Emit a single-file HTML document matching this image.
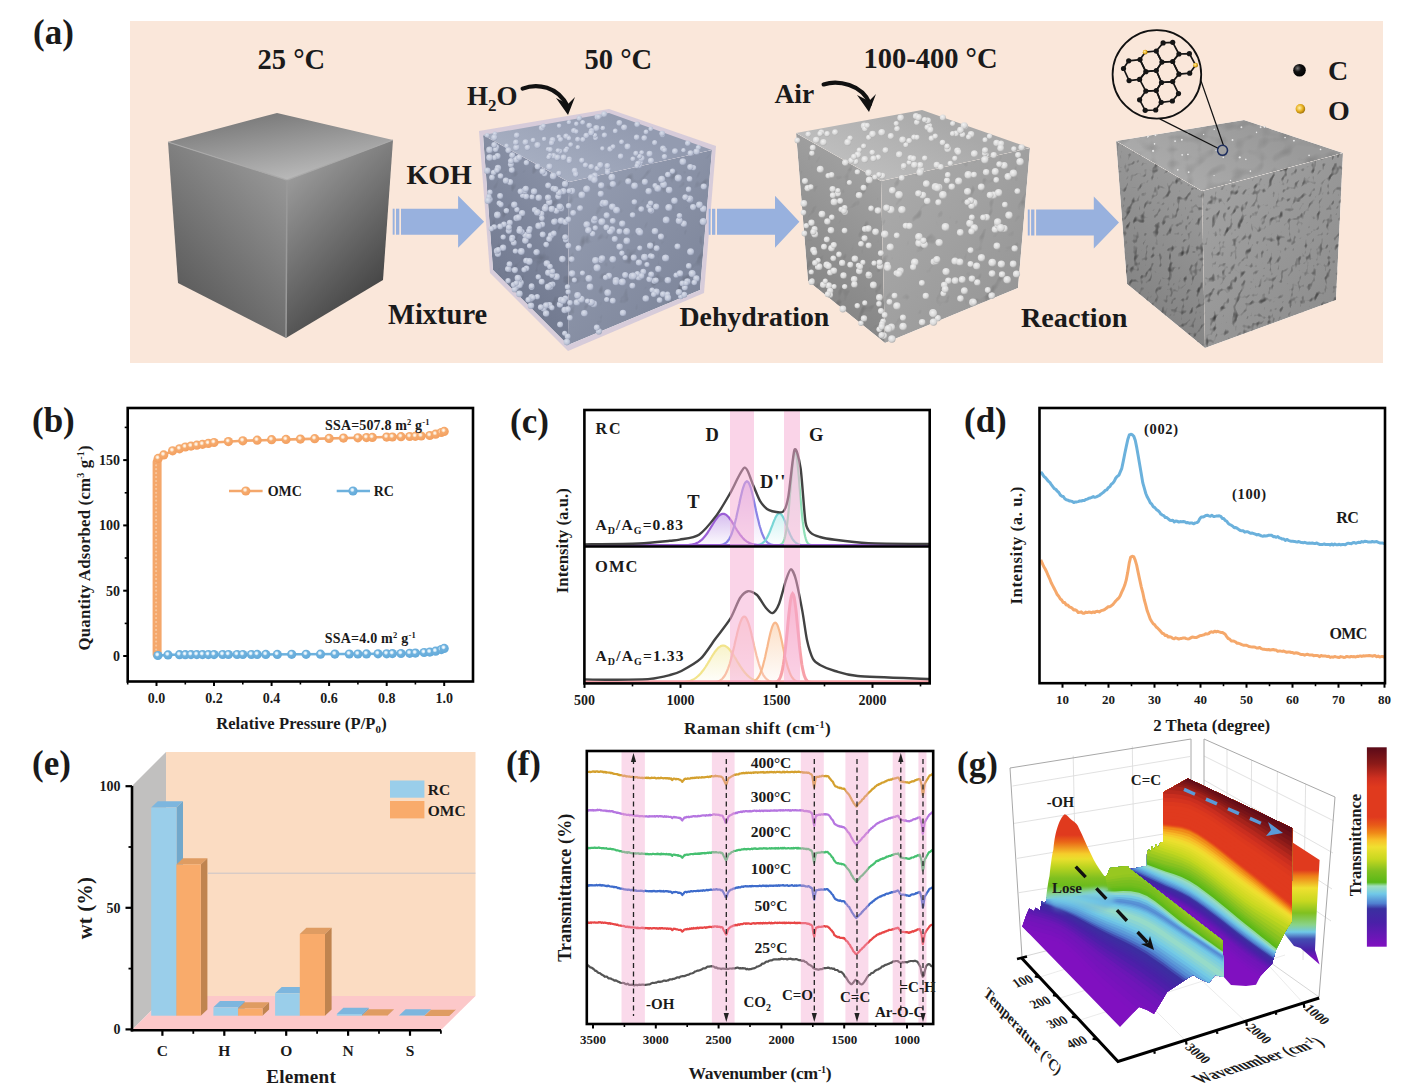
<!DOCTYPE html>
<html><head><meta charset="utf-8"><style>
html,body{margin:0;padding:0;background:#fff;width:1426px;height:1092px;overflow:hidden}
svg{display:block;font-family:"Liberation Serif",serif}
</style></head><body>
<svg width="1426" height="1092" viewBox="0 0 1426 1092">
<defs><linearGradient id="c1top" x1="277" y1="113" x2="287" y2="180" gradientUnits="userSpaceOnUse"><stop offset="0" stop-color="#7c7c7c"/><stop offset="1" stop-color="#b9b9b9"/></linearGradient><linearGradient id="c1left" x1="287" y1="180" x2="178" y2="283" gradientUnits="userSpaceOnUse"><stop offset="0" stop-color="#979797"/><stop offset="1" stop-color="#5e5e5e"/></linearGradient><linearGradient id="c1right" x1="287" y1="180" x2="383" y2="280" gradientUnits="userSpaceOnUse"><stop offset="0" stop-color="#9a9a9a"/><stop offset="1" stop-color="#474747"/></linearGradient><radialGradient id="sph2" cx="0.4" cy="0.35" r="0.65"><stop offset="0" stop-color="#d9deea"/><stop offset="0.7" stop-color="#bcc3d6"/><stop offset="1" stop-color="#9aa2b8"/></radialGradient><radialGradient id="sph3" cx="0.4" cy="0.35" r="0.65"><stop offset="0" stop-color="#f2f2f2"/><stop offset="0.7" stop-color="#d8d8d8"/><stop offset="1" stop-color="#b0b0b0"/></radialGradient><linearGradient id="c2top" x1="609" y1="113" x2="569" y2="182" gradientUnits="userSpaceOnUse"><stop offset="0" stop-color="#939bb0"/><stop offset="1" stop-color="#a5adc0"/></linearGradient><linearGradient id="c2left" x1="569" y1="182" x2="493" y2="270" gradientUnits="userSpaceOnUse"><stop offset="0" stop-color="#8991a6"/><stop offset="1" stop-color="#737b91"/></linearGradient><linearGradient id="c2right" x1="569" y1="182" x2="700" y2="290" gradientUnits="userSpaceOnUse"><stop offset="0" stop-color="#959db1"/><stop offset="1" stop-color="#7e869b"/></linearGradient><filter id="bump2" x="0" y="0" width="1" height="1" color-interpolation-filters="sRGB"><feTurbulence type="fractalNoise" baseFrequency="0.07 0.05" numOctaves="2" seed="12" result="n"/><feDiffuseLighting in="n" surfaceScale="2.0" diffuseConstant="1.25" lighting-color="#fff" result="l"><feDistantLight azimuth="235" elevation="60"/></feDiffuseLighting><feBlend in="SourceGraphic" in2="l" mode="multiply" result="b"/><feComposite in="b" in2="SourceAlpha" operator="in"/></filter><linearGradient id="c3top" x1="922" y1="110" x2="881" y2="181" gradientUnits="userSpaceOnUse"><stop offset="0" stop-color="#a9a9a9"/><stop offset="1" stop-color="#bdbdbd"/></linearGradient><linearGradient id="c3left" x1="881" y1="181" x2="808" y2="281" gradientUnits="userSpaceOnUse"><stop offset="0" stop-color="#a0a0a0"/><stop offset="1" stop-color="#888888"/></linearGradient><linearGradient id="c3right" x1="881" y1="181" x2="1018" y2="288" gradientUnits="userSpaceOnUse"><stop offset="0" stop-color="#ababab"/><stop offset="1" stop-color="#979797"/></linearGradient><linearGradient id="c4top" x1="1244" y1="120" x2="1202" y2="191" gradientUnits="userSpaceOnUse"><stop offset="0" stop-color="#9a9a9a"/><stop offset="1" stop-color="#aaaaaa"/></linearGradient><linearGradient id="c4left" x1="1202" y1="191" x2="1127" y2="284" gradientUnits="userSpaceOnUse"><stop offset="0" stop-color="#9a9a9a"/><stop offset="1" stop-color="#858585"/></linearGradient><linearGradient id="c4right" x1="1202" y1="191" x2="1336" y2="300" gradientUnits="userSpaceOnUse"><stop offset="0" stop-color="#a2a2a2"/><stop offset="1" stop-color="#8e8e8e"/></linearGradient><filter id="bump4" x="0" y="0" width="1" height="1" color-interpolation-filters="sRGB"><feTurbulence type="fractalNoise" baseFrequency="0.14 0.1" numOctaves="2" seed="4" result="n"/><feDiffuseLighting in="n" surfaceScale="2.8" diffuseConstant="1.32" lighting-color="#fff" result="l"><feDistantLight azimuth="235" elevation="58"/></feDiffuseLighting><feBlend in="SourceGraphic" in2="l" mode="multiply" result="b"/><feComposite in="b" in2="SourceAlpha" operator="in"/></filter><filter id="bump4t" x="0" y="0" width="1" height="1" color-interpolation-filters="sRGB"><feTurbulence type="fractalNoise" baseFrequency="0.08" numOctaves="1" seed="9" result="n"/><feDiffuseLighting in="n" surfaceScale="1.5" diffuseConstant="1.15" lighting-color="#fff" result="l"><feDistantLight azimuth="235" elevation="60"/></feDiffuseLighting><feBlend in="SourceGraphic" in2="l" mode="multiply" result="b"/><feComposite in="b" in2="SourceAlpha" operator="in"/></filter><radialGradient id="atomC" cx="0.35" cy="0.35" r="0.7"><stop offset="0" stop-color="#777"/><stop offset="0.4" stop-color="#111"/><stop offset="1" stop-color="#000"/></radialGradient><radialGradient id="atomO" cx="0.4" cy="0.4" r="0.7"><stop offset="0" stop-color="#fff3b0"/><stop offset="0.5" stop-color="#e8b020"/><stop offset="1" stop-color="#8a6000"/></radialGradient><radialGradient id="mkO" cx="0.42" cy="0.38" r="0.62"><stop offset="0" stop-color="#ffffff"/><stop offset="0.22" stop-color="#fce2c8"/><stop offset="0.42" stop-color="#f6ab6e"/><stop offset="1" stop-color="#f39f5f"/></radialGradient><radialGradient id="mkR" cx="0.42" cy="0.38" r="0.62"><stop offset="0" stop-color="#ffffff"/><stop offset="0.22" stop-color="#d4eaf8"/><stop offset="0.42" stop-color="#6fb2de"/><stop offset="1" stop-color="#62a9d9"/></radialGradient><linearGradient id="gc_T" x1="0" y1="0" x2="0" y2="1"><stop offset="0" stop-color="#c9a8ea" stop-opacity="0.75"/><stop offset="1" stop-color="#c9a8ea" stop-opacity="0.05"/></linearGradient><linearGradient id="gc_D" x1="0" y1="0" x2="0" y2="1"><stop offset="0" stop-color="#d5b9f0" stop-opacity="0.75"/><stop offset="1" stop-color="#d5b9f0" stop-opacity="0.05"/></linearGradient><linearGradient id="gc_Dpp" x1="0" y1="0" x2="0" y2="1"><stop offset="0" stop-color="#bfeeee" stop-opacity="0.75"/><stop offset="1" stop-color="#bfeeee" stop-opacity="0.05"/></linearGradient><linearGradient id="gc_G" x1="0" y1="0" x2="0" y2="1"><stop offset="0" stop-color="#cdeee6" stop-opacity="0.75"/><stop offset="1" stop-color="#cdeee6" stop-opacity="0.05"/></linearGradient><linearGradient id="gc_Y" x1="0" y1="0" x2="0" y2="1"><stop offset="0" stop-color="#f6efb8" stop-opacity="0.75"/><stop offset="1" stop-color="#f6efb8" stop-opacity="0.05"/></linearGradient><linearGradient id="gc_P" x1="0" y1="0" x2="0" y2="1"><stop offset="0" stop-color="#fbd8cc" stop-opacity="0.75"/><stop offset="1" stop-color="#fbd8cc" stop-opacity="0.05"/></linearGradient><linearGradient id="gc_O" x1="0" y1="0" x2="0" y2="1"><stop offset="0" stop-color="#fbd5b5" stop-opacity="0.75"/><stop offset="1" stop-color="#fbd5b5" stop-opacity="0.05"/></linearGradient><linearGradient id="gc_R" x1="0" y1="0" x2="0" y2="1"><stop offset="0" stop-color="#f9b0c0" stop-opacity="0.75"/><stop offset="1" stop-color="#f9b0c0" stop-opacity="0.05"/></linearGradient><linearGradient id="gRP" gradientUnits="userSpaceOnUse" x1="1300" y1="845" x2="1300" y2="965"><stop offset="0.0000" stop-color="#e03a1e"/><stop offset="0.2083" stop-color="#e03a1e"/><stop offset="0.2583" stop-color="#ee7e18"/><stop offset="0.3583" stop-color="#f0e030"/><stop offset="0.4667" stop-color="#c8d820"/><stop offset="0.5667" stop-color="#80c020"/><stop offset="0.6667" stop-color="#89d38b"/><stop offset="0.7250" stop-color="#70c8e8"/><stop offset="0.7833" stop-color="#424eb2"/><stop offset="0.8750" stop-color="#4a20a8"/><stop offset="0.9333" stop-color="#7214ba"/><stop offset="1.0000" stop-color="#8010c0"/></linearGradient><clipPath id="cpPL"><polygon points="1163.7,792.1 1187.9,778.4 1292.1,827.9 1292,921 1285,932 1276,950 1272,964 1266,970 1260.5,976 1256,984.7 1246,986 1231,985 1222,975 1222.6,940.5 1130,869 1146.8,866 1147,852 1149,849 1150,853 1152,846 1154,850 1156,844 1158,848 1160,843 1163,842"/></clipPath><clipPath id="cpFG"><polygon points="1022.2,926.6 1120,1027 1139,1007 1147,1010 1154,1014 1163,999 1167,992 1185,980 1193,975 1200,979 1209,983 1215,975 1223.7,977 1222.6,940.5 1130,869 1127.6,866 1118,867 1110,868 1107,875 1090,888 1050,896 1046.6,897.6 1045.4,903.6 1041.8,901.2 1040,910.7 1035.8,907.8 1034,911.3 1029.3,908.4 1026.3,915"/></clipPath><linearGradient id="gOH" gradientUnits="userSpaceOnUse" x1="1065" y1="814" x2="1065" y2="900"><stop offset="0.0000" stop-color="#e03a1e"/><stop offset="0.2442" stop-color="#e03a1e"/><stop offset="0.3256" stop-color="#ea6618"/><stop offset="0.4651" stop-color="#f5ce2b"/><stop offset="0.5233" stop-color="#e9df2d"/><stop offset="0.6163" stop-color="#bcd420"/><stop offset="0.7442" stop-color="#80c020"/><stop offset="0.8372" stop-color="#6bbc1c"/><stop offset="0.9302" stop-color="#89d38b"/><stop offset="1.0000" stop-color="#82d1d9"/></linearGradient><linearGradient id="gOHb" x1="0" y1="0" x2="0" y2="1"><stop offset="0" stop-color="#8fd7ce" stop-opacity="1"/><stop offset="0.5" stop-color="#70c8e8" stop-opacity="0.8"/><stop offset="1" stop-color="#5284d2" stop-opacity="0"/></linearGradient><filter id="blur3" x="-0.3" y="-0.3" width="1.6" height="1.6"><feGaussianBlur stdDeviation="2.5"/></filter><linearGradient id="gCB" x1="0" y1="0" x2="0" y2="1"><stop offset="0.000" stop-color="#5a0a18"/><stop offset="0.080" stop-color="#8a1a18"/><stop offset="0.156" stop-color="#d03020"/><stop offset="0.200" stop-color="#e03a1e"/><stop offset="0.350" stop-color="#e03a1e"/><stop offset="0.390" stop-color="#e85a18"/><stop offset="0.430" stop-color="#f08a18"/><stop offset="0.465" stop-color="#f8c028"/><stop offset="0.500" stop-color="#f0e030"/><stop offset="0.560" stop-color="#c8d820"/><stop offset="0.620" stop-color="#80c020"/><stop offset="0.677" stop-color="#58b818"/><stop offset="0.696" stop-color="#a0e0c0"/><stop offset="0.735" stop-color="#70c8e8"/><stop offset="0.783" stop-color="#5080d0"/><stop offset="0.810" stop-color="#3a30a0"/><stop offset="0.880" stop-color="#4a20a8"/><stop offset="1.000" stop-color="#8010c0"/></linearGradient></defs>
<rect x="130" y="21" width="1253" height="342" fill="#FAE7DA"/><polygon points="277,113 393,140 287,180 168,142" fill="url(#c1top)"/><polygon points="168,142 287,180 286,338 178,283" fill="url(#c1left)"/><polygon points="287,180 393,140 383,280 286,338" fill="url(#c1right)"/><polyline points="168,142 287,180 393,140" fill="none" stroke="#a9a9a9" stroke-width="1.2"/><line x1="287" y1="180" x2="286" y2="338" stroke="#9a9a9a" stroke-width="1.5"/><polygon points="609,109 716,146 704,293 568,351 490,273 479,131" fill="#d3c9d9" opacity="0.9"/><polygon points="483,135 609,113 712,150 569,182" fill="url(#c2top)"/><g filter="url(#bump2)"><polygon points="483,135 569,182 568,345 493,270" fill="url(#c2left)"/><polygon points="569,182 712,150 700,290 568,345" fill="url(#c2right)"/></g><circle cx="574.7" cy="170.7" r="3" fill="url(#sph2)"/><circle cx="559.9" cy="151.4" r="2.7" fill="url(#sph2)"/><circle cx="641.7" cy="152.6" r="2.4" fill="url(#sph2)"/><circle cx="558.9" cy="173.4" r="2.7" fill="url(#sph2)"/><circle cx="579.3" cy="118.3" r="2.7" fill="url(#sph2)"/><circle cx="596.4" cy="128.2" r="3.2" fill="url(#sph2)"/><circle cx="599.7" cy="116.3" r="2.3" fill="url(#sph2)"/><circle cx="640.6" cy="162.1" r="2.6" fill="url(#sph2)"/><circle cx="548.1" cy="149.2" r="2.3" fill="url(#sph2)"/><circle cx="550.2" cy="149.7" r="2.7" fill="url(#sph2)"/><circle cx="533.1" cy="140.2" r="2.5" fill="url(#sph2)"/><circle cx="568.1" cy="137.2" r="2.3" fill="url(#sph2)"/><circle cx="644.3" cy="138.1" r="2.9" fill="url(#sph2)"/><circle cx="594.9" cy="175.7" r="3.1" fill="url(#sph2)"/><circle cx="527.5" cy="147.6" r="2.9" fill="url(#sph2)"/><circle cx="664.5" cy="156.7" r="2.7" fill="url(#sph2)"/><circle cx="654.7" cy="142.7" r="2.6" fill="url(#sph2)"/><circle cx="641.7" cy="158.4" r="3.1" fill="url(#sph2)"/><circle cx="602.4" cy="148.6" r="2.3" fill="url(#sph2)"/><circle cx="585.5" cy="165.2" r="2.7" fill="url(#sph2)"/><circle cx="553.6" cy="156" r="2.9" fill="url(#sph2)"/><circle cx="604.5" cy="135.2" r="2.7" fill="url(#sph2)"/><circle cx="620.7" cy="156.4" r="2.8" fill="url(#sph2)"/><circle cx="577.9" cy="147.4" r="2.3" fill="url(#sph2)"/><circle cx="549.5" cy="166.8" r="3.2" fill="url(#sph2)"/><circle cx="595.6" cy="138.1" r="2.5" fill="url(#sph2)"/><circle cx="639.1" cy="165.2" r="3" fill="url(#sph2)"/><circle cx="632.9" cy="158.9" r="2.5" fill="url(#sph2)"/><circle cx="638" cy="163.6" r="2.8" fill="url(#sph2)"/><circle cx="566.1" cy="136.3" r="2.8" fill="url(#sph2)"/><circle cx="604.2" cy="114.2" r="3" fill="url(#sph2)"/><circle cx="675" cy="151.3" r="3" fill="url(#sph2)"/><circle cx="636.7" cy="137.4" r="2.8" fill="url(#sph2)"/><circle cx="541.9" cy="128" r="3.1" fill="url(#sph2)"/><circle cx="573.9" cy="130.7" r="2.8" fill="url(#sph2)"/><circle cx="577.7" cy="139.4" r="2.6" fill="url(#sph2)"/><circle cx="610.2" cy="149.1" r="2.9" fill="url(#sph2)"/><circle cx="543.4" cy="126.1" r="2.5" fill="url(#sph2)"/><circle cx="557.4" cy="157.5" r="3.1" fill="url(#sph2)"/><circle cx="663" cy="148.5" r="3" fill="url(#sph2)"/><circle cx="591.2" cy="166.8" r="2.9" fill="url(#sph2)"/><circle cx="494.9" cy="133.9" r="2.3" fill="url(#sph2)"/><circle cx="602.9" cy="128.2" r="2.4" fill="url(#sph2)"/><circle cx="595" cy="135.3" r="2.4" fill="url(#sph2)"/><circle cx="549.9" cy="155.4" r="2.5" fill="url(#sph2)"/><circle cx="581.9" cy="160.5" r="2.7" fill="url(#sph2)"/><circle cx="566.9" cy="148.7" r="2.3" fill="url(#sph2)"/><circle cx="570.7" cy="144.7" r="2.5" fill="url(#sph2)"/><circle cx="575.8" cy="173.9" r="2.8" fill="url(#sph2)"/><circle cx="563.6" cy="157.6" r="3" fill="url(#sph2)"/><circle cx="487.2" cy="135.4" r="2.4" fill="url(#sph2)"/><circle cx="589.3" cy="125.6" r="2.9" fill="url(#sph2)"/><circle cx="621.6" cy="142" r="2.5" fill="url(#sph2)"/><circle cx="687.8" cy="143.3" r="2.8" fill="url(#sph2)"/><circle cx="569.4" cy="159.1" r="2.7" fill="url(#sph2)"/><circle cx="586.3" cy="135.6" r="2.9" fill="url(#sph2)"/><circle cx="516.4" cy="147.6" r="3.2" fill="url(#sph2)"/><circle cx="624.2" cy="127.5" r="3.1" fill="url(#sph2)"/><circle cx="607.8" cy="169.4" r="3" fill="url(#sph2)"/><circle cx="558.9" cy="136.7" r="2.3" fill="url(#sph2)"/><circle cx="597.5" cy="117.1" r="3" fill="url(#sph2)"/><circle cx="662.6" cy="135.1" r="2.5" fill="url(#sph2)"/><circle cx="690.5" cy="153.2" r="2.9" fill="url(#sph2)"/><circle cx="582.9" cy="139.6" r="2.6" fill="url(#sph2)"/><circle cx="569.3" cy="160.8" r="2.7" fill="url(#sph2)"/><circle cx="516.8" cy="135.4" r="2.9" fill="url(#sph2)"/><circle cx="565.8" cy="150.5" r="2.6" fill="url(#sph2)"/><circle cx="683.5" cy="150.3" r="2.3" fill="url(#sph2)"/><circle cx="537.6" cy="145.3" r="3.2" fill="url(#sph2)"/><circle cx="615.3" cy="131.1" r="2.5" fill="url(#sph2)"/><circle cx="649.6" cy="153.9" r="3.1" fill="url(#sph2)"/><circle cx="607.4" cy="165.9" r="2.9" fill="url(#sph2)"/><circle cx="636.9" cy="165.9" r="2.5" fill="url(#sph2)"/><circle cx="582.7" cy="122.4" r="2.5" fill="url(#sph2)"/><circle cx="619.4" cy="123" r="3" fill="url(#sph2)"/><circle cx="639.5" cy="156.3" r="2.6" fill="url(#sph2)"/><circle cx="552.6" cy="140.2" r="3.1" fill="url(#sph2)"/><circle cx="651" cy="160.8" r="3.1" fill="url(#sph2)"/><circle cx="548.7" cy="157.2" r="2.4" fill="url(#sph2)"/><circle cx="494.3" cy="137.6" r="3.1" fill="url(#sph2)"/><circle cx="664.7" cy="150.1" r="2.6" fill="url(#sph2)"/><circle cx="635.9" cy="153.4" r="2.6" fill="url(#sph2)"/><circle cx="576.3" cy="131.7" r="2.4" fill="url(#sph2)"/><circle cx="597.3" cy="168.6" r="2.8" fill="url(#sph2)"/><circle cx="646.1" cy="131.9" r="2.5" fill="url(#sph2)"/><circle cx="664.4" cy="150.1" r="2.3" fill="url(#sph2)"/><circle cx="576.4" cy="123.9" r="2.4" fill="url(#sph2)"/><circle cx="598.6" cy="117.1" r="2.5" fill="url(#sph2)"/><circle cx="650.8" cy="128.9" r="2.4" fill="url(#sph2)"/><circle cx="525.5" cy="142.3" r="3" fill="url(#sph2)"/><circle cx="575.9" cy="174.6" r="2.6" fill="url(#sph2)"/><circle cx="698.4" cy="147.6" r="2.6" fill="url(#sph2)"/><circle cx="558" cy="150.6" r="2.4" fill="url(#sph2)"/><circle cx="569" cy="122.3" r="2.3" fill="url(#sph2)"/><circle cx="637.2" cy="124.4" r="2.8" fill="url(#sph2)"/><circle cx="569" cy="138.4" r="2.4" fill="url(#sph2)"/><circle cx="696.6" cy="151.6" r="3.2" fill="url(#sph2)"/><circle cx="515.9" cy="142.4" r="2.9" fill="url(#sph2)"/><circle cx="662.2" cy="133.6" r="2.9" fill="url(#sph2)"/><circle cx="591.6" cy="130.9" r="2.8" fill="url(#sph2)"/><circle cx="544.2" cy="139.1" r="2.4" fill="url(#sph2)"/><circle cx="607.6" cy="172.3" r="2.7" fill="url(#sph2)"/><circle cx="627.6" cy="146.7" r="3.1" fill="url(#sph2)"/><circle cx="560.6" cy="139.6" r="2.6" fill="url(#sph2)"/><circle cx="600.3" cy="165.2" r="3.1" fill="url(#sph2)"/><circle cx="551.6" cy="143" r="2.8" fill="url(#sph2)"/><circle cx="613.1" cy="146.8" r="2.5" fill="url(#sph2)"/><circle cx="506.6" cy="146" r="2.4" fill="url(#sph2)"/><circle cx="559.2" cy="125.8" r="2.4" fill="url(#sph2)"/><circle cx="591.2" cy="132.8" r="3" fill="url(#sph2)"/><circle cx="564.7" cy="333.3" r="2.6" fill="url(#sph2)"/><circle cx="497.9" cy="253.8" r="3.2" fill="url(#sph2)"/><circle cx="541.4" cy="213.9" r="3.1" fill="url(#sph2)"/><circle cx="537.1" cy="251.9" r="2.7" fill="url(#sph2)"/><circle cx="522.1" cy="213.1" r="3.2" fill="url(#sph2)"/><circle cx="567.7" cy="336.4" r="3" fill="url(#sph2)"/><circle cx="522.6" cy="195.5" r="2.6" fill="url(#sph2)"/><circle cx="489.9" cy="199.4" r="2.9" fill="url(#sph2)"/><circle cx="520.9" cy="282.7" r="3" fill="url(#sph2)"/><circle cx="532.1" cy="196.9" r="2.6" fill="url(#sph2)"/><circle cx="511.8" cy="170" r="3" fill="url(#sph2)"/><circle cx="568.2" cy="291.9" r="2.7" fill="url(#sph2)"/><circle cx="560" cy="304.5" r="3.2" fill="url(#sph2)"/><circle cx="561" cy="300" r="3.2" fill="url(#sph2)"/><circle cx="519.4" cy="293.8" r="3.4" fill="url(#sph2)"/><circle cx="503.1" cy="247.8" r="3.2" fill="url(#sph2)"/><circle cx="525.3" cy="235.1" r="3" fill="url(#sph2)"/><circle cx="562.4" cy="259.1" r="3.3" fill="url(#sph2)"/><circle cx="518.8" cy="279.6" r="3.3" fill="url(#sph2)"/><circle cx="525.4" cy="240.6" r="3.3" fill="url(#sph2)"/><circle cx="546.2" cy="244.6" r="2.8" fill="url(#sph2)"/><circle cx="515.4" cy="251.1" r="2.7" fill="url(#sph2)"/><circle cx="561.1" cy="220.7" r="3.3" fill="url(#sph2)"/><circle cx="515.9" cy="287.1" r="3.2" fill="url(#sph2)"/><circle cx="528.7" cy="235.9" r="3.1" fill="url(#sph2)"/><circle cx="534.7" cy="209.9" r="2.8" fill="url(#sph2)"/><circle cx="531.1" cy="298.6" r="3.1" fill="url(#sph2)"/><circle cx="497" cy="251" r="3.2" fill="url(#sph2)"/><circle cx="561.1" cy="208.4" r="3.2" fill="url(#sph2)"/><circle cx="494.2" cy="227" r="2.8" fill="url(#sph2)"/><circle cx="509.1" cy="269.4" r="2.7" fill="url(#sph2)"/><circle cx="531.6" cy="287.3" r="2.8" fill="url(#sph2)"/><circle cx="507.9" cy="269" r="2.9" fill="url(#sph2)"/><circle cx="544.7" cy="173.6" r="2.9" fill="url(#sph2)"/><circle cx="503.2" cy="237.1" r="2.7" fill="url(#sph2)"/><circle cx="565.1" cy="184" r="3.2" fill="url(#sph2)"/><circle cx="487.3" cy="170.7" r="3.3" fill="url(#sph2)"/><circle cx="498" cy="168" r="3.2" fill="url(#sph2)"/><circle cx="516.4" cy="159.4" r="3.4" fill="url(#sph2)"/><circle cx="496.3" cy="147.2" r="2.9" fill="url(#sph2)"/><circle cx="538.3" cy="276.9" r="2.7" fill="url(#sph2)"/><circle cx="512.2" cy="155.3" r="3" fill="url(#sph2)"/><circle cx="550" cy="286.8" r="3.3" fill="url(#sph2)"/><circle cx="549.4" cy="305.2" r="3.2" fill="url(#sph2)"/><circle cx="524.7" cy="190.7" r="3.1" fill="url(#sph2)"/><circle cx="510.9" cy="164.5" r="3" fill="url(#sph2)"/><circle cx="558.3" cy="196.5" r="3.1" fill="url(#sph2)"/><circle cx="519.7" cy="228.6" r="2.7" fill="url(#sph2)"/><circle cx="565.4" cy="222" r="3.1" fill="url(#sph2)"/><circle cx="519.2" cy="157.4" r="3" fill="url(#sph2)"/><circle cx="495.6" cy="149.5" r="2.6" fill="url(#sph2)"/><circle cx="497.6" cy="156" r="3.1" fill="url(#sph2)"/><circle cx="531" cy="305.7" r="3.3" fill="url(#sph2)"/><circle cx="568.3" cy="219.6" r="3" fill="url(#sph2)"/><circle cx="508.8" cy="230.8" r="3.1" fill="url(#sph2)"/><circle cx="552.7" cy="284.3" r="2.8" fill="url(#sph2)"/><circle cx="522.2" cy="232.1" r="2.6" fill="url(#sph2)"/><circle cx="490" cy="192.3" r="2.7" fill="url(#sph2)"/><circle cx="545.7" cy="206.4" r="2.7" fill="url(#sph2)"/><circle cx="500.5" cy="176" r="2.8" fill="url(#sph2)"/><circle cx="529.8" cy="228.9" r="2.8" fill="url(#sph2)"/><circle cx="538.8" cy="197.7" r="3.3" fill="url(#sph2)"/><circle cx="565.4" cy="298.3" r="2.9" fill="url(#sph2)"/><circle cx="529.5" cy="245.8" r="2.6" fill="url(#sph2)"/><circle cx="521.8" cy="231.7" r="2.7" fill="url(#sph2)"/><circle cx="498.3" cy="249.9" r="2.9" fill="url(#sph2)"/><circle cx="531.6" cy="297.2" r="3.1" fill="url(#sph2)"/><circle cx="514.6" cy="289.4" r="2.9" fill="url(#sph2)"/><circle cx="491.3" cy="228.8" r="2.7" fill="url(#sph2)"/><circle cx="514.9" cy="270.1" r="3.1" fill="url(#sph2)"/><circle cx="488.8" cy="196.9" r="2.9" fill="url(#sph2)"/><circle cx="525.8" cy="188.8" r="3.1" fill="url(#sph2)"/><circle cx="492" cy="177.4" r="2.9" fill="url(#sph2)"/><circle cx="563.4" cy="191.3" r="3.2" fill="url(#sph2)"/><circle cx="504" cy="224.3" r="2.9" fill="url(#sph2)"/><circle cx="526.5" cy="268.3" r="2.9" fill="url(#sph2)"/><circle cx="494.5" cy="157.6" r="2.7" fill="url(#sph2)"/><circle cx="556.5" cy="276.7" r="3.4" fill="url(#sph2)"/><circle cx="542.6" cy="171.4" r="3.1" fill="url(#sph2)"/><circle cx="550.9" cy="284.9" r="3" fill="url(#sph2)"/><circle cx="516.5" cy="218.1" r="3.2" fill="url(#sph2)"/><circle cx="509.8" cy="222.7" r="3" fill="url(#sph2)"/><circle cx="564.7" cy="310" r="3.3" fill="url(#sph2)"/><circle cx="555.1" cy="221.3" r="2.8" fill="url(#sph2)"/><circle cx="526.2" cy="196.5" r="2.9" fill="url(#sph2)"/><circle cx="543.7" cy="308.4" r="3.1" fill="url(#sph2)"/><circle cx="553.4" cy="188.6" r="2.9" fill="url(#sph2)"/><circle cx="568.7" cy="205.8" r="2.9" fill="url(#sph2)"/><circle cx="489.5" cy="149.9" r="3.3" fill="url(#sph2)"/><circle cx="567.5" cy="286.9" r="2.7" fill="url(#sph2)"/><circle cx="510.1" cy="182.1" r="3.1" fill="url(#sph2)"/><circle cx="542.7" cy="234.6" r="3" fill="url(#sph2)"/><circle cx="497.4" cy="215" r="3.4" fill="url(#sph2)"/><circle cx="548.2" cy="185.5" r="3" fill="url(#sph2)"/><circle cx="545.1" cy="208.5" r="3.3" fill="url(#sph2)"/><circle cx="526.1" cy="260.7" r="2.9" fill="url(#sph2)"/><circle cx="567.8" cy="309.3" r="3.1" fill="url(#sph2)"/><circle cx="499.2" cy="203.2" r="2.6" fill="url(#sph2)"/><circle cx="537.2" cy="296.7" r="2.7" fill="url(#sph2)"/><circle cx="529" cy="231" r="2.9" fill="url(#sph2)"/><circle cx="546.1" cy="313.5" r="3.2" fill="url(#sph2)"/><circle cx="528.3" cy="299.8" r="2.9" fill="url(#sph2)"/><circle cx="548.3" cy="272.7" r="3.2" fill="url(#sph2)"/><circle cx="556.4" cy="210.8" r="3.1" fill="url(#sph2)"/><circle cx="521.3" cy="251.5" r="3.4" fill="url(#sph2)"/><circle cx="537.6" cy="166.6" r="3" fill="url(#sph2)"/><circle cx="546.1" cy="305.3" r="3.1" fill="url(#sph2)"/><circle cx="553.2" cy="176.1" r="3.4" fill="url(#sph2)"/><circle cx="546.9" cy="263.5" r="3.3" fill="url(#sph2)"/><circle cx="559.1" cy="192.6" r="3.3" fill="url(#sph2)"/><circle cx="549.3" cy="202.3" r="3.2" fill="url(#sph2)"/><circle cx="534.1" cy="191.5" r="3.2" fill="url(#sph2)"/><circle cx="500.1" cy="226.5" r="2.9" fill="url(#sph2)"/><circle cx="508.9" cy="227.4" r="3" fill="url(#sph2)"/><circle cx="508.1" cy="280.7" r="2.7" fill="url(#sph2)"/><circle cx="488.1" cy="200.7" r="3.3" fill="url(#sph2)"/><circle cx="541.7" cy="281.7" r="3" fill="url(#sph2)"/><circle cx="541.9" cy="218.3" r="2.8" fill="url(#sph2)"/><circle cx="526.4" cy="162.7" r="2.7" fill="url(#sph2)"/><circle cx="548.1" cy="197.6" r="3.2" fill="url(#sph2)"/><circle cx="551" cy="235.4" r="3.1" fill="url(#sph2)"/><circle cx="551.9" cy="307.7" r="2.7" fill="url(#sph2)"/><circle cx="500.1" cy="195.9" r="3" fill="url(#sph2)"/><circle cx="508.4" cy="150.3" r="3" fill="url(#sph2)"/><circle cx="565.9" cy="239.8" r="3" fill="url(#sph2)"/><circle cx="518.4" cy="217.5" r="3.3" fill="url(#sph2)"/><circle cx="513.8" cy="242.7" r="3" fill="url(#sph2)"/><circle cx="533" cy="297.6" r="2.7" fill="url(#sph2)"/><circle cx="554.2" cy="221.8" r="3.1" fill="url(#sph2)"/><circle cx="552.3" cy="275.2" r="2.9" fill="url(#sph2)"/><circle cx="555.4" cy="189.2" r="3.1" fill="url(#sph2)"/><circle cx="519.7" cy="230.8" r="3.3" fill="url(#sph2)"/><circle cx="552.4" cy="271.4" r="2.8" fill="url(#sph2)"/><circle cx="506.4" cy="210.7" r="2.8" fill="url(#sph2)"/><circle cx="513.5" cy="284.8" r="2.7" fill="url(#sph2)"/><circle cx="553.8" cy="233.4" r="2.9" fill="url(#sph2)"/><circle cx="510.9" cy="161.1" r="3" fill="url(#sph2)"/><circle cx="500.9" cy="204.6" r="2.8" fill="url(#sph2)"/><circle cx="560.1" cy="324.6" r="3" fill="url(#sph2)"/><circle cx="540.8" cy="307.2" r="2.9" fill="url(#sph2)"/><circle cx="493.7" cy="172.5" r="2.8" fill="url(#sph2)"/><circle cx="542.3" cy="224.5" r="2.9" fill="url(#sph2)"/><circle cx="551.7" cy="209" r="3.2" fill="url(#sph2)"/><circle cx="538.6" cy="225.9" r="3.3" fill="url(#sph2)"/><circle cx="517.9" cy="278.1" r="3.3" fill="url(#sph2)"/><circle cx="529.3" cy="261.5" r="3.4" fill="url(#sph2)"/><circle cx="548.2" cy="286.9" r="3.3" fill="url(#sph2)"/><circle cx="563.2" cy="300.4" r="3.4" fill="url(#sph2)"/><circle cx="512.3" cy="237.8" r="3.1" fill="url(#sph2)"/><circle cx="517" cy="209.7" r="2.7" fill="url(#sph2)"/><circle cx="565.2" cy="237.3" r="3" fill="url(#sph2)"/><circle cx="559.9" cy="206.8" r="3.4" fill="url(#sph2)"/><circle cx="494.2" cy="144.9" r="2.9" fill="url(#sph2)"/><circle cx="519.4" cy="285" r="3.3" fill="url(#sph2)"/><circle cx="549.2" cy="239" r="3" fill="url(#sph2)"/><circle cx="509.5" cy="264.2" r="2.9" fill="url(#sph2)"/><circle cx="511.9" cy="239.6" r="2.7" fill="url(#sph2)"/><circle cx="516.2" cy="283.1" r="2.7" fill="url(#sph2)"/><circle cx="497" cy="170.1" r="2.8" fill="url(#sph2)"/><circle cx="520.5" cy="191.5" r="2.9" fill="url(#sph2)"/><circle cx="505.9" cy="180.7" r="3.1" fill="url(#sph2)"/><circle cx="514.3" cy="204.7" r="3.2" fill="url(#sph2)"/><circle cx="489.6" cy="157.6" r="3.3" fill="url(#sph2)"/><circle cx="524.1" cy="269.7" r="2.7" fill="url(#sph2)"/><circle cx="531.6" cy="286.1" r="2.9" fill="url(#sph2)"/><circle cx="550" cy="266.6" r="2.9" fill="url(#sph2)"/><circle cx="568.4" cy="245.8" r="3" fill="url(#sph2)"/><circle cx="537.3" cy="212.4" r="3.3" fill="url(#sph2)"/><circle cx="536.4" cy="252.3" r="3" fill="url(#sph2)"/><circle cx="566.9" cy="342.1" r="3.3" fill="url(#sph2)"/><circle cx="601.1" cy="260.1" r="3" fill="url(#sph2)"/><circle cx="650.6" cy="256" r="2.7" fill="url(#sph2)"/><circle cx="569.9" cy="317.8" r="2.9" fill="url(#sph2)"/><circle cx="598.9" cy="331.4" r="3.1" fill="url(#sph2)"/><circle cx="683.8" cy="223.7" r="3.2" fill="url(#sph2)"/><circle cx="588.9" cy="278.5" r="3.5" fill="url(#sph2)"/><circle cx="638.8" cy="277.2" r="3.3" fill="url(#sph2)"/><circle cx="576.9" cy="302.4" r="3.2" fill="url(#sph2)"/><circle cx="611.9" cy="177.2" r="3.5" fill="url(#sph2)"/><circle cx="632.1" cy="276.2" r="3.5" fill="url(#sph2)"/><circle cx="663" cy="294.2" r="3" fill="url(#sph2)"/><circle cx="679.2" cy="220.7" r="3.5" fill="url(#sph2)"/><circle cx="693.6" cy="167.8" r="2.7" fill="url(#sph2)"/><circle cx="596.8" cy="327.6" r="3" fill="url(#sph2)"/><circle cx="656.2" cy="206.7" r="3.1" fill="url(#sph2)"/><circle cx="622.3" cy="223.7" r="3.2" fill="url(#sph2)"/><circle cx="645.8" cy="298.5" r="3.3" fill="url(#sph2)"/><circle cx="692.2" cy="273.6" r="3.6" fill="url(#sph2)"/><circle cx="663.6" cy="184.6" r="3.5" fill="url(#sph2)"/><circle cx="696.4" cy="278.5" r="3.2" fill="url(#sph2)"/><circle cx="669.2" cy="190.1" r="3.4" fill="url(#sph2)"/><circle cx="648.9" cy="206.3" r="2.7" fill="url(#sph2)"/><circle cx="680.8" cy="296.6" r="2.7" fill="url(#sph2)"/><circle cx="679.5" cy="215.7" r="2.8" fill="url(#sph2)"/><circle cx="607.8" cy="292.7" r="3.5" fill="url(#sph2)"/><circle cx="574.4" cy="280.1" r="2.6" fill="url(#sph2)"/><circle cx="668.8" cy="207.5" r="3.5" fill="url(#sph2)"/><circle cx="703.3" cy="221.6" r="3.6" fill="url(#sph2)"/><circle cx="612.9" cy="184.1" r="3.2" fill="url(#sph2)"/><circle cx="573.2" cy="213" r="3" fill="url(#sph2)"/><circle cx="655.1" cy="185.7" r="2.6" fill="url(#sph2)"/><circle cx="689.8" cy="199.1" r="3.6" fill="url(#sph2)"/><circle cx="693.1" cy="207.1" r="3.1" fill="url(#sph2)"/><circle cx="639" cy="262.6" r="3.2" fill="url(#sph2)"/><circle cx="644.5" cy="257.2" r="3.5" fill="url(#sph2)"/><circle cx="638.7" cy="231" r="3.3" fill="url(#sph2)"/><circle cx="601.9" cy="221.8" r="3.6" fill="url(#sph2)"/><circle cx="639.8" cy="248.1" r="2.6" fill="url(#sph2)"/><circle cx="625.1" cy="257.7" r="2.6" fill="url(#sph2)"/><circle cx="652.1" cy="256.4" r="2.7" fill="url(#sph2)"/><circle cx="655" cy="231.2" r="3.3" fill="url(#sph2)"/><circle cx="616" cy="280.2" r="3.3" fill="url(#sph2)"/><circle cx="572.1" cy="191.1" r="3.3" fill="url(#sph2)"/><circle cx="703.8" cy="186.5" r="3.1" fill="url(#sph2)"/><circle cx="651.3" cy="210.8" r="3" fill="url(#sph2)"/><circle cx="612.1" cy="229.5" r="3.2" fill="url(#sph2)"/><circle cx="610.3" cy="231.3" r="3.4" fill="url(#sph2)"/><circle cx="572.1" cy="273.6" r="3.3" fill="url(#sph2)"/><circle cx="612.4" cy="206.8" r="3.4" fill="url(#sph2)"/><circle cx="602.5" cy="203.9" r="3" fill="url(#sph2)"/><circle cx="667.9" cy="174.6" r="2.9" fill="url(#sph2)"/><circle cx="612.8" cy="300.8" r="3" fill="url(#sph2)"/><circle cx="689.6" cy="178.9" r="2.9" fill="url(#sph2)"/><circle cx="654.8" cy="292.2" r="3.1" fill="url(#sph2)"/><circle cx="600.8" cy="193.9" r="3.1" fill="url(#sph2)"/><circle cx="593.8" cy="303.9" r="3.4" fill="url(#sph2)"/><circle cx="594.4" cy="220.4" r="3.4" fill="url(#sph2)"/><circle cx="654.3" cy="281" r="2.9" fill="url(#sph2)"/><circle cx="586.8" cy="224.6" r="3.4" fill="url(#sph2)"/><circle cx="606.4" cy="227.6" r="3" fill="url(#sph2)"/><circle cx="626.7" cy="231.4" r="3.5" fill="url(#sph2)"/><circle cx="591.3" cy="177.8" r="3.5" fill="url(#sph2)"/><circle cx="684.3" cy="294.7" r="3" fill="url(#sph2)"/><circle cx="694.3" cy="282.5" r="2.8" fill="url(#sph2)"/><circle cx="667.9" cy="280.2" r="3.3" fill="url(#sph2)"/><circle cx="641.3" cy="209.1" r="2.9" fill="url(#sph2)"/><circle cx="601.3" cy="185.5" r="3.2" fill="url(#sph2)"/><circle cx="606.7" cy="299.5" r="2.6" fill="url(#sph2)"/><circle cx="690.6" cy="251.7" r="3.5" fill="url(#sph2)"/><circle cx="687.4" cy="281.4" r="3.2" fill="url(#sph2)"/><circle cx="570" cy="302.8" r="2.8" fill="url(#sph2)"/><circle cx="609" cy="275.9" r="3.1" fill="url(#sph2)"/><circle cx="623" cy="312.9" r="3.2" fill="url(#sph2)"/><circle cx="616.6" cy="210.2" r="3.5" fill="url(#sph2)"/><circle cx="632.4" cy="285.7" r="3" fill="url(#sph2)"/><circle cx="595.5" cy="260.4" r="3.4" fill="url(#sph2)"/><circle cx="591.2" cy="302.4" r="3.5" fill="url(#sph2)"/><circle cx="676.1" cy="275.2" r="2.6" fill="url(#sph2)"/><circle cx="652.1" cy="290" r="2.6" fill="url(#sph2)"/><circle cx="606.7" cy="215.4" r="3.1" fill="url(#sph2)"/><circle cx="626.8" cy="240.9" r="3.4" fill="url(#sph2)"/><circle cx="569.2" cy="190.9" r="2.7" fill="url(#sph2)"/><circle cx="586.7" cy="189" r="3.6" fill="url(#sph2)"/><circle cx="690.3" cy="167" r="3.1" fill="url(#sph2)"/><circle cx="612.8" cy="220.9" r="3" fill="url(#sph2)"/><circle cx="656.7" cy="248.2" r="3" fill="url(#sph2)"/><circle cx="595.3" cy="228" r="2.7" fill="url(#sph2)"/><circle cx="643.3" cy="271.8" r="3" fill="url(#sph2)"/><circle cx="580.1" cy="208.2" r="3" fill="url(#sph2)"/><circle cx="649.4" cy="279.3" r="3" fill="url(#sph2)"/><circle cx="677.5" cy="246.4" r="3" fill="url(#sph2)"/><circle cx="619.7" cy="246.7" r="3.3" fill="url(#sph2)"/><circle cx="625.2" cy="275" r="3.1" fill="url(#sph2)"/><circle cx="602.1" cy="258.5" r="3.3" fill="url(#sph2)"/><circle cx="578.5" cy="248.3" r="3" fill="url(#sph2)"/><circle cx="684.8" cy="287.6" r="3" fill="url(#sph2)"/><circle cx="688.8" cy="265.9" r="2.9" fill="url(#sph2)"/><circle cx="634.6" cy="185.9" r="3.4" fill="url(#sph2)"/><circle cx="656.4" cy="291.9" r="3.4" fill="url(#sph2)"/><circle cx="658.3" cy="269" r="3.2" fill="url(#sph2)"/><circle cx="582.5" cy="273.1" r="2.6" fill="url(#sph2)"/><circle cx="587.5" cy="301.1" r="2.6" fill="url(#sph2)"/><circle cx="581.9" cy="195" r="3.5" fill="url(#sph2)"/><circle cx="594.5" cy="180" r="3.4" fill="url(#sph2)"/><circle cx="584.4" cy="313.3" r="3.3" fill="url(#sph2)"/><circle cx="678.9" cy="292.2" r="3.2" fill="url(#sph2)"/><circle cx="682.9" cy="161.7" r="3.4" fill="url(#sph2)"/><circle cx="637.4" cy="273.8" r="2.7" fill="url(#sph2)"/><circle cx="667.5" cy="294.3" r="2.7" fill="url(#sph2)"/><circle cx="612.8" cy="259.3" r="3.4" fill="url(#sph2)"/><circle cx="603" cy="202.6" r="2.8" fill="url(#sph2)"/><circle cx="651.2" cy="274.4" r="3" fill="url(#sph2)"/><circle cx="619.5" cy="231.5" r="3" fill="url(#sph2)"/><circle cx="628.3" cy="181.4" r="3.1" fill="url(#sph2)"/><circle cx="703.3" cy="208.9" r="3.3" fill="url(#sph2)"/><circle cx="590.1" cy="286.9" r="3.4" fill="url(#sph2)"/><circle cx="661" cy="236.7" r="3.1" fill="url(#sph2)"/><circle cx="653.7" cy="294.4" r="2.7" fill="url(#sph2)"/><circle cx="581.2" cy="299.2" r="3.5" fill="url(#sph2)"/><circle cx="640" cy="232.4" r="3.3" fill="url(#sph2)"/><circle cx="594.8" cy="218.5" r="2.8" fill="url(#sph2)"/><circle cx="650.4" cy="210.3" r="2.8" fill="url(#sph2)"/><circle cx="659.6" cy="300.1" r="2.9" fill="url(#sph2)"/><circle cx="666.2" cy="220.1" r="3.5" fill="url(#sph2)"/><circle cx="650.6" cy="203.2" r="2.8" fill="url(#sph2)"/><circle cx="571.7" cy="259.2" r="3" fill="url(#sph2)"/><circle cx="592.6" cy="233.8" r="2.9" fill="url(#sph2)"/><circle cx="678.3" cy="178.1" r="3.6" fill="url(#sph2)"/><circle cx="633.8" cy="257.7" r="3.1" fill="url(#sph2)"/><circle cx="680" cy="273.4" r="3.2" fill="url(#sph2)"/><circle cx="633.3" cy="276.1" r="3.5" fill="url(#sph2)"/><circle cx="622.3" cy="282" r="3.6" fill="url(#sph2)"/><circle cx="634.4" cy="202" r="2.8" fill="url(#sph2)"/><circle cx="665.6" cy="258" r="3.6" fill="url(#sph2)"/><circle cx="688.6" cy="189.4" r="2.8" fill="url(#sph2)"/><circle cx="605.3" cy="203.1" r="3.3" fill="url(#sph2)"/><circle cx="682.4" cy="283.4" r="2.9" fill="url(#sph2)"/><circle cx="689.4" cy="199.2" r="3" fill="url(#sph2)"/><circle cx="672.5" cy="171.2" r="2.7" fill="url(#sph2)"/><circle cx="685.3" cy="197.3" r="3" fill="url(#sph2)"/><circle cx="647" cy="264.5" r="2.6" fill="url(#sph2)"/><circle cx="614.8" cy="239" r="3.1" fill="url(#sph2)"/><circle cx="597.1" cy="267.8" r="3.6" fill="url(#sph2)"/><circle cx="622" cy="253.3" r="2.7" fill="url(#sph2)"/><circle cx="605.6" cy="277.5" r="2.7" fill="url(#sph2)"/><circle cx="686.1" cy="283.2" r="2.7" fill="url(#sph2)"/><circle cx="699.4" cy="204.8" r="3.4" fill="url(#sph2)"/><circle cx="674.5" cy="200.8" r="3.3" fill="url(#sph2)"/><circle cx="655.9" cy="280.3" r="2.9" fill="url(#sph2)"/><circle cx="667.9" cy="297.9" r="3.3" fill="url(#sph2)"/><circle cx="644.9" cy="181.9" r="3.1" fill="url(#sph2)"/><circle cx="615.9" cy="282" r="3.3" fill="url(#sph2)"/><circle cx="648.7" cy="191.2" r="3.2" fill="url(#sph2)"/><circle cx="657.8" cy="188.4" r="3.5" fill="url(#sph2)"/><circle cx="661.7" cy="179.2" r="3.5" fill="url(#sph2)"/><circle cx="588.4" cy="230.4" r="3.3" fill="url(#sph2)"/><circle cx="650.2" cy="245.7" r="3.2" fill="url(#sph2)"/><circle cx="632.6" cy="215" r="2.8" fill="url(#sph2)"/><circle cx="577.6" cy="295.4" r="3.4" fill="url(#sph2)"/><circle cx="641.5" cy="275.9" r="3" fill="url(#sph2)"/><polygon points="796,133 922,110 1030,148 881,181" fill="url(#c3top)"/><g filter="url(#bump2)"><polygon points="796,133 881,181 885,343 808,281" fill="url(#c3left)"/><polygon points="881,181 1030,148 1018,288 885,343" fill="url(#c3right)"/></g><circle cx="835.1" cy="132.3" r="3" fill="url(#sph3)"/><circle cx="821.4" cy="132.5" r="3" fill="url(#sph3)"/><circle cx="996.6" cy="143" r="3.3" fill="url(#sph3)"/><circle cx="872.3" cy="152.5" r="2.8" fill="url(#sph3)"/><circle cx="827.2" cy="133.9" r="2.8" fill="url(#sph3)"/><circle cx="1001" cy="143.8" r="3.3" fill="url(#sph3)"/><circle cx="916.9" cy="122.3" r="2.9" fill="url(#sph3)"/><circle cx="947.8" cy="149.1" r="3.4" fill="url(#sph3)"/><circle cx="916" cy="116.2" r="3.1" fill="url(#sph3)"/><circle cx="931.5" cy="138.4" r="2.8" fill="url(#sph3)"/><circle cx="864.2" cy="126" r="3.4" fill="url(#sph3)"/><circle cx="962.5" cy="134.6" r="2.9" fill="url(#sph3)"/><circle cx="971.1" cy="134.4" r="3.4" fill="url(#sph3)"/><circle cx="956" cy="133.6" r="3" fill="url(#sph3)"/><circle cx="914" cy="137.3" r="2.7" fill="url(#sph3)"/><circle cx="909.2" cy="162.5" r="2.6" fill="url(#sph3)"/><circle cx="855.7" cy="161.7" r="2.9" fill="url(#sph3)"/><circle cx="909.2" cy="140.8" r="2.9" fill="url(#sph3)"/><circle cx="942.8" cy="117.5" r="3" fill="url(#sph3)"/><circle cx="878.3" cy="157.4" r="2.8" fill="url(#sph3)"/><circle cx="910.4" cy="158" r="2.9" fill="url(#sph3)"/><circle cx="954.9" cy="158.5" r="2.7" fill="url(#sph3)"/><circle cx="823.5" cy="142.4" r="3.3" fill="url(#sph3)"/><circle cx="897.1" cy="128.8" r="2.9" fill="url(#sph3)"/><circle cx="859.3" cy="150.1" r="2.6" fill="url(#sph3)"/><circle cx="974.4" cy="153.7" r="3.5" fill="url(#sph3)"/><circle cx="986.4" cy="155.1" r="2.6" fill="url(#sph3)"/><circle cx="920.9" cy="169.9" r="3.3" fill="url(#sph3)"/><circle cx="936.8" cy="165" r="3.2" fill="url(#sph3)"/><circle cx="929.5" cy="125.9" r="2.8" fill="url(#sph3)"/><circle cx="865" cy="128.7" r="2.9" fill="url(#sph3)"/><circle cx="952.7" cy="123.6" r="2.6" fill="url(#sph3)"/><circle cx="816.2" cy="140" r="3.3" fill="url(#sph3)"/><circle cx="868.8" cy="137.5" r="2.7" fill="url(#sph3)"/><circle cx="965.3" cy="126.6" r="2.8" fill="url(#sph3)"/><circle cx="808.3" cy="134.3" r="2.8" fill="url(#sph3)"/><circle cx="896.3" cy="123.6" r="2.6" fill="url(#sph3)"/><circle cx="881.8" cy="132.4" r="3.5" fill="url(#sph3)"/><circle cx="857.9" cy="154.9" r="3.3" fill="url(#sph3)"/><circle cx="940.8" cy="167" r="3" fill="url(#sph3)"/><circle cx="863.7" cy="146.2" r="2.6" fill="url(#sph3)"/><circle cx="872.6" cy="134.2" r="3.4" fill="url(#sph3)"/><circle cx="952.6" cy="133.7" r="2.6" fill="url(#sph3)"/><circle cx="850.1" cy="138.2" r="2.8" fill="url(#sph3)"/><circle cx="903.7" cy="167.4" r="2.7" fill="url(#sph3)"/><circle cx="882.4" cy="175.9" r="3.1" fill="url(#sph3)"/><circle cx="964.2" cy="125.6" r="3.4" fill="url(#sph3)"/><circle cx="957.5" cy="150.7" r="3.3" fill="url(#sph3)"/><circle cx="867.2" cy="125.6" r="2.8" fill="url(#sph3)"/><circle cx="1000.7" cy="148.2" r="3.4" fill="url(#sph3)"/><circle cx="899.3" cy="154.6" r="3.3" fill="url(#sph3)"/><circle cx="958.3" cy="152.1" r="3.1" fill="url(#sph3)"/><circle cx="947.1" cy="146.4" r="2.8" fill="url(#sph3)"/><circle cx="1013.9" cy="148.9" r="2.7" fill="url(#sph3)"/><circle cx="1021.6" cy="147.5" r="3.2" fill="url(#sph3)"/><circle cx="878.9" cy="174.7" r="2.7" fill="url(#sph3)"/><circle cx="989.6" cy="136.3" r="2.7" fill="url(#sph3)"/><circle cx="873.5" cy="158.6" r="3.1" fill="url(#sph3)"/><circle cx="984.8" cy="153.4" r="2.8" fill="url(#sph3)"/><circle cx="874.9" cy="177.2" r="2.6" fill="url(#sph3)"/><circle cx="918.6" cy="117.4" r="3.3" fill="url(#sph3)"/><circle cx="985.1" cy="150.3" r="3.1" fill="url(#sph3)"/><circle cx="927.9" cy="120.7" r="3.2" fill="url(#sph3)"/><circle cx="920.2" cy="165.3" r="3.3" fill="url(#sph3)"/><circle cx="905.9" cy="144.9" r="2.6" fill="url(#sph3)"/><circle cx="851.3" cy="160.5" r="3" fill="url(#sph3)"/><circle cx="968.7" cy="137" r="2.7" fill="url(#sph3)"/><circle cx="913.3" cy="158.7" r="3.1" fill="url(#sph3)"/><circle cx="868.7" cy="172.9" r="3.3" fill="url(#sph3)"/><circle cx="854" cy="156.7" r="2.9" fill="url(#sph3)"/><circle cx="927.3" cy="127.4" r="2.8" fill="url(#sph3)"/><circle cx="950.3" cy="163.5" r="2.7" fill="url(#sph3)"/><circle cx="864.8" cy="159.5" r="3.4" fill="url(#sph3)"/><circle cx="902.6" cy="139.8" r="3.4" fill="url(#sph3)"/><circle cx="900.7" cy="117.8" r="3.4" fill="url(#sph3)"/><circle cx="847.7" cy="142.4" r="3.4" fill="url(#sph3)"/><circle cx="924.8" cy="158.2" r="2.8" fill="url(#sph3)"/><circle cx="924.7" cy="119.8" r="2.7" fill="url(#sph3)"/><circle cx="890.9" cy="136.2" r="3.1" fill="url(#sph3)"/><circle cx="985.1" cy="139.9" r="2.6" fill="url(#sph3)"/><circle cx="885.5" cy="150.3" r="3" fill="url(#sph3)"/><circle cx="935.3" cy="136.3" r="2.7" fill="url(#sph3)"/><circle cx="903.8" cy="166" r="2.9" fill="url(#sph3)"/><circle cx="993.8" cy="155.1" r="3.2" fill="url(#sph3)"/><circle cx="942.6" cy="142.6" r="2.9" fill="url(#sph3)"/><circle cx="960.5" cy="130.2" r="3.4" fill="url(#sph3)"/><circle cx="914.4" cy="165" r="3.3" fill="url(#sph3)"/><circle cx="917" cy="137.4" r="2.7" fill="url(#sph3)"/><circle cx="930.4" cy="129.9" r="3.2" fill="url(#sph3)"/><circle cx="820.1" cy="133.8" r="2.7" fill="url(#sph3)"/><circle cx="854.2" cy="279.2" r="3.3" fill="url(#sph3)"/><circle cx="879.4" cy="297.5" r="3.4" fill="url(#sph3)"/><circle cx="803.9" cy="203.5" r="3.4" fill="url(#sph3)"/><circle cx="857.3" cy="305.7" r="2.7" fill="url(#sph3)"/><circle cx="837.9" cy="193.6" r="3.1" fill="url(#sph3)"/><circle cx="844.9" cy="162.6" r="2.8" fill="url(#sph3)"/><circle cx="828.7" cy="285.6" r="3.3" fill="url(#sph3)"/><circle cx="818.1" cy="260.4" r="2.7" fill="url(#sph3)"/><circle cx="849.4" cy="182.5" r="2.6" fill="url(#sph3)"/><circle cx="871.1" cy="208.4" r="2.8" fill="url(#sph3)"/><circle cx="883.1" cy="321.3" r="2.9" fill="url(#sph3)"/><circle cx="880" cy="266.2" r="3.2" fill="url(#sph3)"/><circle cx="823.2" cy="284.8" r="3.2" fill="url(#sph3)"/><circle cx="882" cy="323.8" r="2.9" fill="url(#sph3)"/><circle cx="828.2" cy="175.7" r="2.7" fill="url(#sph3)"/><circle cx="805" cy="181" r="3.1" fill="url(#sph3)"/><circle cx="804.4" cy="233.5" r="2.9" fill="url(#sph3)"/><circle cx="830.1" cy="272.6" r="3" fill="url(#sph3)"/><circle cx="827.4" cy="221.5" r="3.2" fill="url(#sph3)"/><circle cx="812.1" cy="280.8" r="2.6" fill="url(#sph3)"/><circle cx="864.8" cy="302.9" r="2.6" fill="url(#sph3)"/><circle cx="865" cy="229" r="3.1" fill="url(#sph3)"/><circle cx="797.3" cy="140.4" r="2.8" fill="url(#sph3)"/><circle cx="878" cy="210.6" r="3.3" fill="url(#sph3)"/><circle cx="879.3" cy="329.3" r="2.9" fill="url(#sph3)"/><circle cx="831" cy="230.3" r="3.3" fill="url(#sph3)"/><circle cx="813.5" cy="250.1" r="3.3" fill="url(#sph3)"/><circle cx="869.3" cy="180.1" r="3.5" fill="url(#sph3)"/><circle cx="807.6" cy="188.2" r="3.1" fill="url(#sph3)"/><circle cx="875.6" cy="231.8" r="3.4" fill="url(#sph3)"/><circle cx="844.7" cy="207.8" r="2.9" fill="url(#sph3)"/><circle cx="811.9" cy="153.3" r="2.7" fill="url(#sph3)"/><circle cx="861" cy="323.2" r="2.7" fill="url(#sph3)"/><circle cx="811.6" cy="282" r="3.1" fill="url(#sph3)"/><circle cx="832.6" cy="189" r="3.1" fill="url(#sph3)"/><circle cx="868.7" cy="245.4" r="3" fill="url(#sph3)"/><circle cx="811.3" cy="272" r="2.6" fill="url(#sph3)"/><circle cx="844.7" cy="286.6" r="2.7" fill="url(#sph3)"/><circle cx="864" cy="318.4" r="3.2" fill="url(#sph3)"/><circle cx="863.6" cy="187.8" r="3" fill="url(#sph3)"/><circle cx="817.8" cy="266.9" r="2.9" fill="url(#sph3)"/><circle cx="842.9" cy="309" r="3.4" fill="url(#sph3)"/><circle cx="880.9" cy="253.2" r="3" fill="url(#sph3)"/><circle cx="861" cy="243.8" r="2.9" fill="url(#sph3)"/><circle cx="831.6" cy="174.9" r="2.9" fill="url(#sph3)"/><circle cx="883.9" cy="335.8" r="3.2" fill="url(#sph3)"/><circle cx="841.2" cy="209.4" r="2.7" fill="url(#sph3)"/><circle cx="826.8" cy="264.8" r="3.4" fill="url(#sph3)"/><circle cx="833.9" cy="270.7" r="3.3" fill="url(#sph3)"/><circle cx="859.3" cy="271.1" r="3.3" fill="url(#sph3)"/><circle cx="833.3" cy="258.3" r="2.9" fill="url(#sph3)"/><circle cx="843.5" cy="275.5" r="3.2" fill="url(#sph3)"/><circle cx="830.1" cy="290.9" r="3.2" fill="url(#sph3)"/><circle cx="845.4" cy="162.7" r="3.1" fill="url(#sph3)"/><circle cx="824" cy="246.8" r="3" fill="url(#sph3)"/><circle cx="869" cy="275.4" r="3.3" fill="url(#sph3)"/><circle cx="831.5" cy="248.2" r="3.3" fill="url(#sph3)"/><circle cx="868.3" cy="228.6" r="3.4" fill="url(#sph3)"/><circle cx="873.4" cy="285" r="3.5" fill="url(#sph3)"/><circle cx="879.6" cy="262.5" r="3.1" fill="url(#sph3)"/><circle cx="819.1" cy="266.7" r="3.4" fill="url(#sph3)"/><circle cx="842.2" cy="262.9" r="3.2" fill="url(#sph3)"/><circle cx="859.1" cy="195.2" r="3.3" fill="url(#sph3)"/><circle cx="850.3" cy="264.8" r="3" fill="url(#sph3)"/><circle cx="854.4" cy="284.4" r="3.2" fill="url(#sph3)"/><circle cx="857.4" cy="171.9" r="2.7" fill="url(#sph3)"/><circle cx="839" cy="254.4" r="2.8" fill="url(#sph3)"/><circle cx="858.4" cy="265.4" r="2.6" fill="url(#sph3)"/><circle cx="837.9" cy="190.6" r="2.6" fill="url(#sph3)"/><circle cx="810.8" cy="187" r="2.8" fill="url(#sph3)"/><circle cx="812.8" cy="147.7" r="3" fill="url(#sph3)"/><circle cx="833.8" cy="245.1" r="3.1" fill="url(#sph3)"/><circle cx="825.3" cy="281.1" r="2.6" fill="url(#sph3)"/><circle cx="832.9" cy="195.3" r="3" fill="url(#sph3)"/><circle cx="815" cy="262.9" r="2.9" fill="url(#sph3)"/><circle cx="806.3" cy="225.8" r="2.7" fill="url(#sph3)"/><circle cx="844.9" cy="212" r="3.1" fill="url(#sph3)"/><circle cx="881" cy="311.1" r="3" fill="url(#sph3)"/><circle cx="868.6" cy="274.4" r="2.9" fill="url(#sph3)"/><circle cx="814.6" cy="229.2" r="3.1" fill="url(#sph3)"/><circle cx="881.6" cy="335.2" r="3.1" fill="url(#sph3)"/><circle cx="834.1" cy="286.5" r="2.6" fill="url(#sph3)"/><circle cx="811.5" cy="222.8" r="3.2" fill="url(#sph3)"/><circle cx="814.8" cy="234.2" r="3.4" fill="url(#sph3)"/><circle cx="831.8" cy="217.2" r="2.8" fill="url(#sph3)"/><circle cx="830.2" cy="294.9" r="2.9" fill="url(#sph3)"/><circle cx="881.6" cy="326.7" r="3.1" fill="url(#sph3)"/><circle cx="827.8" cy="294.2" r="3" fill="url(#sph3)"/><circle cx="834.1" cy="202" r="3.5" fill="url(#sph3)"/><circle cx="840.1" cy="201" r="3" fill="url(#sph3)"/><circle cx="813.2" cy="231.9" r="3" fill="url(#sph3)"/><circle cx="828.5" cy="266" r="3.3" fill="url(#sph3)"/><circle cx="803.5" cy="212.6" r="2.8" fill="url(#sph3)"/><circle cx="879" cy="303.9" r="2.8" fill="url(#sph3)"/><circle cx="820.3" cy="169.3" r="3.5" fill="url(#sph3)"/><circle cx="826.8" cy="239.6" r="3" fill="url(#sph3)"/><circle cx="854.9" cy="258.8" r="3.3" fill="url(#sph3)"/><circle cx="814.5" cy="252.5" r="2.9" fill="url(#sph3)"/><circle cx="843.9" cy="210.9" r="2.9" fill="url(#sph3)"/><circle cx="844.6" cy="230.6" r="2.9" fill="url(#sph3)"/><circle cx="862.9" cy="262.4" r="2.6" fill="url(#sph3)"/><circle cx="822" cy="214.2" r="3.4" fill="url(#sph3)"/><circle cx="874.1" cy="263.2" r="2.6" fill="url(#sph3)"/><circle cx="864.6" cy="238.3" r="3.1" fill="url(#sph3)"/><circle cx="860.2" cy="266.8" r="3" fill="url(#sph3)"/><circle cx="992.1" cy="273.6" r="3.4" fill="url(#sph3)"/><circle cx="920" cy="172.4" r="3.6" fill="url(#sph3)"/><circle cx="948.4" cy="280.7" r="3.3" fill="url(#sph3)"/><circle cx="993.5" cy="195.1" r="3.7" fill="url(#sph3)"/><circle cx="986.6" cy="217.3" r="3.4" fill="url(#sph3)"/><circle cx="981.3" cy="186.9" r="3.5" fill="url(#sph3)"/><circle cx="998.6" cy="192.7" r="3.7" fill="url(#sph3)"/><circle cx="977.3" cy="282.4" r="3.2" fill="url(#sph3)"/><circle cx="896.9" cy="305.9" r="3.7" fill="url(#sph3)"/><circle cx="947" cy="180.6" r="3.1" fill="url(#sph3)"/><circle cx="973.8" cy="203.2" r="3.9" fill="url(#sph3)"/><circle cx="967.6" cy="191.5" r="3.6" fill="url(#sph3)"/><circle cx="933" cy="312.8" r="3.8" fill="url(#sph3)"/><circle cx="955" cy="261.1" r="3.6" fill="url(#sph3)"/><circle cx="992.3" cy="295.3" r="2.9" fill="url(#sph3)"/><circle cx="933.8" cy="261.8" r="3.2" fill="url(#sph3)"/><circle cx="968.3" cy="174.9" r="3.8" fill="url(#sph3)"/><circle cx="958.7" cy="181.2" r="3.6" fill="url(#sph3)"/><circle cx="927.3" cy="201.1" r="3.4" fill="url(#sph3)"/><circle cx="902" cy="209.8" r="3.8" fill="url(#sph3)"/><circle cx="984.9" cy="159.8" r="3.7" fill="url(#sph3)"/><circle cx="884.8" cy="234.2" r="3.8" fill="url(#sph3)"/><circle cx="971.6" cy="205.9" r="3.3" fill="url(#sph3)"/><circle cx="938.7" cy="187.6" r="3.9" fill="url(#sph3)"/><circle cx="890.3" cy="247.2" r="3.6" fill="url(#sph3)"/><circle cx="937.9" cy="318.2" r="3.1" fill="url(#sph3)"/><circle cx="1016.5" cy="274" r="3.6" fill="url(#sph3)"/><circle cx="1009" cy="215.3" r="3.7" fill="url(#sph3)"/><circle cx="995.1" cy="229.4" r="3.4" fill="url(#sph3)"/><circle cx="983.2" cy="217.6" r="3" fill="url(#sph3)"/><circle cx="990.1" cy="195.1" r="3.4" fill="url(#sph3)"/><circle cx="996.3" cy="180" r="2.9" fill="url(#sph3)"/><circle cx="900.6" cy="270.8" r="3.3" fill="url(#sph3)"/><circle cx="919.1" cy="243.1" r="3.8" fill="url(#sph3)"/><circle cx="918.9" cy="236.8" r="3.8" fill="url(#sph3)"/><circle cx="970.7" cy="200.6" r="3.4" fill="url(#sph3)"/><circle cx="951.8" cy="186.7" r="3.3" fill="url(#sph3)"/><circle cx="925.8" cy="295.9" r="3.2" fill="url(#sph3)"/><circle cx="972.9" cy="302.4" r="3.8" fill="url(#sph3)"/><circle cx="935.8" cy="261.3" r="3.2" fill="url(#sph3)"/><circle cx="939.2" cy="242.6" r="3.7" fill="url(#sph3)"/><circle cx="1017.4" cy="191.2" r="2.9" fill="url(#sph3)"/><circle cx="947.8" cy="174.9" r="2.9" fill="url(#sph3)"/><circle cx="995.3" cy="171.7" r="3.6" fill="url(#sph3)"/><circle cx="933.3" cy="313.6" r="3.8" fill="url(#sph3)"/><circle cx="890.9" cy="209.9" r="3.8" fill="url(#sph3)"/><circle cx="969.9" cy="223.4" r="3.7" fill="url(#sph3)"/><circle cx="997.8" cy="225" r="3.4" fill="url(#sph3)"/><circle cx="896.8" cy="235.5" r="3" fill="url(#sph3)"/><circle cx="970.6" cy="250.3" r="3" fill="url(#sph3)"/><circle cx="974" cy="174.7" r="3" fill="url(#sph3)"/><circle cx="974.3" cy="228.1" r="3.8" fill="url(#sph3)"/><circle cx="970.5" cy="264.1" r="3" fill="url(#sph3)"/><circle cx="1004.3" cy="165.5" r="3.5" fill="url(#sph3)"/><circle cx="1007.2" cy="279.8" r="3.8" fill="url(#sph3)"/><circle cx="946.1" cy="271.6" r="3.7" fill="url(#sph3)"/><circle cx="903.1" cy="326.5" r="3.8" fill="url(#sph3)"/><circle cx="944.3" cy="285" r="3.3" fill="url(#sph3)"/><circle cx="921.9" cy="283" r="3" fill="url(#sph3)"/><circle cx="991.6" cy="295.8" r="3.2" fill="url(#sph3)"/><circle cx="1020.1" cy="161.8" r="3.8" fill="url(#sph3)"/><circle cx="922.2" cy="322.3" r="3.3" fill="url(#sph3)"/><circle cx="1018.1" cy="155.1" r="3" fill="url(#sph3)"/><circle cx="996.9" cy="246" r="3.4" fill="url(#sph3)"/><circle cx="886.5" cy="207.9" r="3.3" fill="url(#sph3)"/><circle cx="891.9" cy="339" r="3.7" fill="url(#sph3)"/><circle cx="1014.7" cy="248.5" r="3.2" fill="url(#sph3)"/><circle cx="894.6" cy="295.7" r="3" fill="url(#sph3)"/><circle cx="960.3" cy="232.5" r="3.4" fill="url(#sph3)"/><circle cx="892.4" cy="190.4" r="3.4" fill="url(#sph3)"/><circle cx="887.4" cy="264.8" r="3.1" fill="url(#sph3)"/><circle cx="922.9" cy="195.2" r="3.5" fill="url(#sph3)"/><circle cx="938.4" cy="202.4" r="3.1" fill="url(#sph3)"/><circle cx="960.5" cy="298.6" r="3.3" fill="url(#sph3)"/><circle cx="905.8" cy="225.8" r="3.1" fill="url(#sph3)"/><circle cx="962.2" cy="279.6" r="3.5" fill="url(#sph3)"/><circle cx="909.4" cy="226.1" r="3.3" fill="url(#sph3)"/><circle cx="945.5" cy="227" r="3.9" fill="url(#sph3)"/><circle cx="959.9" cy="262" r="3.6" fill="url(#sph3)"/><circle cx="972" cy="278.7" r="3.3" fill="url(#sph3)"/><circle cx="973.8" cy="302.3" r="3.1" fill="url(#sph3)"/><circle cx="971.9" cy="217.4" r="3" fill="url(#sph3)"/><circle cx="889.5" cy="302" r="3" fill="url(#sph3)"/><circle cx="986.2" cy="172.2" r="3.3" fill="url(#sph3)"/><circle cx="887.7" cy="267.5" r="3.7" fill="url(#sph3)"/><circle cx="914.8" cy="262.3" r="3.8" fill="url(#sph3)"/><circle cx="924.4" cy="244.6" r="3.6" fill="url(#sph3)"/><circle cx="1008.1" cy="176.6" r="3.6" fill="url(#sph3)"/><circle cx="899.1" cy="194.9" r="3.9" fill="url(#sph3)"/><circle cx="891.4" cy="327.3" r="3.7" fill="url(#sph3)"/><circle cx="976.7" cy="266" r="3.6" fill="url(#sph3)"/><circle cx="923.5" cy="240.6" r="3.1" fill="url(#sph3)"/><circle cx="1001.4" cy="264.1" r="3.7" fill="url(#sph3)"/><circle cx="913.2" cy="267.1" r="3.2" fill="url(#sph3)"/><circle cx="992.3" cy="262.6" r="3.9" fill="url(#sph3)"/><circle cx="981.5" cy="257.8" r="3.7" fill="url(#sph3)"/><circle cx="896.4" cy="273.1" r="2.9" fill="url(#sph3)"/><circle cx="935.5" cy="186.9" r="3.8" fill="url(#sph3)"/><circle cx="888.4" cy="328.8" r="3.8" fill="url(#sph3)"/><circle cx="943.4" cy="293.5" r="3" fill="url(#sph3)"/><circle cx="901.8" cy="178" r="3" fill="url(#sph3)"/><circle cx="884.7" cy="315.1" r="3" fill="url(#sph3)"/><circle cx="967.5" cy="202.2" r="3" fill="url(#sph3)"/><circle cx="943" cy="194.9" r="3.9" fill="url(#sph3)"/><circle cx="936.9" cy="259.5" r="3.5" fill="url(#sph3)"/><circle cx="971.5" cy="231.5" r="3.2" fill="url(#sph3)"/><circle cx="903" cy="317.7" r="3.1" fill="url(#sph3)"/><circle cx="945.2" cy="289.2" r="3.5" fill="url(#sph3)"/><circle cx="1013.2" cy="264" r="3.4" fill="url(#sph3)"/><circle cx="900.1" cy="271.5" r="3.4" fill="url(#sph3)"/><circle cx="1004.2" cy="228.5" r="3.6" fill="url(#sph3)"/><circle cx="997.7" cy="222" r="3.7" fill="url(#sph3)"/><circle cx="1013.4" cy="173.3" r="3.8" fill="url(#sph3)"/><circle cx="1002.1" cy="274.4" r="3.2" fill="url(#sph3)"/><circle cx="918.5" cy="193.5" r="3.3" fill="url(#sph3)"/><circle cx="1004.9" cy="204.7" r="2.9" fill="url(#sph3)"/><circle cx="926.4" cy="183.8" r="3.5" fill="url(#sph3)"/><circle cx="987.8" cy="290.1" r="3" fill="url(#sph3)"/><circle cx="937.4" cy="187.8" r="3.8" fill="url(#sph3)"/><circle cx="1000.8" cy="228" r="3.9" fill="url(#sph3)"/><circle cx="955.2" cy="280.7" r="3.4" fill="url(#sph3)"/><circle cx="933.5" cy="322.1" r="3.7" fill="url(#sph3)"/><circle cx="964.4" cy="290.7" r="3.5" fill="url(#sph3)"/><circle cx="999.3" cy="164.3" r="3" fill="url(#sph3)"/><circle cx="898.7" cy="273.6" r="3.6" fill="url(#sph3)"/><g filter="url(#bump4t)"><polygon points="1116,141 1244,120 1343,153 1202,191" fill="url(#c4top)"/></g><g filter="url(#bump4)"><polygon points="1116,141 1202,191 1205,348 1127,284" fill="url(#c4left)"/><polygon points="1202,191 1343,153 1336,300 1205,348" fill="url(#c4right)"/></g><circle cx="1230.6" cy="180.6" r="0.9" fill="url(#sph3)"/><circle cx="1214.3" cy="129.4" r="0.9" fill="url(#sph3)"/><circle cx="1264.6" cy="126.9" r="1.1" fill="url(#sph3)"/><circle cx="1216.4" cy="150.5" r="1" fill="url(#sph3)"/><circle cx="1214.1" cy="175.8" r="0.8" fill="url(#sph3)"/><circle cx="1147.8" cy="137" r="0.9" fill="url(#sph3)"/><circle cx="1250.5" cy="171.3" r="1" fill="url(#sph3)"/><circle cx="1153.2" cy="151" r="1.2" fill="url(#sph3)"/><circle cx="1177.9" cy="170" r="1" fill="url(#sph3)"/><circle cx="1232.6" cy="140.2" r="1.1" fill="url(#sph3)"/><circle cx="1239.8" cy="157.5" r="1.2" fill="url(#sph3)"/><circle cx="1203.7" cy="134.5" r="0.8" fill="url(#sph3)"/><circle cx="1285.1" cy="137.7" r="0.9" fill="url(#sph3)"/><circle cx="1294" cy="140.8" r="1.1" fill="url(#sph3)"/><circle cx="1256.6" cy="132.5" r="0.9" fill="url(#sph3)"/><circle cx="1241.5" cy="127.3" r="1.1" fill="url(#sph3)"/><circle cx="1188.7" cy="172.3" r="1.1" fill="url(#sph3)"/><circle cx="1320.6" cy="149.6" r="1" fill="url(#sph3)"/><circle cx="1154.6" cy="143.9" r="1" fill="url(#sph3)"/><circle cx="1187.9" cy="133.2" r="1.2" fill="url(#sph3)"/><circle cx="1245.9" cy="159.4" r="0.9" fill="url(#sph3)"/><circle cx="1148.3" cy="136.4" r="0.9" fill="url(#sph3)"/><circle cx="1188" cy="154.6" r="1" fill="url(#sph3)"/><circle cx="1309.1" cy="155.4" r="0.9" fill="url(#sph3)"/><circle cx="1181.9" cy="139.9" r="1.1" fill="url(#sph3)"/><circle cx="1260.7" cy="127.3" r="1.1" fill="url(#sph3)"/><circle cx="1155.6" cy="135.3" r="1.1" fill="url(#sph3)"/><circle cx="1175.1" cy="141.3" r="1" fill="url(#sph3)"/><circle cx="1182.2" cy="155" r="1" fill="url(#sph3)"/><circle cx="1223.3" cy="157.5" r="0.9" fill="url(#sph3)"/><rect x="392.7" y="208.7" width="1.9" height="26" fill="#98B1DE"/><rect x="396" y="208.7" width="3.3" height="26" fill="#98B1DE"/><polygon points="401,208.7 458.1,208.7 458.1,195.7 484.1,221.7 458.1,247.7 458.1,234.7 401,234.7" fill="#98B1DE"/><rect x="708.7" y="208.8" width="1.9" height="26" fill="#98B1DE"/><rect x="712" y="208.8" width="3.3" height="26" fill="#98B1DE"/><polygon points="717,208.8 775,208.8 775,195.8 799.4,221.8 775,247.8 775,234.8 717,234.8" fill="#98B1DE"/><rect x="1027.8" y="209.5" width="1.9" height="26" fill="#98B1DE"/><rect x="1031.1" y="209.5" width="3.3" height="26" fill="#98B1DE"/><polygon points="1036.1,209.5 1093.8,209.5 1093.8,196.5 1119,222.5 1093.8,248.5 1093.8,235.5 1036.1,235.5" fill="#98B1DE"/><text x="33" y="43.5" font-size="35" text-anchor="start" font-weight="bold" fill="#1a1a1a" >(a)</text><text x="257.5" y="68.5" font-size="28.5" text-anchor="start" font-weight="bold" fill="#1a1a1a" >25 °C</text><text x="584.5" y="68.5" font-size="28.5" text-anchor="start" font-weight="bold" fill="#1a1a1a" >50 °C</text><text x="863.5" y="67.8" font-size="28.5" text-anchor="start" font-weight="bold" fill="#1a1a1a" >100-400 °C</text><text x="406.5" y="184" font-size="28" text-anchor="start" font-weight="bold" fill="#1a1a1a" >KOH</text><text x="388" y="323.5" font-size="28.5" text-anchor="start" font-weight="bold" fill="#1a1a1a" >Mixture</text><text x="679.5" y="326" font-size="27.8" text-anchor="start" font-weight="bold" fill="#1a1a1a" >Dehydration</text><text x="1021" y="327" font-size="28.2" text-anchor="start" font-weight="bold" fill="#1a1a1a" >Reaction</text><text x="467" y="104.5" font-size="27" font-weight="bold" fill="#1a1a1a">H<tspan font-size="17" dy="6">2</tspan><tspan dy="-6">O</tspan></text><text x="774.5" y="102.5" font-size="27.5" text-anchor="start" font-weight="bold" fill="#1a1a1a" >Air</text><path d="M522.6 88.6 C537 83 558 86 568 107" fill="none" stroke="#111" stroke-width="4.2" stroke-linecap="round"/><polygon points="556,98 568,115 575,97 568,104" fill="#111"/><path d="M823.6 84.4 C838 80 862 84 870 104" fill="none" stroke="#111" stroke-width="4.2" stroke-linecap="round"/><polygon points="857,95 869,112 876,94 869,101" fill="#111"/><circle cx="1299.5" cy="70.2" r="6.3" fill="url(#atomC)"/><circle cx="1300.4" cy="108.9" r="4.8" fill="url(#atomO)"/><text x="1328" y="79.7" font-size="28" text-anchor="start" font-weight="bold" fill="#1a1a1a" >C</text><text x="1328" y="120" font-size="28" text-anchor="start" font-weight="bold" fill="#1a1a1a" >O</text><line x1="1159.7" y1="118.9" x2="1218.5" y2="148.5" stroke="#111" stroke-width="1.2"/><line x1="1200.6" y1="79.7" x2="1223.5" y2="145.5" stroke="#111" stroke-width="1.2"/><circle cx="1222.5" cy="150.3" r="5" fill="none" stroke="#1e2e5e" stroke-width="1.6"/><circle cx="1156.9" cy="74.4" r="44.3" fill="none" stroke="#111" stroke-width="1.8"/><polygon points="1163.1,42.9 1172.7,42.3 1178.9,54 1172.7,61.5 1161.9,62.1 1156.3,51" fill="none" stroke="#151515" stroke-width="1.7" stroke-linejoin="round"/><polygon points="1178.9,54 1189.4,53.7 1195.6,65.2 1189.7,73.2 1178.9,74.2 1172.7,61.5" fill="none" stroke="#151515" stroke-width="1.7" stroke-linejoin="round"/><polygon points="1145.2,52.2 1156.3,51 1161.9,62.1 1156.3,70.5 1145.8,71.7 1140,59.6" fill="none" stroke="#151515" stroke-width="1.7" stroke-linejoin="round"/><polygon points="1128.7,60.8 1140,59.6 1145.8,71.7 1139.6,79.4 1129.1,80.6 1123.5,68.5" fill="none" stroke="#151515" stroke-width="1.7" stroke-linejoin="round"/><polygon points="1161.9,62.1 1172.7,61.5 1178.9,74.2 1172.7,81.6 1161.5,82.5 1156.3,70.5" fill="none" stroke="#151515" stroke-width="1.7" stroke-linejoin="round"/><polygon points="1145.8,71.7 1156.3,70.5 1161.5,82.5 1156.3,90.5 1145.8,91.1 1139.6,79.4" fill="none" stroke="#151515" stroke-width="1.7" stroke-linejoin="round"/><polygon points="1161.5,82.5 1172.7,81.6 1178.5,93.6 1172.4,101 1161.2,102.3 1156.3,90.5" fill="none" stroke="#151515" stroke-width="1.7" stroke-linejoin="round"/><polygon points="1145.8,91.1 1156.3,90.5 1161.2,102.3 1155.7,110 1145.2,110.3 1139.6,99.8" fill="none" stroke="#151515" stroke-width="1.7" stroke-linejoin="round"/><circle cx="1195.6" cy="65.2" r="2.4" fill="url(#atomO)"/><circle cx="1161.2" cy="102.3" r="2.6" fill="#151515"/><circle cx="1123.5" cy="68.5" r="2.6" fill="#151515"/><circle cx="1139.6" cy="99.8" r="2.6" fill="#151515"/><circle cx="1156.3" cy="51" r="2.6" fill="#151515"/><circle cx="1139.6" cy="79.4" r="2.6" fill="#151515"/><circle cx="1189.4" cy="53.7" r="2.6" fill="#151515"/><circle cx="1140" cy="59.6" r="2.6" fill="#151515"/><circle cx="1156.3" cy="90.5" r="2.6" fill="#151515"/><circle cx="1145.8" cy="91.1" r="2.6" fill="#151515"/><circle cx="1178.9" cy="74.2" r="2.6" fill="#151515"/><circle cx="1161.9" cy="62.1" r="2.6" fill="#151515"/><circle cx="1178.5" cy="93.6" r="2.6" fill="#151515"/><circle cx="1156.3" cy="70.5" r="2.6" fill="#151515"/><circle cx="1128.7" cy="60.8" r="2.6" fill="#151515"/><circle cx="1172.4" cy="101" r="2.6" fill="#151515"/><circle cx="1172.7" cy="81.6" r="2.6" fill="#151515"/><circle cx="1163.1" cy="42.9" r="2.6" fill="#151515"/><circle cx="1129.1" cy="80.6" r="2.6" fill="#151515"/><circle cx="1161.5" cy="82.5" r="2.6" fill="#151515"/><circle cx="1189.7" cy="73.2" r="2.6" fill="#151515"/><circle cx="1172.7" cy="42.3" r="2.6" fill="#151515"/><circle cx="1155.7" cy="110" r="2.6" fill="#151515"/><circle cx="1178.9" cy="54" r="2.6" fill="#151515"/><circle cx="1145.8" cy="71.7" r="2.6" fill="#151515"/><circle cx="1172.7" cy="61.5" r="2.6" fill="#151515"/><circle cx="1145.2" cy="110.3" r="2.6" fill="#151515"/><circle cx="1145.2" cy="52.2" r="2.4" fill="url(#atomO)"/>
<text x="32" y="432" font-size="35" text-anchor="start" font-weight="bold" fill="#1a1a1a" >(b)</text><line x1="156.5" y1="681.5" x2="156.5" y2="686" stroke="#000" stroke-width="2"/><line x1="214" y1="681.5" x2="214" y2="686" stroke="#000" stroke-width="2"/><line x1="271.6" y1="681.5" x2="271.6" y2="686" stroke="#000" stroke-width="2"/><line x1="329.1" y1="681.5" x2="329.1" y2="686" stroke="#000" stroke-width="2"/><line x1="386.7" y1="681.5" x2="386.7" y2="686" stroke="#000" stroke-width="2"/><line x1="444.2" y1="681.5" x2="444.2" y2="686" stroke="#000" stroke-width="2"/><line x1="185.3" y1="681.5" x2="185.3" y2="684.5" stroke="#000" stroke-width="1.6"/><line x1="242.8" y1="681.5" x2="242.8" y2="684.5" stroke="#000" stroke-width="1.6"/><line x1="300.4" y1="681.5" x2="300.4" y2="684.5" stroke="#000" stroke-width="1.6"/><line x1="357.9" y1="681.5" x2="357.9" y2="684.5" stroke="#000" stroke-width="1.6"/><line x1="415.4" y1="681.5" x2="415.4" y2="684.5" stroke="#000" stroke-width="1.6"/><line x1="127.7" y1="681.5" x2="127.7" y2="684.5" stroke="#000" stroke-width="1.6"/><line x1="127.7" y1="656" x2="123.2" y2="656" stroke="#000" stroke-width="2"/><line x1="127.7" y1="590.7" x2="123.2" y2="590.7" stroke="#000" stroke-width="2"/><line x1="127.7" y1="525.4" x2="123.2" y2="525.4" stroke="#000" stroke-width="2"/><line x1="127.7" y1="460.1" x2="123.2" y2="460.1" stroke="#000" stroke-width="2"/><line x1="127.7" y1="623.4" x2="124.7" y2="623.4" stroke="#000" stroke-width="1.6"/><line x1="127.7" y1="558" x2="124.7" y2="558" stroke="#000" stroke-width="1.6"/><line x1="127.7" y1="492.8" x2="124.7" y2="492.8" stroke="#000" stroke-width="1.6"/><line x1="127.7" y1="427.4" x2="124.7" y2="427.4" stroke="#000" stroke-width="1.6"/><text x="156.5" y="702.6" font-size="14" text-anchor="middle" font-weight="bold" fill="#1a1a1a" >0.0</text><text x="214" y="702.6" font-size="14" text-anchor="middle" font-weight="bold" fill="#1a1a1a" >0.2</text><text x="271.6" y="702.6" font-size="14" text-anchor="middle" font-weight="bold" fill="#1a1a1a" >0.4</text><text x="329.1" y="702.6" font-size="14" text-anchor="middle" font-weight="bold" fill="#1a1a1a" >0.6</text><text x="386.7" y="702.6" font-size="14" text-anchor="middle" font-weight="bold" fill="#1a1a1a" >0.8</text><text x="444.2" y="702.6" font-size="14" text-anchor="middle" font-weight="bold" fill="#1a1a1a" >1.0</text><text x="120" y="661" font-size="14" text-anchor="end" font-weight="bold" fill="#1a1a1a" >0</text><text x="120" y="595.7" font-size="14" text-anchor="end" font-weight="bold" fill="#1a1a1a" >50</text><text x="120" y="530.4" font-size="14" text-anchor="end" font-weight="bold" fill="#1a1a1a" >100</text><text x="120" y="465.1" font-size="14" text-anchor="end" font-weight="bold" fill="#1a1a1a" >150</text><text x="301.4" y="728.5" font-size="16.5" font-weight="bold" text-anchor="middle" fill="#1a1a1a" textLength="170.5" lengthAdjust="spacing">Relative Pressure (P/P<tspan font-size="11" dy="4">0</tspan><tspan dy="-4">)</tspan></text><text transform="translate(90,547.9) rotate(-90)" font-size="16.8" font-weight="bold" text-anchor="middle" fill="#1a1a1a" textLength="205" lengthAdjust="spacing">Quantity Adsorbed (cm<tspan font-size="10" dy="-6">3</tspan><tspan dy="6"> g</tspan><tspan font-size="10" dy="-6">-1</tspan><tspan dy="6">)</tspan></text><path d="M157.1 656 L157.1 473.2 L156.5 462.7 L157.9 459.1 L159.4 457.7 L162.3 455.8 L165.1 454.2 L170.9 451.6 L179.5 448.8 L191 446.1 L214 442.5 L242.8 440.8 L300.4 439.1 L357.9 437.8 L415.4 436.3 L429.8 435.5 L438.4 433.6 L444.2 431.4" fill="none" stroke="#F4A76B" stroke-width="2.6"/><rect x="152.6" y="457.5" width="9" height="201.5" rx="4.5" fill="#F4A76B"/><circle cx="156.1" cy="653.4" r="1.1" fill="#fbd9bb" opacity="0.6"/><circle cx="156.1" cy="649.5" r="1.1" fill="#fbd9bb" opacity="0.6"/><circle cx="156.1" cy="645.6" r="1.1" fill="#fbd9bb" opacity="0.6"/><circle cx="156.1" cy="641.6" r="1.1" fill="#fbd9bb" opacity="0.6"/><circle cx="156.1" cy="637.7" r="1.1" fill="#fbd9bb" opacity="0.6"/><circle cx="156.1" cy="633.8" r="1.1" fill="#fbd9bb" opacity="0.6"/><circle cx="156.1" cy="629.9" r="1.1" fill="#fbd9bb" opacity="0.6"/><circle cx="156.1" cy="626" r="1.1" fill="#fbd9bb" opacity="0.6"/><circle cx="156.1" cy="622" r="1.1" fill="#fbd9bb" opacity="0.6"/><circle cx="156.1" cy="618.1" r="1.1" fill="#fbd9bb" opacity="0.6"/><circle cx="156.1" cy="614.2" r="1.1" fill="#fbd9bb" opacity="0.6"/><circle cx="156.1" cy="610.3" r="1.1" fill="#fbd9bb" opacity="0.6"/><circle cx="156.1" cy="606.4" r="1.1" fill="#fbd9bb" opacity="0.6"/><circle cx="156.1" cy="602.5" r="1.1" fill="#fbd9bb" opacity="0.6"/><circle cx="156.1" cy="598.5" r="1.1" fill="#fbd9bb" opacity="0.6"/><circle cx="156.1" cy="594.6" r="1.1" fill="#fbd9bb" opacity="0.6"/><circle cx="156.1" cy="590.7" r="1.1" fill="#fbd9bb" opacity="0.6"/><circle cx="156.1" cy="586.8" r="1.1" fill="#fbd9bb" opacity="0.6"/><circle cx="156.1" cy="582.9" r="1.1" fill="#fbd9bb" opacity="0.6"/><circle cx="156.1" cy="578.9" r="1.1" fill="#fbd9bb" opacity="0.6"/><circle cx="156.1" cy="575" r="1.1" fill="#fbd9bb" opacity="0.6"/><circle cx="156.1" cy="571.1" r="1.1" fill="#fbd9bb" opacity="0.6"/><circle cx="156.1" cy="567.2" r="1.1" fill="#fbd9bb" opacity="0.6"/><circle cx="156.1" cy="563.3" r="1.1" fill="#fbd9bb" opacity="0.6"/><circle cx="156.1" cy="559.4" r="1.1" fill="#fbd9bb" opacity="0.6"/><circle cx="156.1" cy="555.4" r="1.1" fill="#fbd9bb" opacity="0.6"/><circle cx="156.1" cy="551.5" r="1.1" fill="#fbd9bb" opacity="0.6"/><circle cx="156.1" cy="547.6" r="1.1" fill="#fbd9bb" opacity="0.6"/><circle cx="156.1" cy="543.7" r="1.1" fill="#fbd9bb" opacity="0.6"/><circle cx="156.1" cy="539.8" r="1.1" fill="#fbd9bb" opacity="0.6"/><circle cx="156.1" cy="535.8" r="1.1" fill="#fbd9bb" opacity="0.6"/><circle cx="156.1" cy="531.9" r="1.1" fill="#fbd9bb" opacity="0.6"/><circle cx="156.1" cy="528" r="1.1" fill="#fbd9bb" opacity="0.6"/><circle cx="156.1" cy="524.1" r="1.1" fill="#fbd9bb" opacity="0.6"/><circle cx="156.1" cy="520.2" r="1.1" fill="#fbd9bb" opacity="0.6"/><circle cx="156.1" cy="516.3" r="1.1" fill="#fbd9bb" opacity="0.6"/><circle cx="156.1" cy="512.3" r="1.1" fill="#fbd9bb" opacity="0.6"/><circle cx="156.1" cy="508.4" r="1.1" fill="#fbd9bb" opacity="0.6"/><circle cx="156.1" cy="504.5" r="1.1" fill="#fbd9bb" opacity="0.6"/><circle cx="156.1" cy="500.6" r="1.1" fill="#fbd9bb" opacity="0.6"/><circle cx="156.1" cy="496.7" r="1.1" fill="#fbd9bb" opacity="0.6"/><circle cx="156.1" cy="492.8" r="1.1" fill="#fbd9bb" opacity="0.6"/><circle cx="156.1" cy="488.8" r="1.1" fill="#fbd9bb" opacity="0.6"/><circle cx="156.1" cy="484.9" r="1.1" fill="#fbd9bb" opacity="0.6"/><circle cx="156.1" cy="481" r="1.1" fill="#fbd9bb" opacity="0.6"/><circle cx="156.1" cy="477.1" r="1.1" fill="#fbd9bb" opacity="0.6"/><circle cx="156.1" cy="473.2" r="1.1" fill="#fbd9bb" opacity="0.6"/><circle cx="156.1" cy="469.2" r="1.1" fill="#fbd9bb" opacity="0.6"/><circle cx="156.1" cy="465.3" r="1.1" fill="#fbd9bb" opacity="0.6"/><circle cx="156.1" cy="461.4" r="1.1" fill="#fbd9bb" opacity="0.6"/><circle cx="158.2" cy="458.4" r="4.6" fill="url(#mkO)"/><circle cx="163.7" cy="454.9" r="4.6" fill="url(#mkO)"/><circle cx="172.6" cy="450.8" r="4.6" fill="url(#mkO)"/><circle cx="179.5" cy="448.8" r="4.6" fill="url(#mkO)"/><circle cx="185.3" cy="447" r="4.6" fill="url(#mkO)"/><circle cx="191" cy="446.1" r="4.6" fill="url(#mkO)"/><circle cx="196.8" cy="445.2" r="4.6" fill="url(#mkO)"/><circle cx="202.5" cy="444.3" r="4.6" fill="url(#mkO)"/><circle cx="208.3" cy="443.4" r="4.6" fill="url(#mkO)"/><circle cx="214" cy="442.5" r="4.6" fill="url(#mkO)"/><circle cx="228.4" cy="441.6" r="4.6" fill="url(#mkO)"/><circle cx="242.8" cy="440.8" r="4.6" fill="url(#mkO)"/><circle cx="257.2" cy="440.2" r="4.6" fill="url(#mkO)"/><circle cx="271.6" cy="439.7" r="4.6" fill="url(#mkO)"/><circle cx="286" cy="439.4" r="4.6" fill="url(#mkO)"/><circle cx="300.4" cy="439.1" r="4.6" fill="url(#mkO)"/><circle cx="314.7" cy="438.7" r="4.6" fill="url(#mkO)"/><circle cx="329.1" cy="438.4" r="4.6" fill="url(#mkO)"/><circle cx="343.5" cy="438.1" r="4.6" fill="url(#mkO)"/><circle cx="357.9" cy="437.8" r="4.6" fill="url(#mkO)"/><circle cx="366.5" cy="437.6" r="4.6" fill="url(#mkO)"/><circle cx="372.3" cy="437.4" r="4.6" fill="url(#mkO)"/><circle cx="386.7" cy="437.1" r="4.6" fill="url(#mkO)"/><circle cx="392.4" cy="437" r="4.6" fill="url(#mkO)"/><circle cx="401" cy="436.7" r="4.6" fill="url(#mkO)"/><circle cx="409.7" cy="436.5" r="4.6" fill="url(#mkO)"/><circle cx="415.4" cy="436.3" r="4.6" fill="url(#mkO)"/><circle cx="421.2" cy="436" r="4.6" fill="url(#mkO)"/><circle cx="429.8" cy="435.5" r="4.6" fill="url(#mkO)"/><circle cx="435.6" cy="434.2" r="4.6" fill="url(#mkO)"/><circle cx="441.3" cy="432.5" r="4.6" fill="url(#mkO)"/><circle cx="444.2" cy="431.4" r="4.6" fill="url(#mkO)"/><path d="M156.5 655.6 L170.9 654.7 L300.4 654.3 L386.7 653.8 L415.4 653.1 L429.8 652.1 L438.4 650.8 L444.2 648.4" fill="none" stroke="#6DB1DD" stroke-width="2.6"/><circle cx="157.9" cy="655.5" r="4.6" fill="url(#mkR)"/><circle cx="168" cy="654.9" r="4.6" fill="url(#mkR)"/><circle cx="179.5" cy="654.7" r="4.6" fill="url(#mkR)"/><circle cx="185.3" cy="654.7" r="4.6" fill="url(#mkR)"/><circle cx="191" cy="654.6" r="4.6" fill="url(#mkR)"/><circle cx="196.8" cy="654.6" r="4.6" fill="url(#mkR)"/><circle cx="202.5" cy="654.6" r="4.6" fill="url(#mkR)"/><circle cx="208.3" cy="654.6" r="4.6" fill="url(#mkR)"/><circle cx="214" cy="654.6" r="4.6" fill="url(#mkR)"/><circle cx="222.7" cy="654.5" r="4.6" fill="url(#mkR)"/><circle cx="228.4" cy="654.5" r="4.6" fill="url(#mkR)"/><circle cx="237.1" cy="654.5" r="4.6" fill="url(#mkR)"/><circle cx="242.8" cy="654.5" r="4.6" fill="url(#mkR)"/><circle cx="251.4" cy="654.5" r="4.6" fill="url(#mkR)"/><circle cx="257.2" cy="654.4" r="4.6" fill="url(#mkR)"/><circle cx="265.8" cy="654.4" r="4.6" fill="url(#mkR)"/><circle cx="277.3" cy="654.4" r="4.6" fill="url(#mkR)"/><circle cx="291.7" cy="654.3" r="4.6" fill="url(#mkR)"/><circle cx="306.1" cy="654.3" r="4.6" fill="url(#mkR)"/><circle cx="320.5" cy="654.2" r="4.6" fill="url(#mkR)"/><circle cx="334.9" cy="654.1" r="4.6" fill="url(#mkR)"/><circle cx="349.3" cy="654" r="4.6" fill="url(#mkR)"/><circle cx="357.9" cy="654" r="4.6" fill="url(#mkR)"/><circle cx="366.5" cy="653.9" r="4.6" fill="url(#mkR)"/><circle cx="378" cy="653.8" r="4.6" fill="url(#mkR)"/><circle cx="386.7" cy="653.8" r="4.6" fill="url(#mkR)"/><circle cx="392.4" cy="653.6" r="4.6" fill="url(#mkR)"/><circle cx="401" cy="653.5" r="4.6" fill="url(#mkR)"/><circle cx="409.7" cy="653.3" r="4.6" fill="url(#mkR)"/><circle cx="415.4" cy="653.1" r="4.6" fill="url(#mkR)"/><circle cx="424.1" cy="652.5" r="4.6" fill="url(#mkR)"/><circle cx="429.8" cy="652.1" r="4.6" fill="url(#mkR)"/><circle cx="435.6" cy="651.2" r="4.6" fill="url(#mkR)"/><circle cx="441.3" cy="649.6" r="4.6" fill="url(#mkR)"/><circle cx="444.2" cy="648.4" r="4.6" fill="url(#mkR)"/><line x1="229" y1="491" x2="262.6" y2="491" stroke="#F4A76B" stroke-width="2.6"/><circle cx="245.8" cy="491" r="4.6" fill="url(#mkO)"/><text x="267.7" y="496" font-size="14" text-anchor="start" font-weight="bold" fill="#1a1a1a" >OMC</text><line x1="336.7" y1="491" x2="370" y2="491" stroke="#6DB1DD" stroke-width="2.6"/><circle cx="353" cy="491" r="4.6" fill="url(#mkR)"/><text x="373.7" y="496" font-size="14" text-anchor="start" font-weight="bold" fill="#1a1a1a" >RC</text><text x="325" y="429.6" font-size="14" font-weight="bold" fill="#1a1a1a" textLength="104.5" lengthAdjust="spacing">SSA=507.8 m<tspan font-size="8.5" dy="-5">2</tspan><tspan dy="5"> g</tspan><tspan font-size="8.5" dy="-5">-1</tspan></text><text x="324.7" y="642.8" font-size="14" font-weight="bold" fill="#1a1a1a" textLength="91" lengthAdjust="spacing">SSA=4.0 m<tspan font-size="8.5" dy="-5">2</tspan><tspan dy="5"> g</tspan><tspan font-size="8.5" dy="-5">-1</tspan></text><rect x="127.7" y="408" width="345.3" height="273.5" fill="none" stroke="#000" stroke-width="2.6"/>
<text x="510" y="432.5" font-size="35" text-anchor="start" font-weight="bold" fill="#1a1a1a" >(c)</text><path d="M677 545.3 L677.8 545.3 L678.6 545.3 L679.3 545.3 L680.1 545.3 L680.9 545.3 L681.7 545.3 L682.4 545.2 L683.2 545.2 L684 545.2 L684.7 545.2 L685.5 545.1 L686.3 545.1 L687 545.1 L687.8 545 L688.6 545 L689.3 544.9 L690.1 544.8 L690.9 544.7 L691.6 544.5 L692.4 544.4 L693.2 544.2 L693.9 544 L694.7 543.8 L695.5 543.5 L696.2 543.2 L697 542.9 L697.8 542.5 L698.5 542.1 L699.3 541.6 L700.1 541 L700.9 540.4 L701.6 539.8 L702.4 539.1 L703.2 538.3 L703.9 537.4 L704.7 536.5 L705.5 535.6 L706.2 534.6 L707 533.5 L707.8 532.3 L708.5 531.2 L709.3 530 L710.1 528.7 L710.8 527.5 L711.6 526.2 L712.4 524.9 L713.1 523.7 L713.9 522.4 L714.7 521.2 L715.4 520.1 L716.2 519 L717 518 L717.7 517 L718.5 516.2 L719.3 515.5 L720.1 514.9 L720.8 514.4 L721.6 514.1 L722.4 513.9 L723.1 513.8 L723.9 513.9 L724.7 514.1 L725.4 514.4 L726.2 514.9 L727 515.5 L727.7 516.2 L728.5 517 L729.3 518 L730 519 L730.8 520.1 L731.6 521.2 L732.3 522.4 L733.1 523.7 L733.9 524.9 L734.6 526.2 L735.4 527.5 L736.2 528.7 L736.9 530 L737.7 531.2 L738.5 532.3 L739.3 533.5 L740 534.6 L740.8 535.6 L741.6 536.5 L742.3 537.4 L743.1 538.3 L743.9 539.1 L744.6 539.8 L745.4 540.4 L746.2 541 L746.9 541.6 L747.7 542.1 L748.5 542.5 L749.2 542.9 L750 543.2 L750.8 543.5 L751.5 543.8 L752.3 544 L753.1 544.2 L753.8 544.4 L754.6 544.5 L755.4 544.7 L756.1 544.8 L756.9 544.9 L757.7 545 L758.5 545 L759.2 545.1 L760 545.1 L760.8 545.1 L761.5 545.2 L762.3 545.2 L763.1 545.2 L763.8 545.2 L764.6 545.3 L765.4 545.3 L766.1 545.3 L766.9 545.3 L767.7 545.3 L768.4 545.3 L769.2 545.3 Z" fill="url(#gc_T)" stroke="none"/><path d="M677 545.3 L677.8 545.3 L678.6 545.3 L679.3 545.3 L680.1 545.3 L680.9 545.3 L681.7 545.3 L682.4 545.2 L683.2 545.2 L684 545.2 L684.7 545.2 L685.5 545.1 L686.3 545.1 L687 545.1 L687.8 545 L688.6 545 L689.3 544.9 L690.1 544.8 L690.9 544.7 L691.6 544.5 L692.4 544.4 L693.2 544.2 L693.9 544 L694.7 543.8 L695.5 543.5 L696.2 543.2 L697 542.9 L697.8 542.5 L698.5 542.1 L699.3 541.6 L700.1 541 L700.9 540.4 L701.6 539.8 L702.4 539.1 L703.2 538.3 L703.9 537.4 L704.7 536.5 L705.5 535.6 L706.2 534.6 L707 533.5 L707.8 532.3 L708.5 531.2 L709.3 530 L710.1 528.7 L710.8 527.5 L711.6 526.2 L712.4 524.9 L713.1 523.7 L713.9 522.4 L714.7 521.2 L715.4 520.1 L716.2 519 L717 518 L717.7 517 L718.5 516.2 L719.3 515.5 L720.1 514.9 L720.8 514.4 L721.6 514.1 L722.4 513.9 L723.1 513.8 L723.9 513.9 L724.7 514.1 L725.4 514.4 L726.2 514.9 L727 515.5 L727.7 516.2 L728.5 517 L729.3 518 L730 519 L730.8 520.1 L731.6 521.2 L732.3 522.4 L733.1 523.7 L733.9 524.9 L734.6 526.2 L735.4 527.5 L736.2 528.7 L736.9 530 L737.7 531.2 L738.5 532.3 L739.3 533.5 L740 534.6 L740.8 535.6 L741.6 536.5 L742.3 537.4 L743.1 538.3 L743.9 539.1 L744.6 539.8 L745.4 540.4 L746.2 541 L746.9 541.6 L747.7 542.1 L748.5 542.5 L749.2 542.9 L750 543.2 L750.8 543.5 L751.5 543.8 L752.3 544 L753.1 544.2 L753.8 544.4 L754.6 544.5 L755.4 544.7 L756.1 544.8 L756.9 544.9 L757.7 545 L758.5 545 L759.2 545.1 L760 545.1 L760.8 545.1 L761.5 545.2 L762.3 545.2 L763.1 545.2 L763.8 545.2 L764.6 545.3 L765.4 545.3 L766.1 545.3 L766.9 545.3 L767.7 545.3 L768.4 545.3 L769.2 545.3" fill="none" stroke="#9b5fd6" stroke-width="2.2"/><path d="M713.9 545.3 L714.7 545.3 L715.4 545.3 L716.2 545.2 L717 545.2 L717.7 545.2 L718.5 545.1 L719.3 545.1 L720.1 545 L720.8 544.9 L721.6 544.7 L722.4 544.5 L723.1 544.3 L723.9 544 L724.7 543.6 L725.4 543.1 L726.2 542.6 L727 541.9 L727.7 541 L728.5 540 L729.3 538.8 L730 537.4 L730.8 535.8 L731.6 534 L732.3 531.9 L733.1 529.5 L733.9 527 L734.6 524.2 L735.4 521.1 L736.2 517.9 L736.9 514.5 L737.7 511 L738.5 507.4 L739.3 503.8 L740 500.2 L740.8 496.8 L741.6 493.5 L742.3 490.5 L743.1 487.9 L743.9 485.6 L744.6 483.7 L745.4 482.4 L746.2 481.6 L746.9 481.3 L747.7 481.6 L748.5 482.4 L749.2 483.7 L750 485.6 L750.8 487.9 L751.5 490.5 L752.3 493.5 L753.1 496.8 L753.8 500.2 L754.6 503.8 L755.4 507.4 L756.1 511 L756.9 514.5 L757.7 517.9 L758.5 521.1 L759.2 524.2 L760 527 L760.8 529.5 L761.5 531.9 L762.3 534 L763.1 535.8 L763.8 537.4 L764.6 538.8 L765.4 540 L766.1 541 L766.9 541.9 L767.7 542.6 L768.4 543.1 L769.2 543.6 L770 544 L770.7 544.3 L771.5 544.5 L772.3 544.7 L773 544.9 L773.8 545 L774.6 545.1 L775.3 545.1 L776.1 545.2 L776.9 545.2 L777.7 545.2 L778.4 545.3 L779.2 545.3 L780 545.3 Z" fill="url(#gc_D)" stroke="none"/><path d="M713.9 545.3 L714.7 545.3 L715.4 545.3 L716.2 545.2 L717 545.2 L717.7 545.2 L718.5 545.1 L719.3 545.1 L720.1 545 L720.8 544.9 L721.6 544.7 L722.4 544.5 L723.1 544.3 L723.9 544 L724.7 543.6 L725.4 543.1 L726.2 542.6 L727 541.9 L727.7 541 L728.5 540 L729.3 538.8 L730 537.4 L730.8 535.8 L731.6 534 L732.3 531.9 L733.1 529.5 L733.9 527 L734.6 524.2 L735.4 521.1 L736.2 517.9 L736.9 514.5 L737.7 511 L738.5 507.4 L739.3 503.8 L740 500.2 L740.8 496.8 L741.6 493.5 L742.3 490.5 L743.1 487.9 L743.9 485.6 L744.6 483.7 L745.4 482.4 L746.2 481.6 L746.9 481.3 L747.7 481.6 L748.5 482.4 L749.2 483.7 L750 485.6 L750.8 487.9 L751.5 490.5 L752.3 493.5 L753.1 496.8 L753.8 500.2 L754.6 503.8 L755.4 507.4 L756.1 511 L756.9 514.5 L757.7 517.9 L758.5 521.1 L759.2 524.2 L760 527 L760.8 529.5 L761.5 531.9 L762.3 534 L763.1 535.8 L763.8 537.4 L764.6 538.8 L765.4 540 L766.1 541 L766.9 541.9 L767.7 542.6 L768.4 543.1 L769.2 543.6 L770 544 L770.7 544.3 L771.5 544.5 L772.3 544.7 L773 544.9 L773.8 545 L774.6 545.1 L775.3 545.1 L776.1 545.2 L776.9 545.2 L777.7 545.2 L778.4 545.3 L779.2 545.3 L780 545.3" fill="none" stroke="#8a84e6" stroke-width="2.2"/><path d="M750.2 545.3 L751 545.3 L751.7 545.3 L752.5 545.3 L753.3 545.2 L754 545.2 L754.8 545.2 L755.6 545.1 L756.3 545.1 L757.1 545 L757.9 544.9 L758.6 544.7 L759.4 544.5 L760.2 544.3 L760.9 544 L761.7 543.6 L762.5 543.1 L763.3 542.5 L764 541.8 L764.8 541 L765.6 540 L766.3 538.8 L767.1 537.6 L767.9 536.1 L768.6 534.5 L769.4 532.8 L770.2 530.9 L770.9 528.9 L771.7 526.9 L772.5 524.9 L773.2 522.9 L774 520.9 L774.8 519.1 L775.5 517.4 L776.3 516 L777.1 514.9 L777.8 514 L778.6 513.5 L779.4 513.3 L780.1 513.5 L780.9 514 L781.7 514.9 L782.5 516 L783.2 517.4 L784 519.1 L784.8 520.9 L785.5 522.9 L786.3 524.9 L787.1 526.9 L787.8 528.9 L788.6 530.9 L789.4 532.8 L790.1 534.5 L790.9 536.1 L791.7 537.6 L792.4 538.8 L793.2 540 L794 541 L794.7 541.8 L795.5 542.5 L796.3 543.1 L797 543.6 L797.8 544 L798.6 544.3 L799.3 544.5 L800.1 544.7 L800.9 544.9 L801.7 545 L802.4 545.1 L803.2 545.1 L804 545.2 L804.7 545.2 L805.5 545.2 L806.3 545.3 L807 545.3 L807.8 545.3 L808.6 545.3 Z" fill="url(#gc_Dpp)" stroke="none"/><path d="M750.2 545.3 L751 545.3 L751.7 545.3 L752.5 545.3 L753.3 545.2 L754 545.2 L754.8 545.2 L755.6 545.1 L756.3 545.1 L757.1 545 L757.9 544.9 L758.6 544.7 L759.4 544.5 L760.2 544.3 L760.9 544 L761.7 543.6 L762.5 543.1 L763.3 542.5 L764 541.8 L764.8 541 L765.6 540 L766.3 538.8 L767.1 537.6 L767.9 536.1 L768.6 534.5 L769.4 532.8 L770.2 530.9 L770.9 528.9 L771.7 526.9 L772.5 524.9 L773.2 522.9 L774 520.9 L774.8 519.1 L775.5 517.4 L776.3 516 L777.1 514.9 L777.8 514 L778.6 513.5 L779.4 513.3 L780.1 513.5 L780.9 514 L781.7 514.9 L782.5 516 L783.2 517.4 L784 519.1 L784.8 520.9 L785.5 522.9 L786.3 524.9 L787.1 526.9 L787.8 528.9 L788.6 530.9 L789.4 532.8 L790.1 534.5 L790.9 536.1 L791.7 537.6 L792.4 538.8 L793.2 540 L794 541 L794.7 541.8 L795.5 542.5 L796.3 543.1 L797 543.6 L797.8 544 L798.6 544.3 L799.3 544.5 L800.1 544.7 L800.9 544.9 L801.7 545 L802.4 545.1 L803.2 545.1 L804 545.2 L804.7 545.2 L805.5 545.2 L806.3 545.3 L807 545.3 L807.8 545.3 L808.6 545.3" fill="none" stroke="#79d6d6" stroke-width="2.2"/><path d="M776.7 545.3 L777.5 545.2 L778.2 545.2 L779 545.1 L779.8 544.9 L780.5 544.7 L781.3 544.3 L782.1 543.6 L782.8 542.6 L783.6 541.2 L784.4 539.1 L785.1 536.3 L785.9 532.6 L786.7 527.8 L787.4 521.9 L788.2 514.8 L789 506.7 L789.7 497.7 L790.5 488.3 L791.3 478.9 L792.1 470 L792.8 462.3 L793.6 456.4 L794.4 452.6 L795.1 451.3 L795.9 452.6 L796.7 456.4 L797.4 462.3 L798.2 470 L799 478.9 L799.7 488.3 L800.5 497.7 L801.3 506.7 L802 514.8 L802.8 521.9 L803.6 527.8 L804.3 532.6 L805.1 536.3 L805.9 539.1 L806.6 541.2 L807.4 542.6 L808.2 543.6 L808.9 544.3 L809.7 544.7 L810.5 544.9 L811.3 545.1 L812 545.2 L812.8 545.2 L813.6 545.3 Z" fill="url(#gc_G)" stroke="none"/><path d="M776.7 545.3 L777.5 545.2 L778.2 545.2 L779 545.1 L779.8 544.9 L780.5 544.7 L781.3 544.3 L782.1 543.6 L782.8 542.6 L783.6 541.2 L784.4 539.1 L785.1 536.3 L785.9 532.6 L786.7 527.8 L787.4 521.9 L788.2 514.8 L789 506.7 L789.7 497.7 L790.5 488.3 L791.3 478.9 L792.1 470 L792.8 462.3 L793.6 456.4 L794.4 452.6 L795.1 451.3 L795.9 452.6 L796.7 456.4 L797.4 462.3 L798.2 470 L799 478.9 L799.7 488.3 L800.5 497.7 L801.3 506.7 L802 514.8 L802.8 521.9 L803.6 527.8 L804.3 532.6 L805.1 536.3 L805.9 539.1 L806.6 541.2 L807.4 542.6 L808.2 543.6 L808.9 544.3 L809.7 544.7 L810.5 544.9 L811.3 545.1 L812 545.2 L812.8 545.2 L813.6 545.3" fill="none" stroke="#8fe0b8" stroke-width="2.2"/><line x1="584.4" y1="545.3" x2="929.7" y2="545.3" stroke="#9b5fd6" stroke-width="2.5"/><path d="M669.4 682.6 L670.1 682.6 L670.9 682.6 L671.7 682.6 L672.4 682.6 L673.2 682.6 L674 682.6 L674.7 682.5 L675.5 682.5 L676.3 682.5 L677 682.5 L677.8 682.5 L678.6 682.4 L679.3 682.4 L680.1 682.4 L680.9 682.3 L681.7 682.3 L682.4 682.2 L683.2 682.2 L684 682.1 L684.7 682 L685.5 681.9 L686.3 681.7 L687 681.6 L687.8 681.4 L688.6 681.2 L689.3 681 L690.1 680.8 L690.9 680.5 L691.6 680.2 L692.4 679.9 L693.2 679.5 L693.9 679.1 L694.7 678.6 L695.5 678.1 L696.2 677.6 L697 677 L697.8 676.3 L698.5 675.6 L699.3 674.9 L700.1 674.1 L700.9 673.2 L701.6 672.3 L702.4 671.3 L703.2 670.3 L703.9 669.3 L704.7 668.2 L705.5 667 L706.2 665.8 L707 664.6 L707.8 663.3 L708.5 662.1 L709.3 660.8 L710.1 659.5 L710.8 658.2 L711.6 657 L712.4 655.7 L713.1 654.5 L713.9 653.4 L714.7 652.2 L715.4 651.2 L716.2 650.2 L717 649.3 L717.7 648.4 L718.5 647.7 L719.3 647.1 L720.1 646.6 L720.8 646.1 L721.6 645.8 L722.4 645.7 L723.1 645.6 L723.9 645.7 L724.7 645.8 L725.4 646.1 L726.2 646.6 L727 647.1 L727.7 647.7 L728.5 648.4 L729.3 649.3 L730 650.2 L730.8 651.2 L731.6 652.2 L732.3 653.4 L733.1 654.5 L733.9 655.7 L734.6 657 L735.4 658.2 L736.2 659.5 L736.9 660.8 L737.7 662.1 L738.5 663.3 L739.3 664.6 L740 665.8 L740.8 667 L741.6 668.2 L742.3 669.3 L743.1 670.3 L743.9 671.3 L744.6 672.3 L745.4 673.2 L746.2 674.1 L746.9 674.9 L747.7 675.6 L748.5 676.3 L749.2 677 L750 677.6 L750.8 678.1 L751.5 678.6 L752.3 679.1 L753.1 679.5 L753.8 679.9 L754.6 680.2 L755.4 680.5 L756.1 680.8 L756.9 681 L757.7 681.2 L758.5 681.4 L759.2 681.6 L760 681.7 L760.8 681.9 L761.5 682 L762.3 682.1 L763.1 682.2 L763.8 682.2 L764.6 682.3 L765.4 682.3 L766.1 682.4 L766.9 682.4 L767.7 682.4 L768.4 682.5 L769.2 682.5 L770 682.5 L770.7 682.5 L771.5 682.5 L772.3 682.6 L773 682.6 L773.8 682.6 L774.6 682.6 L775.3 682.6 L776.1 682.6 L776.9 682.6 Z" fill="url(#gc_Y)" stroke="none"/><path d="M669.4 682.6 L670.1 682.6 L670.9 682.6 L671.7 682.6 L672.4 682.6 L673.2 682.6 L674 682.6 L674.7 682.5 L675.5 682.5 L676.3 682.5 L677 682.5 L677.8 682.5 L678.6 682.4 L679.3 682.4 L680.1 682.4 L680.9 682.3 L681.7 682.3 L682.4 682.2 L683.2 682.2 L684 682.1 L684.7 682 L685.5 681.9 L686.3 681.7 L687 681.6 L687.8 681.4 L688.6 681.2 L689.3 681 L690.1 680.8 L690.9 680.5 L691.6 680.2 L692.4 679.9 L693.2 679.5 L693.9 679.1 L694.7 678.6 L695.5 678.1 L696.2 677.6 L697 677 L697.8 676.3 L698.5 675.6 L699.3 674.9 L700.1 674.1 L700.9 673.2 L701.6 672.3 L702.4 671.3 L703.2 670.3 L703.9 669.3 L704.7 668.2 L705.5 667 L706.2 665.8 L707 664.6 L707.8 663.3 L708.5 662.1 L709.3 660.8 L710.1 659.5 L710.8 658.2 L711.6 657 L712.4 655.7 L713.1 654.5 L713.9 653.4 L714.7 652.2 L715.4 651.2 L716.2 650.2 L717 649.3 L717.7 648.4 L718.5 647.7 L719.3 647.1 L720.1 646.6 L720.8 646.1 L721.6 645.8 L722.4 645.7 L723.1 645.6 L723.9 645.7 L724.7 645.8 L725.4 646.1 L726.2 646.6 L727 647.1 L727.7 647.7 L728.5 648.4 L729.3 649.3 L730 650.2 L730.8 651.2 L731.6 652.2 L732.3 653.4 L733.1 654.5 L733.9 655.7 L734.6 657 L735.4 658.2 L736.2 659.5 L736.9 660.8 L737.7 662.1 L738.5 663.3 L739.3 664.6 L740 665.8 L740.8 667 L741.6 668.2 L742.3 669.3 L743.1 670.3 L743.9 671.3 L744.6 672.3 L745.4 673.2 L746.2 674.1 L746.9 674.9 L747.7 675.6 L748.5 676.3 L749.2 677 L750 677.6 L750.8 678.1 L751.5 678.6 L752.3 679.1 L753.1 679.5 L753.8 679.9 L754.6 680.2 L755.4 680.5 L756.1 680.8 L756.9 681 L757.7 681.2 L758.5 681.4 L759.2 681.6 L760 681.7 L760.8 681.9 L761.5 682 L762.3 682.1 L763.1 682.2 L763.8 682.2 L764.6 682.3 L765.4 682.3 L766.1 682.4 L766.9 682.4 L767.7 682.4 L768.4 682.5 L769.2 682.5 L770 682.5 L770.7 682.5 L771.5 682.5 L772.3 682.6 L773 682.6 L773.8 682.6 L774.6 682.6 L775.3 682.6 L776.1 682.6 L776.9 682.6" fill="none" stroke="#f2e48c" stroke-width="2.2"/><path d="M707.4 682.6 L708.1 682.6 L708.9 682.6 L709.7 682.5 L710.5 682.5 L711.2 682.5 L712 682.5 L712.8 682.4 L713.5 682.3 L714.3 682.3 L715.1 682.2 L715.8 682 L716.6 681.9 L717.4 681.7 L718.1 681.4 L718.9 681.1 L719.7 680.7 L720.4 680.3 L721.2 679.7 L722 679 L722.7 678.3 L723.5 677.3 L724.3 676.3 L725 675.1 L725.8 673.7 L726.6 672.1 L727.3 670.3 L728.1 668.3 L728.9 666.1 L729.7 663.8 L730.4 661.2 L731.2 658.4 L732 655.5 L732.7 652.4 L733.5 649.2 L734.3 645.9 L735 642.6 L735.8 639.2 L736.6 636 L737.3 632.8 L738.1 629.8 L738.9 626.9 L739.6 624.4 L740.4 622.1 L741.2 620.2 L741.9 618.6 L742.7 617.5 L743.5 616.8 L744.2 616.6 L745 616.8 L745.8 617.5 L746.5 618.6 L747.3 620.2 L748.1 622.1 L748.9 624.4 L749.6 626.9 L750.4 629.8 L751.2 632.8 L751.9 636 L752.7 639.2 L753.5 642.6 L754.2 645.9 L755 649.2 L755.8 652.4 L756.5 655.5 L757.3 658.4 L758.1 661.2 L758.8 663.8 L759.6 666.1 L760.4 668.3 L761.1 670.3 L761.9 672.1 L762.7 673.7 L763.4 675.1 L764.2 676.3 L765 677.3 L765.7 678.3 L766.5 679 L767.3 679.7 L768.1 680.3 L768.8 680.7 L769.6 681.1 L770.4 681.4 L771.1 681.7 L771.9 681.9 L772.7 682 L773.4 682.2 L774.2 682.3 L775 682.3 L775.7 682.4 L776.5 682.5 L777.3 682.5 L778 682.5 L778.8 682.5 L779.6 682.6 L780.3 682.6 L781.1 682.6 Z" fill="url(#gc_P)" stroke="none"/><path d="M707.4 682.6 L708.1 682.6 L708.9 682.6 L709.7 682.5 L710.5 682.5 L711.2 682.5 L712 682.5 L712.8 682.4 L713.5 682.3 L714.3 682.3 L715.1 682.2 L715.8 682 L716.6 681.9 L717.4 681.7 L718.1 681.4 L718.9 681.1 L719.7 680.7 L720.4 680.3 L721.2 679.7 L722 679 L722.7 678.3 L723.5 677.3 L724.3 676.3 L725 675.1 L725.8 673.7 L726.6 672.1 L727.3 670.3 L728.1 668.3 L728.9 666.1 L729.7 663.8 L730.4 661.2 L731.2 658.4 L732 655.5 L732.7 652.4 L733.5 649.2 L734.3 645.9 L735 642.6 L735.8 639.2 L736.6 636 L737.3 632.8 L738.1 629.8 L738.9 626.9 L739.6 624.4 L740.4 622.1 L741.2 620.2 L741.9 618.6 L742.7 617.5 L743.5 616.8 L744.2 616.6 L745 616.8 L745.8 617.5 L746.5 618.6 L747.3 620.2 L748.1 622.1 L748.9 624.4 L749.6 626.9 L750.4 629.8 L751.2 632.8 L751.9 636 L752.7 639.2 L753.5 642.6 L754.2 645.9 L755 649.2 L755.8 652.4 L756.5 655.5 L757.3 658.4 L758.1 661.2 L758.8 663.8 L759.6 666.1 L760.4 668.3 L761.1 670.3 L761.9 672.1 L762.7 673.7 L763.4 675.1 L764.2 676.3 L765 677.3 L765.7 678.3 L766.5 679 L767.3 679.7 L768.1 680.3 L768.8 680.7 L769.6 681.1 L770.4 681.4 L771.1 681.7 L771.9 681.9 L772.7 682 L773.4 682.2 L774.2 682.3 L775 682.3 L775.7 682.4 L776.5 682.5 L777.3 682.5 L778 682.5 L778.8 682.5 L779.6 682.6 L780.3 682.6 L781.1 682.6" fill="none" stroke="#f9c0a8" stroke-width="2.2"/><path d="M744.4 682.6 L745.2 682.6 L746 682.6 L746.7 682.5 L747.5 682.5 L748.3 682.5 L749 682.4 L749.8 682.3 L750.6 682.2 L751.3 682.1 L752.1 681.9 L752.9 681.7 L753.7 681.4 L754.4 681 L755.2 680.6 L756 680 L756.7 679.2 L757.5 678.3 L758.3 677.3 L759 676 L759.8 674.5 L760.6 672.7 L761.3 670.7 L762.1 668.5 L762.9 665.9 L763.6 663.1 L764.4 660.1 L765.2 656.8 L765.9 653.4 L766.7 649.8 L767.5 646.2 L768.2 642.6 L769 639 L769.8 635.6 L770.5 632.5 L771.3 629.7 L772.1 627.2 L772.9 625.2 L773.6 623.8 L774.4 622.9 L775.2 622.6 L775.9 622.9 L776.7 623.8 L777.5 625.2 L778.2 627.2 L779 629.7 L779.8 632.5 L780.5 635.6 L781.3 639 L782.1 642.6 L782.8 646.2 L783.6 649.8 L784.4 653.4 L785.1 656.8 L785.9 660.1 L786.7 663.1 L787.4 665.9 L788.2 668.5 L789 670.7 L789.7 672.7 L790.5 674.5 L791.3 676 L792.1 677.3 L792.8 678.3 L793.6 679.2 L794.4 680 L795.1 680.6 L795.9 681 L796.7 681.4 L797.4 681.7 L798.2 681.9 L799 682.1 L799.7 682.2 L800.5 682.3 L801.3 682.4 L802 682.5 L802.8 682.5 L803.6 682.5 L804.3 682.6 L805.1 682.6 L805.9 682.6 Z" fill="url(#gc_O)" stroke="none"/><path d="M744.4 682.6 L745.2 682.6 L746 682.6 L746.7 682.5 L747.5 682.5 L748.3 682.5 L749 682.4 L749.8 682.3 L750.6 682.2 L751.3 682.1 L752.1 681.9 L752.9 681.7 L753.7 681.4 L754.4 681 L755.2 680.6 L756 680 L756.7 679.2 L757.5 678.3 L758.3 677.3 L759 676 L759.8 674.5 L760.6 672.7 L761.3 670.7 L762.1 668.5 L762.9 665.9 L763.6 663.1 L764.4 660.1 L765.2 656.8 L765.9 653.4 L766.7 649.8 L767.5 646.2 L768.2 642.6 L769 639 L769.8 635.6 L770.5 632.5 L771.3 629.7 L772.1 627.2 L772.9 625.2 L773.6 623.8 L774.4 622.9 L775.2 622.6 L775.9 622.9 L776.7 623.8 L777.5 625.2 L778.2 627.2 L779 629.7 L779.8 632.5 L780.5 635.6 L781.3 639 L782.1 642.6 L782.8 646.2 L783.6 649.8 L784.4 653.4 L785.1 656.8 L785.9 660.1 L786.7 663.1 L787.4 665.9 L788.2 668.5 L789 670.7 L789.7 672.7 L790.5 674.5 L791.3 676 L792.1 677.3 L792.8 678.3 L793.6 679.2 L794.4 680 L795.1 680.6 L795.9 681 L796.7 681.4 L797.4 681.7 L798.2 681.9 L799 682.1 L799.7 682.2 L800.5 682.3 L801.3 682.4 L802 682.5 L802.8 682.5 L803.6 682.5 L804.3 682.6 L805.1 682.6 L805.9 682.6" fill="none" stroke="#f8b88c" stroke-width="2.2"/><path d="M771.9 682.6 L772.7 682.5 L773.4 682.5 L774.2 682.4 L775 682.3 L775.7 682.2 L776.5 681.9 L777.3 681.5 L778 680.9 L778.8 680.1 L779.6 678.9 L780.3 677.2 L781.1 675.1 L781.9 672.2 L782.6 668.7 L783.4 664.3 L784.2 659 L784.9 652.9 L785.7 646 L786.5 638.5 L787.3 630.6 L788 622.6 L788.8 615 L789.6 607.9 L790.3 602 L791.1 597.4 L791.9 594.6 L792.6 593.6 L793.4 594.6 L794.2 597.4 L794.9 602 L795.7 607.9 L796.5 615 L797.2 622.6 L798 630.6 L798.8 638.5 L799.5 646 L800.3 652.9 L801.1 659 L801.8 664.3 L802.6 668.7 L803.4 672.2 L804.1 675.1 L804.9 677.2 L805.7 678.9 L806.5 680.1 L807.2 680.9 L808 681.5 L808.8 681.9 L809.5 682.2 L810.3 682.3 L811.1 682.4 L811.8 682.5 L812.6 682.5 L813.4 682.6 Z" fill="url(#gc_R)" stroke="none"/><path d="M771.9 682.6 L772.7 682.5 L773.4 682.5 L774.2 682.4 L775 682.3 L775.7 682.2 L776.5 681.9 L777.3 681.5 L778 680.9 L778.8 680.1 L779.6 678.9 L780.3 677.2 L781.1 675.1 L781.9 672.2 L782.6 668.7 L783.4 664.3 L784.2 659 L784.9 652.9 L785.7 646 L786.5 638.5 L787.3 630.6 L788 622.6 L788.8 615 L789.6 607.9 L790.3 602 L791.1 597.4 L791.9 594.6 L792.6 593.6 L793.4 594.6 L794.2 597.4 L794.9 602 L795.7 607.9 L796.5 615 L797.2 622.6 L798 630.6 L798.8 638.5 L799.5 646 L800.3 652.9 L801.1 659 L801.8 664.3 L802.6 668.7 L803.4 672.2 L804.1 675.1 L804.9 677.2 L805.7 678.9 L806.5 680.1 L807.2 680.9 L808 681.5 L808.8 681.9 L809.5 682.2 L810.3 682.3 L811.1 682.4 L811.8 682.5 L812.6 682.5 L813.4 682.6" fill="none" stroke="#f7a0a8" stroke-width="3"/><line x1="584.4" y1="681.6" x2="929.7" y2="681.6" stroke="#f7a0a8" stroke-width="2.5"/><path d="M584.1 544.4 C591 544.3 628 544 638.9 543.5 C649.8 543 664.6 541.3 669.8 540.8 C675 540.3 676 540.4 679.7 539.6 C683.4 538.8 694.3 537.8 699 534.7 C703.7 531.6 712.5 520.7 716.5 515.4 C720.5 510.1 727 498.6 730.5 492.6 C734 486.6 741.6 468.6 744.5 467.7 C747.4 466.8 751.3 481.3 753.3 485.6 C755.3 489.9 758.3 498.3 760.3 501.4 C762.3 504.5 766.2 508.9 769.1 510.2 C772 511.5 780.7 513.4 783.1 511.6 C785.5 509.8 787 504 788.4 496.2 C789.8 488.4 793 453.3 794.5 449.7 C796 446.1 799.2 458.9 800.6 468.1 C802 477.3 804.2 513.8 805.5 522 C806.8 530.2 809.2 531.1 811 533 C812.8 534.9 817 536.1 820 537 C823 537.9 828.9 539 835 539.8 C841.1 540.6 856.3 542.6 868.3 543.1 C880.3 543.6 921.9 543.9 929.7 544" fill="none" stroke="#424242" stroke-width="2.4"/><path d="M585 679.4 C588.8 679.5 606.8 679.9 615 679.8 C623.2 679.7 642.9 679.5 649.9 678.9 C656.9 678.3 666 676 670 675 C674 674 677.5 673.1 681.4 671 C685.3 668.9 696.3 662.9 700.7 658.7 C705.1 654.5 712.2 643.1 716 638 C719.8 632.9 727.5 623.5 730.5 618.4 C733.5 613.3 737.8 601.4 740 598 C742.2 594.6 745.8 591.6 748 591.2 C750.2 590.8 754.7 592.9 757 595 C759.3 597.1 764 605.7 766 608 C768 610.3 771 613.6 772.6 613.1 C774.2 612.6 777.3 608.2 779 604 C780.7 599.8 784.5 584.4 786 580 C787.5 575.6 789.7 569.3 791 569.3 C792.3 569.3 794.6 574.7 796 580 C797.4 585.3 801 603.8 802.4 611.4 C803.8 619 805.7 634 807 640 C808.3 646 811.3 655.5 812.9 658.7 C814.5 661.9 817.2 663.4 820 665 C822.8 666.6 830.2 669.6 835 671 C839.8 672.4 845.7 675 857.7 676 C869.7 677 920.6 678.6 929.7 679" fill="none" stroke="#424242" stroke-width="2.4"/><rect x="730" y="411" width="24" height="272" fill="#F6A9D2" opacity="0.5"/><rect x="784" y="411" width="16" height="272" fill="#F6A9D2" opacity="0.5"/><rect x="584.4" y="410" width="345.3" height="273.4" fill="none" stroke="#000" stroke-width="2.6"/><line x1="584.4" y1="546.5" x2="929.7" y2="546.5" stroke="#000" stroke-width="2.6"/><line x1="584.5" y1="683.4" x2="584.5" y2="687.9" stroke="#000" stroke-width="2"/><line x1="680.5" y1="683.4" x2="680.5" y2="687.9" stroke="#000" stroke-width="2"/><line x1="776.5" y1="683.4" x2="776.5" y2="687.9" stroke="#000" stroke-width="2"/><line x1="872.5" y1="683.4" x2="872.5" y2="687.9" stroke="#000" stroke-width="2"/><line x1="632.5" y1="683.4" x2="632.5" y2="686.4" stroke="#000" stroke-width="1.6"/><line x1="728.5" y1="683.4" x2="728.5" y2="686.4" stroke="#000" stroke-width="1.6"/><line x1="824.5" y1="683.4" x2="824.5" y2="686.4" stroke="#000" stroke-width="1.6"/><line x1="920.5" y1="683.4" x2="920.5" y2="686.4" stroke="#000" stroke-width="1.6"/><text x="584.5" y="705.4" font-size="14" text-anchor="middle" font-weight="bold" fill="#1a1a1a" >500</text><text x="680.5" y="705.4" font-size="14" text-anchor="middle" font-weight="bold" fill="#1a1a1a" >1000</text><text x="776.5" y="705.4" font-size="14" text-anchor="middle" font-weight="bold" fill="#1a1a1a" >1500</text><text x="872.5" y="705.4" font-size="14" text-anchor="middle" font-weight="bold" fill="#1a1a1a" >2000</text><text x="757.4" y="733.7" font-size="17.3" font-weight="bold" text-anchor="middle" fill="#1a1a1a" textLength="146.8" lengthAdjust="spacing">Raman shift (cm<tspan font-size="10" dy="-6">-1</tspan><tspan dy="6">)</tspan></text><text transform="translate(568,540.7) rotate(-90)" font-size="16.8" font-weight="bold" text-anchor="middle" fill="#1a1a1a" textLength="105" lengthAdjust="spacing">Intensity (a.u.)</text><text x="595.5" y="434" font-size="16" text-anchor="start" font-weight="bold" fill="#1a1a1a" textLength="25" lengthAdjust="spacing">RC</text><text x="595" y="571.9" font-size="16.5" text-anchor="start" font-weight="bold" fill="#1a1a1a" textLength="42.5" lengthAdjust="spacing">OMC</text><text x="687.2" y="507.5" font-size="18.5" text-anchor="start" font-weight="bold" fill="#1a1a1a" >T</text><text x="705.5" y="440.9" font-size="18.5" text-anchor="start" font-weight="bold" fill="#1a1a1a" >D</text><text x="809" y="441" font-size="18.5" text-anchor="start" font-weight="bold" fill="#1a1a1a" >G</text><text x="760" y="488.3" font-size="18.5" text-anchor="start" font-weight="bold" fill="#1a1a1a" textLength="25.5" lengthAdjust="spacing">D''</text><text x="595.5" y="529.5" font-size="15.5" font-weight="bold" fill="#1a1a1a" textLength="87.5" lengthAdjust="spacing">A<tspan font-size="10" dy="4">D</tspan><tspan dy="-4">/A</tspan><tspan font-size="10" dy="4">G</tspan><tspan dy="-4">=0.83</tspan></text><text x="595.5" y="661" font-size="15.5" font-weight="bold" fill="#1a1a1a" textLength="88" lengthAdjust="spacing">A<tspan font-size="10" dy="4">D</tspan><tspan dy="-4">/A</tspan><tspan font-size="10" dy="4">G</tspan><tspan dy="-4">=1.33</tspan></text>
<text x="964" y="432" font-size="35" text-anchor="start" font-weight="bold" fill="#1a1a1a" >(d)</text><path d="M1040.8 471.9 L1042.3 473.9 L1043.8 476.3 L1045.3 477.5 L1046.8 479.3 L1048.3 481.2 L1049.8 482.4 L1051.3 484.6 L1052.8 486.6 L1054.3 488.6 L1055.8 489.3 L1057.3 491.2 L1058.8 492.5 L1060.3 495 L1061.8 496.2 L1063.3 496.5 L1064.8 498.8 L1066.3 499.7 L1067.8 500.1 L1069.3 500.9 L1070.8 501.1 L1072.3 501.5 L1073.8 502.6 L1075.3 501.9 L1076.8 501.9 L1078.3 501.6 L1079.8 500.9 L1081.3 501 L1082.8 500.5 L1084.3 500.5 L1085.8 499.5 L1087.3 499.1 L1088.8 498.3 L1090.3 498 L1091.8 497.3 L1093.3 496.6 L1094.8 497.3 L1096.3 496.9 L1097.8 496.2 L1099.3 495.5 L1100.8 494.2 L1102.3 493.1 L1103.8 492 L1105.3 490.4 L1106.8 489.8 L1108.3 487.7 L1109.8 486.6 L1111.3 484.2 L1112.8 483.1 L1114.3 481.1 L1115.8 478 L1117.3 476.4 L1118.8 475.3 L1120.3 471.9 L1121.8 468.3 L1123.3 461.1 L1124.8 453.5 L1126.3 446.4 L1127.8 439.5 L1129.3 434.9 L1130.8 434.3 L1132.3 434.7 L1133.8 436.2 L1135.3 440.5 L1136.8 447.9 L1138.3 456.5 L1139.8 465.3 L1141.3 474 L1142.8 482.9 L1144.3 488.2 L1145.8 493.5 L1147.3 497.1 L1148.8 499.7 L1150.3 502.9 L1151.8 504.2 L1153.3 506.7 L1154.8 507.6 L1156.3 509.4 L1157.8 510.4 L1159.3 511.8 L1160.8 514.1 L1162.3 515.1 L1163.8 515.6 L1165.3 517.5 L1166.8 517.6 L1168.3 518.8 L1169.8 520.2 L1171.3 520.5 L1172.8 520.3 L1174.3 521.9 L1175.8 521 L1177.3 521.2 L1178.8 522.1 L1180.3 521.6 L1181.8 521.7 L1183.3 521.6 L1184.8 521.8 L1186.3 522.7 L1187.8 522.5 L1189.3 523.2 L1190.8 523 L1192.3 523.1 L1193.8 523.8 L1195.3 522.9 L1196.8 522.6 L1198.3 521.7 L1199.8 518.7 L1201.3 516.9 L1202.8 517 L1204.3 516.5 L1205.8 515.4 L1207.3 515.2 L1208.8 515.9 L1210.3 516.2 L1211.8 515.3 L1213.3 516.4 L1214.8 516.4 L1216.3 516.1 L1217.8 516 L1219.3 515.8 L1220.8 516.3 L1222.3 518.4 L1223.8 518.6 L1225.3 520.5 L1226.8 521.3 L1228.3 523.5 L1229.8 524.5 L1231.3 525.3 L1232.8 526.2 L1234.3 527.8 L1235.8 527.6 L1237.3 528.4 L1238.8 529.5 L1240.3 530.5 L1241.8 530.8 L1243.3 530.8 L1244.8 532.2 L1246.3 531.7 L1247.8 531.8 L1249.3 532.6 L1250.8 533.3 L1252.3 533.1 L1253.8 533.6 L1255.3 534.2 L1256.8 534.9 L1258.3 534.5 L1259.8 535.1 L1261.3 535.9 L1262.8 536.2 L1264.3 535.8 L1265.8 535.9 L1267.3 535.8 L1268.8 535.2 L1270.3 535.2 L1271.8 535.3 L1273.3 536.7 L1274.8 536.6 L1276.3 537.3 L1277.8 536.5 L1279.3 537.9 L1280.8 538.2 L1282.3 539.1 L1283.8 539 L1285.3 540.4 L1286.8 539.4 L1288.3 540.3 L1289.8 540.8 L1291.3 541.3 L1292.8 541.3 L1294.3 541.4 L1295.8 541.8 L1297.3 542.1 L1298.8 541.5 L1300.3 542.2 L1301.8 542.6 L1303.3 542.8 L1304.8 542.3 L1306.3 543 L1307.8 543.2 L1309.3 543 L1310.8 543.2 L1312.3 543 L1313.8 543.4 L1315.3 543.6 L1316.8 542.9 L1318.3 543.9 L1319.8 544.5 L1321.3 544.4 L1322.8 544.4 L1324.3 544 L1325.8 544.6 L1327.3 544.5 L1328.8 544.4 L1330.3 545 L1331.8 544 L1333.3 545 L1334.8 544 L1336.3 544.8 L1337.8 544.7 L1339.3 544.3 L1340.8 544.9 L1342.3 544.5 L1343.8 544.6 L1345.3 544.8 L1346.8 543.7 L1348.3 543.2 L1349.8 543.4 L1351.3 543.7 L1352.8 542.8 L1354.3 542.5 L1355.8 543.3 L1357.3 542.7 L1358.8 542.2 L1360.3 542.6 L1361.8 541.6 L1363.3 542 L1364.8 541.2 L1366.3 541.4 L1367.8 541.9 L1369.3 542.1 L1370.8 542.1 L1372.3 541.5 L1373.8 541.9 L1375.3 541.7 L1376.8 541.6 L1378.3 542.3 L1379.8 542.9 L1381.3 543.1 L1382.8 543.1 L1384.3 543.6 L1384.9 543" fill="none" stroke="#6BB1DC" stroke-width="3" stroke-linejoin="round"/><path d="M1040.7 559.8 L1042.2 563.2 L1043.7 566.5 L1045.2 569 L1046.7 572 L1048.2 575.7 L1049.7 578.8 L1051.2 582.7 L1052.7 585.6 L1054.2 588.5 L1055.7 591.4 L1057.2 594.5 L1058.7 596.3 L1060.2 598.8 L1061.7 600 L1063.2 602.5 L1064.7 602.6 L1066.2 604.9 L1067.7 604.9 L1069.2 606.8 L1070.7 607.3 L1072.2 608.3 L1073.7 609.9 L1075.2 609.7 L1076.7 610.6 L1078.2 612.5 L1079.7 612.3 L1081.2 611.8 L1082.7 613.2 L1084.2 613.2 L1085.7 612.1 L1087.2 612.6 L1088.7 612.1 L1090.2 612.3 L1091.7 612.7 L1093.2 611.9 L1094.7 612.5 L1096.2 611.4 L1097.7 611.3 L1099.2 611.9 L1100.7 610.9 L1102.2 610.4 L1103.7 610 L1105.2 609.1 L1106.7 608.1 L1108.2 606.7 L1109.7 606.7 L1111.2 605.9 L1112.7 604.7 L1114.2 602.9 L1115.7 601 L1117.2 599.5 L1118.7 598.2 L1120.2 595.8 L1121.7 592.1 L1123.2 589 L1124.7 585.3 L1126.2 580.2 L1127.7 572.4 L1129.2 563.2 L1130.7 557 L1132.2 556.3 L1133.7 556.6 L1135.2 560.1 L1136.7 565.4 L1138.2 572.6 L1139.7 579.6 L1141.2 586.6 L1142.7 592.3 L1144.2 599.5 L1145.7 604.8 L1147.2 610.8 L1148.7 614.7 L1150.2 618.9 L1151.7 621.5 L1153.2 623.8 L1154.7 624.8 L1156.2 627 L1157.7 628.2 L1159.2 629.8 L1160.7 631.4 L1162.2 633.3 L1163.7 633.7 L1165.2 635.4 L1166.7 635.2 L1168.2 637 L1169.7 636.8 L1171.2 637.1 L1172.7 638.3 L1174.2 638.8 L1175.7 637.8 L1177.2 638.3 L1178.7 639.1 L1180.2 638.6 L1181.7 638.4 L1183.2 638 L1184.7 637.9 L1186.2 638.6 L1187.7 638.9 L1189.2 638.8 L1190.7 637.9 L1192.2 637 L1193.7 637.2 L1195.2 637.6 L1196.7 637.4 L1198.2 636.7 L1199.7 635.7 L1201.2 635.6 L1202.7 635.1 L1204.2 634.7 L1205.7 633.7 L1207.2 634.1 L1208.7 633.6 L1210.2 632.1 L1211.7 631.8 L1213.2 632.3 L1214.7 631.2 L1216.2 631.9 L1217.7 631.3 L1219.2 631.9 L1220.7 632.4 L1222.2 632.4 L1223.7 633.3 L1225.2 634.3 L1226.7 636.6 L1228.2 638.5 L1229.7 639.1 L1231.2 640.9 L1232.7 640.9 L1234.2 641.2 L1235.7 642 L1237.2 643.3 L1238.7 643.3 L1240.2 643.8 L1241.7 644.7 L1243.2 645.2 L1244.7 645.3 L1246.2 645.2 L1247.7 645.8 L1249.2 646.6 L1250.7 646.8 L1252.2 646.9 L1253.7 646.9 L1255.2 647.2 L1256.7 648 L1258.2 648 L1259.7 647.5 L1261.2 648.7 L1262.7 649.2 L1264.2 649.3 L1265.7 649.6 L1267.2 649.8 L1268.7 649.5 L1270.2 650.1 L1271.7 649.7 L1273.2 649.5 L1274.7 650 L1276.2 650.1 L1277.7 651.2 L1279.2 651.1 L1280.7 651.1 L1282.2 651.4 L1283.7 651 L1285.2 651.8 L1286.7 652.2 L1288.2 652 L1289.7 652 L1291.2 652.5 L1292.7 652.6 L1294.2 653.3 L1295.7 652.8 L1297.2 653 L1298.7 653.5 L1300.2 654.2 L1301.7 654.5 L1303.2 654.6 L1304.7 655.2 L1306.2 654.5 L1307.7 654.2 L1309.2 655 L1310.7 655.1 L1312.2 654.9 L1313.7 655.8 L1315.2 655.4 L1316.7 655.4 L1318.2 655.7 L1319.7 656.7 L1321.2 655.5 L1322.7 656.1 L1324.2 656.1 L1325.7 656.1 L1327.2 656.5 L1328.7 656.3 L1330.2 657.4 L1331.7 656.9 L1333.2 657.2 L1334.7 656.5 L1336.2 656.9 L1337.7 657.2 L1339.2 657.5 L1340.7 656.6 L1342.2 656.9 L1343.7 657.4 L1345.2 657.3 L1346.7 656.4 L1348.2 656.8 L1349.7 657 L1351.2 656.4 L1352.7 656.7 L1354.2 656.6 L1355.7 657 L1357.2 656.3 L1358.7 656.4 L1360.2 655.9 L1361.7 656.4 L1363.2 655.8 L1364.7 656 L1366.2 655.8 L1367.7 655.7 L1369.2 655.5 L1370.7 655.7 L1372.2 656.2 L1373.7 655.8 L1375.2 655.6 L1376.7 656.7 L1378.2 656.1 L1379.7 657 L1381.2 656.6 L1382.7 656.4 L1384.2 657.1 L1384.3 656.6" fill="none" stroke="#F5A86B" stroke-width="3" stroke-linejoin="round"/><rect x="1039.5" y="408" width="345.5" height="275.2" fill="none" stroke="#000" stroke-width="2.6"/><line x1="1062.5" y1="683.2" x2="1062.5" y2="687.7" stroke="#000" stroke-width="2"/><line x1="1108.5" y1="683.2" x2="1108.5" y2="687.7" stroke="#000" stroke-width="2"/><line x1="1154.5" y1="683.2" x2="1154.5" y2="687.7" stroke="#000" stroke-width="2"/><line x1="1200.5" y1="683.2" x2="1200.5" y2="687.7" stroke="#000" stroke-width="2"/><line x1="1246.5" y1="683.2" x2="1246.5" y2="687.7" stroke="#000" stroke-width="2"/><line x1="1292.5" y1="683.2" x2="1292.5" y2="687.7" stroke="#000" stroke-width="2"/><line x1="1338.5" y1="683.2" x2="1338.5" y2="687.7" stroke="#000" stroke-width="2"/><line x1="1384.5" y1="683.2" x2="1384.5" y2="687.7" stroke="#000" stroke-width="2"/><line x1="1085.5" y1="683.2" x2="1085.5" y2="686.2" stroke="#000" stroke-width="1.6"/><line x1="1131.5" y1="683.2" x2="1131.5" y2="686.2" stroke="#000" stroke-width="1.6"/><line x1="1177.5" y1="683.2" x2="1177.5" y2="686.2" stroke="#000" stroke-width="1.6"/><line x1="1223.5" y1="683.2" x2="1223.5" y2="686.2" stroke="#000" stroke-width="1.6"/><line x1="1269.5" y1="683.2" x2="1269.5" y2="686.2" stroke="#000" stroke-width="1.6"/><line x1="1315.5" y1="683.2" x2="1315.5" y2="686.2" stroke="#000" stroke-width="1.6"/><line x1="1361.5" y1="683.2" x2="1361.5" y2="686.2" stroke="#000" stroke-width="1.6"/><text x="1062.5" y="704.3" font-size="13" text-anchor="middle" font-weight="bold" fill="#1a1a1a" >10</text><text x="1108.5" y="704.3" font-size="13" text-anchor="middle" font-weight="bold" fill="#1a1a1a" >20</text><text x="1154.5" y="704.3" font-size="13" text-anchor="middle" font-weight="bold" fill="#1a1a1a" >30</text><text x="1200.5" y="704.3" font-size="13" text-anchor="middle" font-weight="bold" fill="#1a1a1a" >40</text><text x="1246.5" y="704.3" font-size="13" text-anchor="middle" font-weight="bold" fill="#1a1a1a" >50</text><text x="1292.5" y="704.3" font-size="13" text-anchor="middle" font-weight="bold" fill="#1a1a1a" >60</text><text x="1338.5" y="704.3" font-size="13" text-anchor="middle" font-weight="bold" fill="#1a1a1a" >70</text><text x="1384.5" y="704.3" font-size="13" text-anchor="middle" font-weight="bold" fill="#1a1a1a" >80</text><text x="1211.7" y="731" font-size="16.8" text-anchor="middle" font-weight="bold" fill="#1a1a1a" textLength="117" lengthAdjust="spacing">2 Theta (degree)</text><text transform="translate(1021.5,545.6) rotate(-90)" font-size="16.8" font-weight="bold" text-anchor="middle" fill="#1a1a1a" textLength="118" lengthAdjust="spacing">Intensity (a. u.)</text><text x="1144" y="434.3" font-size="14.5" text-anchor="start" font-weight="bold" fill="#1a1a1a" textLength="34" lengthAdjust="spacing">(002)</text><text x="1232" y="499" font-size="14.5" text-anchor="start" font-weight="bold" fill="#1a1a1a" textLength="34" lengthAdjust="spacing">(100)</text><text x="1336.3" y="522.7" font-size="16" text-anchor="start" font-weight="bold" fill="#1a1a1a" textLength="22.5" lengthAdjust="spacing">RC</text><text x="1329.4" y="638.9" font-size="16" text-anchor="start" font-weight="bold" fill="#1a1a1a" textLength="38" lengthAdjust="spacing">OMC</text>
<text x="32" y="775" font-size="35" text-anchor="start" font-weight="bold" fill="#1a1a1a" >(e)</text><polygon points="166,752 475.5,752 475.5,996 166,996" fill="#FBDCC2"/><polygon points="132,786 166,752 166,996 132,1030" fill="#C1C0BF"/><polygon points="132,1030 166,996 475.5,996 441,1030" fill="#FCC8C9"/><line x1="208" y1="873.2" x2="475.5" y2="873.2" stroke="#c8c4c8" stroke-width="1"/><polygon points="151.2,807.6 157.8,801.3 183,801.3 176.4,807.6" fill="#7DB6DE"/><polygon points="176.4,807.6 183,801.3 183,1009.4 176.4,1015.7" fill="#72A8CB"/><rect x="151.2" y="807.6" width="25.2" height="208.1" fill="#9ACEEA"/><polygon points="176.4,864.5 183,858.2 207.4,858.2 200.8,864.5" fill="#DF9C62"/><polygon points="200.8,864.5 207.4,858.2 207.4,1009.4 200.8,1015.7" fill="#C0844F"/><rect x="176.4" y="864.5" width="24.4" height="151.2" fill="#F9AB6B"/><polygon points="213.4,1007.3 220,1001 244.7,1001 238.1,1007.3" fill="#7DB6DE"/><polygon points="238.1,1007.3 244.7,1001 244.7,1009.4 238.1,1015.7" fill="#72A8CB"/><rect x="213.4" y="1007.3" width="24.7" height="8.4" fill="#9ACEEA"/><polygon points="238.1,1008.5 244.7,1002.2 269.1,1002.2 262.5,1008.5" fill="#DF9C62"/><polygon points="262.5,1008.5 269.1,1002.2 269.1,1009.4 262.5,1015.7" fill="#C0844F"/><rect x="238.1" y="1008.5" width="24.4" height="7.2" fill="#F9AB6B"/><polygon points="275.1,993.3 281.7,987 306.4,987 299.8,993.3" fill="#7DB6DE"/><polygon points="299.8,993.3 306.4,987 306.4,1009.4 299.8,1015.7" fill="#72A8CB"/><rect x="275.1" y="993.3" width="24.7" height="22.4" fill="#9ACEEA"/><polygon points="299.8,934 306.4,927.7 331.6,927.7 325,934" fill="#DF9C62"/><polygon points="325,934 331.6,927.7 331.6,1009.4 325,1015.7" fill="#C0844F"/><rect x="299.8" y="934" width="25.2" height="81.7" fill="#F9AB6B"/><polygon points="336.8,1014 343.4,1007.7 368.6,1007.7 362,1014" fill="#7DB6DE"/><polygon points="362,1014 368.6,1007.7 368.6,1009.4 362,1015.7" fill="#72A8CB"/><rect x="336.8" y="1014" width="25.2" height="1.7" fill="#9ACEEA"/><polygon points="362,1015.5 368.6,1009.2 393.9,1009.2 387.3,1015.5" fill="#DF9C62"/><polygon points="387.3,1015.5 393.9,1009.2 393.9,1009.4 387.3,1015.7" fill="#C0844F"/><rect x="362" y="1015.5" width="25.3" height="0.2" fill="#F9AB6B"/><polygon points="399,1015.5 405.6,1009.2 431,1009.2 424.4,1015.5" fill="#7DB6DE"/><polygon points="424.4,1015.5 431,1009.2 431,1009.4 424.4,1015.7" fill="#72A8CB"/><rect x="399" y="1015.5" width="25.4" height="0.2" fill="#9ACEEA"/><polygon points="424.4,1016 431,1009.7 455.6,1009.7 449,1016" fill="#DF9C62"/><polygon points="449,1016 455.6,1009.7 455.6,1009.4 449,1015.7" fill="#C0844F"/><rect x="424.4" y="1016" width="24.6" height="-0.3" fill="#F9AB6B"/><line x1="132" y1="786" x2="132" y2="1031.5" stroke="#000" stroke-width="2.6"/><line x1="130.7" y1="1030.3" x2="441" y2="1030.3" stroke="#000" stroke-width="2.6"/><line x1="132" y1="1029.4" x2="125.5" y2="1029.4" stroke="#000" stroke-width="2.2"/><line x1="132" y1="907.8" x2="125.5" y2="907.8" stroke="#000" stroke-width="2.2"/><line x1="132" y1="786.2" x2="125.5" y2="786.2" stroke="#000" stroke-width="2.2"/><line x1="132" y1="968.6" x2="128.5" y2="968.6" stroke="#000" stroke-width="1.8"/><line x1="132" y1="847" x2="128.5" y2="847" stroke="#000" stroke-width="1.8"/><line x1="162.4" y1="1030.3" x2="162.4" y2="1035.8" stroke="#000" stroke-width="2.2"/><line x1="224.3" y1="1030.3" x2="224.3" y2="1035.8" stroke="#000" stroke-width="2.2"/><line x1="286.2" y1="1030.3" x2="286.2" y2="1035.8" stroke="#000" stroke-width="2.2"/><line x1="348.1" y1="1030.3" x2="348.1" y2="1035.8" stroke="#000" stroke-width="2.2"/><line x1="410" y1="1030.3" x2="410" y2="1035.8" stroke="#000" stroke-width="2.2"/><line x1="193.3" y1="1030.3" x2="193.3" y2="1033.8" stroke="#000" stroke-width="1.8"/><line x1="255.2" y1="1030.3" x2="255.2" y2="1033.8" stroke="#000" stroke-width="1.8"/><line x1="317.1" y1="1030.3" x2="317.1" y2="1033.8" stroke="#000" stroke-width="1.8"/><line x1="379" y1="1030.3" x2="379" y2="1033.8" stroke="#000" stroke-width="1.8"/><line x1="440.9" y1="1030.3" x2="440.9" y2="1033.8" stroke="#000" stroke-width="1.8"/><text x="120.6" y="1034.4" font-size="14" text-anchor="end" font-weight="bold" fill="#1a1a1a" >0</text><text x="120.6" y="912.8" font-size="14" text-anchor="end" font-weight="bold" fill="#1a1a1a" >50</text><text x="120.6" y="791.2" font-size="14" text-anchor="end" font-weight="bold" fill="#1a1a1a" >100</text><text x="162.4" y="1055.5" font-size="15.5" text-anchor="middle" font-weight="bold" fill="#1a1a1a" >C</text><text x="224.3" y="1055.5" font-size="15.5" text-anchor="middle" font-weight="bold" fill="#1a1a1a" >H</text><text x="286.2" y="1055.5" font-size="15.5" text-anchor="middle" font-weight="bold" fill="#1a1a1a" >O</text><text x="348.1" y="1055.5" font-size="15.5" text-anchor="middle" font-weight="bold" fill="#1a1a1a" >N</text><text x="410" y="1055.5" font-size="15.5" text-anchor="middle" font-weight="bold" fill="#1a1a1a" >S</text><text x="301" y="1083" font-size="19.2" text-anchor="middle" font-weight="bold" fill="#1a1a1a" textLength="69.7" lengthAdjust="spacing">Element</text><text transform="translate(91.5,908.2) rotate(-90)" font-size="20.5" font-weight="bold" text-anchor="middle" fill="#1a1a1a" textLength="62" lengthAdjust="spacing">wt (%)</text><rect x="390" y="780.5" width="34.4" height="17.2" fill="#9ACEEA"/><rect x="390" y="801" width="34.4" height="17.4" fill="#F9AB6B"/><text x="427.8" y="794.8" font-size="15.5" text-anchor="start" font-weight="bold" fill="#1a1a1a" >RC</text><text x="427.8" y="815.5" font-size="15.5" text-anchor="start" font-weight="bold" fill="#1a1a1a" >OMC</text>
<text x="506" y="775" font-size="35" text-anchor="start" font-weight="bold" fill="#1a1a1a" >(f)</text><path d="M586.8 771.8 L587.5 772.1 L588.1 772 L588.7 771.9 L589.4 771.7 L590 772.1 L590.6 772.1 L591.2 771.8 L591.9 771.8 L592.5 771.6 L593.1 771.4 L593.8 771.6 L594.4 771.8 L595 771.4 L595.6 771.9 L596.3 771.4 L596.9 771.4 L597.5 771.3 L598.1 771.9 L598.8 771.7 L599.4 771.8 L600 771.7 L600.7 771.3 L601.3 771.6 L601.9 771.8 L602.5 771.6 L603.2 772.3 L603.8 771.9 L604.4 771.9 L605.1 772.4 L605.7 772 L606.3 772.6 L606.9 772.4 L607.6 772.5 L608.2 772.5 L608.8 772.6 L609.5 772.5 L610.1 772.5 L610.7 773.1 L611.3 772.8 L612 773.2 L612.6 773 L613.2 773.7 L613.8 773.8 L614.5 773.8 L615.1 774 L615.7 774 L616.4 774.2 L617 774 L617.6 774.4 L618.2 774.8 L618.9 774.5 L619.5 775.1 L620.1 775.3 L620.8 775.1 L621.4 775.2 L622 775.4 L622.6 775.5 L623.3 776.1 L623.9 775.8 L624.5 775.7 L625.2 775.8 L625.8 776.3 L626.4 776.6 L627 776.3 L627.7 776.4 L628.3 776.5 L628.9 776.7 L629.5 776.4 L630.2 776.8 L630.8 776.8 L631.4 776.9 L632.1 776.7 L632.7 776.8 L633.3 777 L633.9 777.4 L634.6 777.1 L635.2 777.4 L635.8 777.2 L636.5 777.2 L637.1 777.2 L637.7 777.7 L638.3 777.7 L639 777.5 L639.6 777.7 L640.2 777.8 L640.9 777.9 L641.5 778 L642.1 777.6 L642.7 778.1 L643.4 778.1 L644 777.8 L644.6 778.1 L645.2 777.8 L645.9 777.8 L646.5 777.7 L647.1 778.2 L647.8 777.7 L648.4 777.7 L649 778.2 L649.6 778.2 L650.3 778 L650.9 778.2 L651.5 777.7 L652.2 777.8 L652.8 777.9 L653.4 777.9 L654 777.8 L654.7 777.7 L655.3 777.9 L655.9 778.3 L656.6 778.3 L657.2 778.2 L657.8 778 L658.4 777.8 L659.1 778.3 L659.7 778 L660.3 778.2 L660.9 777.7 L661.6 777.8 L662.2 778.2 L662.8 778.2 L663.5 778.3 L664.1 778.2 L664.7 778.1 L665.3 778.2 L666 778.5 L666.6 778.1 L667.2 778.3 L667.9 778.2 L668.5 778.6 L669.1 778.1 L669.7 778.6 L670.4 778.8 L671 778.3 L671.6 779.5 L672.3 780 L672.9 779.3 L673.5 778.6 L674.1 778.5 L674.8 778.7 L675.4 779.2 L676 779.3 L676.6 778.9 L677.3 779 L677.9 779.1 L678.5 779.2 L679.2 779.6 L679.8 779.5 L680.4 780.2 L681 780.3 L681.7 780.9 L682.3 781.9 L682.9 781 L683.6 780.3 L684.2 779.4 L684.8 778.8 L685.4 778.7 L686.1 778.8 L686.7 778.9 L687.3 778.7 L688 778.3 L688.6 778.7 L689.2 778.7 L689.8 778.6 L690.5 778.5 L691.1 777.9 L691.7 778.2 L692.3 777.8 L693 778.2 L693.6 777.8 L694.2 778.1 L694.9 777.7 L695.5 778 L696.1 777.7 L696.7 777.4 L697.4 777.6 L698 777.5 L698.6 777.9 L699.3 777.4 L699.9 777.5 L700.5 777.5 L701.1 777.7 L701.8 777.1 L702.4 777.4 L703 777.2 L703.7 777.4 L704.3 777.5 L704.9 777 L705.5 777.2 L706.2 777 L706.8 777 L707.4 776.6 L708 777 L708.7 777.1 L709.3 776.6 L709.9 776.5 L710.6 776.9 L711.2 776.2 L711.8 776.1 L712.4 776.1 L713.1 776.5 L713.7 776.4 L714.3 776.1 L715 776.2 L715.6 775.7 L716.2 776.1 L716.8 776.1 L717.5 776.2 L718.1 776.2 L718.7 776.4 L719.4 776.3 L720 776.3 L720.6 776.7 L721.2 776.6 L721.9 777.1 L722.5 777.5 L723.1 778.8 L723.7 779.9 L724.4 781.1 L725 782.5 L725.6 783.9 L726.3 784.7 L726.9 783.2 L727.5 780.9 L728.1 779.4 L728.8 777.9 L729.4 777.7 L730 777.4 L730.7 777 L731.3 776.5 L731.9 776.2 L732.5 775.8 L733.2 775.6 L733.8 775.1 L734.4 775 L735.1 774.5 L735.7 774.9 L736.3 774.4 L736.9 774.4 L737.6 774.5 L738.2 774.4 L738.8 774.3 L739.4 773.5 L740.1 773.6 L740.7 773.5 L741.3 773.4 L742 773.1 L742.6 773.3 L743.2 772.8 L743.8 772.9 L744.5 773.3 L745.1 773.1 L745.7 772.9 L746.4 772.6 L747 773.2 L747.6 773 L748.2 772.6 L748.9 772.7 L749.5 772.9 L750.1 772.9 L750.8 772.6 L751.4 773 L752 772.5 L752.6 772.5 L753.3 772.9 L753.9 772.4 L754.5 772.7 L755.1 772.3 L755.8 772.6 L756.4 772.3 L757 772.4 L757.7 772.8 L758.3 772.4 L758.9 772.4 L759.5 772.5 L760.2 772.3 L760.8 772.2 L761.4 772.3 L762.1 772.2 L762.7 772.2 L763.3 772.7 L763.9 772 L764.6 772.6 L765.2 772.6 L765.8 772.5 L766.5 772 L767.1 772.3 L767.7 771.9 L768.3 772.3 L769 772.4 L769.6 772.1 L770.2 771.9 L770.8 772.2 L771.5 771.9 L772.1 772.1 L772.7 772.1 L773.4 772.4 L774 772.1 L774.6 771.9 L775.2 772.3 L775.9 772.3 L776.5 772.1 L777.1 771.8 L777.8 771.9 L778.4 772 L779 772.1 L779.6 771.8 L780.3 772.2 L780.9 772.3 L781.5 772.3 L782.2 772.3 L782.8 771.7 L783.4 772.1 L784 771.7 L784.7 772.3 L785.3 772.2 L785.9 772.2 L786.5 771.8 L787.2 771.7 L787.8 772.2 L788.4 772.1 L789.1 772.1 L789.7 772 L790.3 772.2 L790.9 771.9 L791.6 771.8 L792.2 771.9 L792.8 771.9 L793.5 772.1 L794.1 772.3 L794.7 771.7 L795.3 771.7 L796 772 L796.6 772.1 L797.2 771.8 L797.9 771.8 L798.5 771.7 L799.1 771.7 L799.7 772 L800.4 772.1 L801 772.2 L801.6 771.9 L802.2 772 L802.9 772.6 L803.5 772.4 L804.1 772.4 L804.8 772.6 L805.4 772.7 L806 772.7 L806.6 772.4 L807.3 773 L807.9 772.7 L808.5 772.6 L809.2 773 L809.8 773.5 L810.4 774 L811 774.1 L811.7 774.8 L812.3 775.9 L812.9 780 L813.6 784.8 L814.2 787.5 L814.8 783.9 L815.4 780.1 L816.1 776.8 L816.7 777.1 L817.3 777 L817.9 776.7 L818.6 776.8 L819.2 776.8 L819.8 776.2 L820.5 776.5 L821.1 776.4 L821.7 776.2 L822.3 775.7 L823 775.9 L823.6 776.1 L824.2 776.1 L824.9 776.2 L825.5 776.1 L826.1 775.8 L826.7 776.3 L827.4 776 L828 776.4 L828.6 776.6 L829.3 777.9 L829.9 778.4 L830.5 779.3 L831.1 780 L831.8 780.9 L832.4 781.3 L833 782 L833.6 783.5 L834.3 784.7 L834.9 785.8 L835.5 786.4 L836.2 786.5 L836.8 786.8 L837.4 787.1 L838 787.5 L838.7 787.7 L839.3 787.5 L839.9 788.1 L840.6 787.9 L841.2 787.9 L841.8 788.6 L842.4 788.5 L843.1 788.8 L843.7 788.7 L844.3 788.7 L845 789.5 L845.6 790.5 L846.2 791.4 L846.8 792.2 L847.5 793 L848.1 793.7 L848.7 794.2 L849.3 795.2 L850 796.3 L850.6 797.6 L851.2 798.6 L851.9 799.9 L852.5 801 L853.1 801.8 L853.7 803.2 L854.4 803.9 L855 804.9 L855.6 805.7 L856.3 806.6 L856.9 806.3 L857.5 805.1 L858.1 804.3 L858.8 803.3 L859.4 803 L860 802.3 L860.7 801.6 L861.3 801.2 L861.9 800 L862.5 799.3 L863.2 799 L863.8 798.4 L864.4 797.4 L865 796.4 L865.7 796 L866.3 795.6 L866.9 794.7 L867.6 793.9 L868.2 793.2 L868.8 792.6 L869.4 792 L870.1 791.5 L870.7 791 L871.3 790.4 L872 789.5 L872.6 788.9 L873.2 788.7 L873.8 788.1 L874.5 787.6 L875.1 786.5 L875.7 786.4 L876.4 785.9 L877 785 L877.6 784.9 L878.2 784.8 L878.9 784.2 L879.5 784.4 L880.1 783.7 L880.7 783.7 L881.4 783.1 L882 782.8 L882.6 782.5 L883.3 782.4 L883.9 782.3 L884.5 781.7 L885.1 781.7 L885.8 781.2 L886.4 781.1 L887 780.6 L887.7 780.3 L888.3 780.1 L888.9 779.8 L889.5 780.1 L890.2 779.7 L890.8 779.3 L891.4 779.7 L892.1 779.3 L892.7 778.7 L893.3 779 L893.9 778.7 L894.6 778.4 L895.2 778.3 L895.8 778.4 L896.4 777.8 L897.1 777.8 L897.7 777.6 L898.3 777.5 L899 778.5 L899.6 779.8 L900.2 780.8 L900.8 781.5 L901.5 781.6 L902.1 781.5 L902.7 782 L903.4 781.6 L904 782.1 L904.6 782.1 L905.2 782 L905.9 782.4 L906.5 782.5 L907.1 782.2 L907.8 782.6 L908.4 782.5 L909 783 L909.6 782.4 L910.3 782.2 L910.9 781.9 L911.5 781.6 L912.1 781.4 L912.8 781.2 L913.4 781.3 L914 781.2 L914.7 780.5 L915.3 780.2 L915.9 780.3 L916.5 779.7 L917.2 779.7 L917.8 779.7 L918.4 779.1 L919.1 779.2 L919.7 778.9 L920.3 780.1 L920.9 782.2 L921.6 785.1 L922.2 789.9 L922.8 795.1 L923.5 792.6 L924.1 788 L924.7 783.8 L925.3 782.8 L926 781.3 L926.6 780.4 L927.2 779.3 L927.8 778.7 L928.5 777.2 L929.1 776.4 L929.7 775.3 L930.4 775.3 L931 775.1 L931.6 774.6 L932.2 774.1 L932.9 773.4" fill="none" stroke="#D4A02E" stroke-width="2.2" stroke-linejoin="round"/><path d="M586.8 810.7 L587.5 810.1 L588.1 810 L588.7 810.7 L589.4 810.1 L590 810 L590.6 810.4 L591.2 810.1 L591.9 810.5 L592.5 810 L593.1 810.5 L593.8 810 L594.4 810.2 L595 810.4 L595.6 810.2 L596.3 810.3 L596.9 810.1 L597.5 809.7 L598.1 810.2 L598.8 810 L599.4 809.8 L600 809.8 L600.7 810.3 L601.3 810.2 L601.9 810.5 L602.5 810.5 L603.2 810.7 L603.8 810.5 L604.4 810.7 L605.1 810.7 L605.7 810.5 L606.3 811.1 L606.9 810.7 L607.6 811.1 L608.2 811.3 L608.8 811.1 L609.5 810.9 L610.1 811.4 L610.7 811.4 L611.3 811.1 L612 811.1 L612.6 811.6 L613.2 811.4 L613.8 812.2 L614.5 812 L615.1 812.2 L615.7 812.3 L616.4 812.6 L617 812.9 L617.6 812.6 L618.2 812.8 L618.9 813.1 L619.5 813.1 L620.1 813.4 L620.8 813.6 L621.4 813.6 L622 814 L622.6 814 L623.3 813.8 L623.9 814.6 L624.5 814.3 L625.2 814.4 L625.8 814.5 L626.4 814.9 L627 815 L627.7 814.8 L628.3 814.8 L628.9 814.7 L629.5 815.3 L630.2 814.9 L630.8 815.2 L631.4 815.1 L632.1 815.2 L632.7 815.3 L633.3 815.2 L633.9 815.2 L634.6 815.6 L635.2 815.9 L635.8 815.9 L636.5 815.6 L637.1 816 L637.7 815.6 L638.3 815.9 L639 816.2 L639.6 816.3 L640.2 816 L640.9 816.3 L641.5 816.1 L642.1 816.1 L642.7 816.2 L643.4 816.5 L644 816.4 L644.6 816.2 L645.2 816.4 L645.9 816.4 L646.5 816.2 L647.1 816.5 L647.8 816.6 L648.4 816.4 L649 816.7 L649.6 816.1 L650.3 816.4 L650.9 816.5 L651.5 816.3 L652.2 816.2 L652.8 816.5 L653.4 816.4 L654 816.2 L654.7 816.1 L655.3 816.7 L655.9 816.3 L656.6 816.1 L657.2 816.2 L657.8 816.2 L658.4 816.7 L659.1 816.2 L659.7 816.2 L660.3 816.1 L660.9 816.4 L661.6 816.2 L662.2 816.3 L662.8 816.6 L663.5 816.8 L664.1 816.7 L664.7 816.2 L665.3 816.5 L666 816.9 L666.6 816.3 L667.2 816.5 L667.9 816.7 L668.5 816.7 L669.1 817 L669.7 817 L670.4 816.8 L671 816.9 L671.6 817.6 L672.3 818.1 L672.9 817.2 L673.5 817 L674.1 816.8 L674.8 817.4 L675.4 817.4 L676 817.1 L676.6 817.5 L677.3 817.7 L677.9 817.5 L678.5 817.9 L679.2 817.7 L679.8 818.4 L680.4 818 L681 818.7 L681.7 819.9 L682.3 820.5 L682.9 819.3 L683.6 818.8 L684.2 817.7 L684.8 817.3 L685.4 817.6 L686.1 817.5 L686.7 816.8 L687.3 817 L688 817.1 L688.6 816.7 L689.2 817.1 L689.8 817.1 L690.5 816.8 L691.1 816.6 L691.7 816.8 L692.3 816.5 L693 816.2 L693.6 816.2 L694.2 816.1 L694.9 816.5 L695.5 816.2 L696.1 816.3 L696.7 816.4 L697.4 816.4 L698 815.8 L698.6 815.9 L699.3 816.2 L699.9 816.1 L700.5 815.8 L701.1 815.9 L701.8 815.5 L702.4 815.5 L703 815.3 L703.7 815.5 L704.3 815.4 L704.9 815.5 L705.5 815.8 L706.2 815.1 L706.8 815.4 L707.4 815.5 L708 815.3 L708.7 815.2 L709.3 815.3 L709.9 814.7 L710.6 815.3 L711.2 815 L711.8 815 L712.4 815 L713.1 814.4 L713.7 814.3 L714.3 814.3 L715 814.5 L715.6 814.8 L716.2 814.7 L716.8 814.5 L717.5 814.7 L718.1 814.9 L718.7 814.7 L719.4 815.2 L720 815.3 L720.6 815.3 L721.2 815.5 L721.9 815.5 L722.5 815.8 L723.1 816.9 L723.7 818.2 L724.4 819.5 L725 820.7 L725.6 822.6 L726.3 822.9 L726.9 821 L727.5 819.4 L728.1 817.5 L728.8 816.3 L729.4 815.8 L730 815.3 L730.7 815.2 L731.3 814.8 L731.9 814.3 L732.5 814.3 L733.2 813.6 L733.8 813.4 L734.4 813.5 L735.1 813.4 L735.7 812.9 L736.3 812.6 L736.9 813.1 L737.6 812.6 L738.2 812.3 L738.8 812.1 L739.4 812.1 L740.1 812 L740.7 811.7 L741.3 811.6 L742 812.1 L742.6 811.8 L743.2 811.2 L743.8 811.4 L744.5 811.6 L745.1 811.3 L745.7 811 L746.4 811.2 L747 811.2 L747.6 811.5 L748.2 811.3 L748.9 811.2 L749.5 811.3 L750.1 810.8 L750.8 811.3 L751.4 811.3 L752 811.2 L752.6 810.9 L753.3 810.9 L753.9 810.7 L754.5 810.7 L755.1 810.7 L755.8 810.9 L756.4 811.1 L757 810.7 L757.7 810.9 L758.3 811 L758.9 810.9 L759.5 810.5 L760.2 811.1 L760.8 810.9 L761.4 810.7 L762.1 810.6 L762.7 810.9 L763.3 811.1 L763.9 810.6 L764.6 810.7 L765.2 810.8 L765.8 810.5 L766.5 810.6 L767.1 811 L767.7 810.7 L768.3 810.9 L769 810.5 L769.6 810.9 L770.2 810.8 L770.8 810.4 L771.5 810.6 L772.1 810.7 L772.7 810.6 L773.4 810.6 L774 810.4 L774.6 810.6 L775.2 810.4 L775.9 810.7 L776.5 810.4 L777.1 810.8 L777.8 810.5 L778.4 810.3 L779 810.4 L779.6 810.2 L780.3 810.6 L780.9 810.1 L781.5 810.5 L782.2 810.3 L782.8 810.6 L783.4 810.1 L784 810.5 L784.7 810.5 L785.3 810.2 L785.9 810.1 L786.5 810.3 L787.2 810.5 L787.8 810.2 L788.4 810.1 L789.1 810.4 L789.7 810.6 L790.3 810.2 L790.9 810.7 L791.6 810.4 L792.2 810.2 L792.8 810.1 L793.5 810.3 L794.1 810.4 L794.7 810.2 L795.3 810.1 L796 810.4 L796.6 810.2 L797.2 810.4 L797.9 810.4 L798.5 810.5 L799.1 810.5 L799.7 810.2 L800.4 810.2 L801 810.7 L801.6 810.2 L802.2 810.4 L802.9 810.4 L803.5 811 L804.1 810.9 L804.8 811.2 L805.4 811.1 L806 810.9 L806.6 811.1 L807.3 811.4 L807.9 811.1 L808.5 811.6 L809.2 811.4 L809.8 811.6 L810.4 812.2 L811 812.7 L811.7 812.8 L812.3 814.6 L812.9 818.9 L813.6 822.9 L814.2 825.9 L814.8 822.1 L815.4 818.4 L816.1 815.1 L816.7 815.6 L817.3 815.4 L817.9 815 L818.6 814.9 L819.2 814.5 L819.8 814.8 L820.5 814.8 L821.1 814.4 L821.7 814.3 L822.3 814.5 L823 814.6 L823.6 814.2 L824.2 814.2 L824.9 814.5 L825.5 814.1 L826.1 814.6 L826.7 814.3 L827.4 814.6 L828 814.5 L828.6 815 L829.3 815.6 L829.9 816.4 L830.5 817.3 L831.1 818.4 L831.8 819.2 L832.4 819.9 L833 820.5 L833.6 822.1 L834.3 823.5 L834.9 824.1 L835.5 824.3 L836.2 825 L836.8 825.3 L837.4 825.6 L838 825.9 L838.7 825.8 L839.3 826.5 L839.9 826.2 L840.6 826.7 L841.2 826.8 L841.8 826.4 L842.4 827.1 L843.1 827.2 L843.7 827.1 L844.3 827.6 L845 828.1 L845.6 828.6 L846.2 829.4 L846.8 830.3 L847.5 831.5 L848.1 832.2 L848.7 832.5 L849.3 833.5 L850 834.5 L850.6 835.8 L851.2 837 L851.9 838.2 L852.5 839.2 L853.1 840.7 L853.7 841.2 L854.4 842.5 L855 843.1 L855.6 843.9 L856.3 845 L856.9 844.3 L857.5 843.4 L858.1 842.5 L858.8 841.9 L859.4 841.1 L860 840.8 L860.7 839.8 L861.3 839.4 L861.9 838.4 L862.5 837.6 L863.2 837.1 L863.8 836.5 L864.4 836.1 L865 834.9 L865.7 834.3 L866.3 833.5 L866.9 832.9 L867.6 832.7 L868.2 832 L868.8 830.8 L869.4 830 L870.1 829.7 L870.7 829.2 L871.3 828.3 L872 827.9 L872.6 827.6 L873.2 826.5 L873.8 826.4 L874.5 825.9 L875.1 825.4 L875.7 824.6 L876.4 824 L877 823.7 L877.6 823.1 L878.2 823.1 L878.9 822.6 L879.5 822.4 L880.1 821.9 L880.7 821.7 L881.4 821.4 L882 821.4 L882.6 820.9 L883.3 820.9 L883.9 820.5 L884.5 820.1 L885.1 819.7 L885.8 819.8 L886.4 819.5 L887 819.2 L887.7 818.9 L888.3 818.8 L888.9 818.2 L889.5 818.2 L890.2 818.4 L890.8 817.9 L891.4 817.5 L892.1 817.5 L892.7 817.7 L893.3 817 L893.9 816.8 L894.6 816.9 L895.2 816.9 L895.8 816.4 L896.4 816.1 L897.1 816.3 L897.7 815.7 L898.3 815.9 L899 817.1 L899.6 818.3 L900.2 819.3 L900.8 819.8 L901.5 819.9 L902.1 820 L902.7 820 L903.4 820.2 L904 820.6 L904.6 820.8 L905.2 820.4 L905.9 820.4 L906.5 821 L907.1 821.2 L907.8 821.2 L908.4 821 L909 821.4 L909.6 821.1 L910.3 820.9 L910.9 820.5 L911.5 820.6 L912.1 820.2 L912.8 819.6 L913.4 819.5 L914 819.1 L914.7 819 L915.3 819.1 L915.9 818.6 L916.5 818.4 L917.2 818.4 L917.8 817.7 L918.4 817.6 L919.1 817.5 L919.7 817.2 L920.3 818.9 L920.9 821.1 L921.6 823.6 L922.2 828.6 L922.8 833.8 L923.5 830.9 L924.1 826.5 L924.7 822.3 L925.3 821.2 L926 819.9 L926.6 818.9 L927.2 818 L927.8 816.7 L928.5 816 L929.1 814.8 L929.7 814.4 L930.4 813.8 L931 813.3 L931.6 812.8 L932.2 812.1 L932.9 812.2" fill="none" stroke="#B575E0" stroke-width="2.2" stroke-linejoin="round"/><path d="M586.8 848.5 L587.5 848.5 L588.1 848.4 L588.7 847.8 L589.4 848.2 L590 848 L590.6 848.1 L591.2 847.8 L591.9 847.8 L592.5 847.9 L593.1 847.8 L593.8 847.9 L594.4 847.6 L595 847.6 L595.6 848 L596.3 847.8 L596.9 847.8 L597.5 847.9 L598.1 847.7 L598.8 847.4 L599.4 847.9 L600 847.9 L600.7 848 L601.3 848 L601.9 848.4 L602.5 848 L603.2 848.3 L603.8 848.1 L604.4 848.4 L605.1 848.5 L605.7 848.3 L606.3 848.2 L606.9 848.6 L607.6 848.8 L608.2 848.8 L608.8 848.8 L609.5 849 L610.1 848.7 L610.7 848.8 L611.3 849 L612 849.4 L612.6 849.1 L613.2 849.2 L613.8 849.4 L614.5 849.5 L615.1 849.8 L615.7 850.1 L616.4 850.4 L617 850.2 L617.6 850.4 L618.2 850.5 L618.9 850.7 L619.5 851.1 L620.1 851.1 L620.8 851.1 L621.4 851.1 L622 851.7 L622.6 851.8 L623.3 852 L623.9 851.8 L624.5 852.1 L625.2 852.5 L625.8 852.3 L626.4 852.6 L627 852.2 L627.7 852.8 L628.3 852.2 L628.9 852.5 L629.5 852.3 L630.2 853 L630.8 853 L631.4 853.2 L632.1 853.2 L632.7 853.4 L633.3 853.1 L633.9 853.5 L634.6 853.4 L635.2 853.2 L635.8 853.7 L636.5 853.4 L637.1 853.3 L637.7 853.3 L638.3 853.6 L639 853.4 L639.6 853.9 L640.2 854 L640.9 853.5 L641.5 853.4 L642.1 853.8 L642.7 853.5 L643.4 853.8 L644 854 L644.6 853.7 L645.2 853.8 L645.9 854.2 L646.5 853.9 L647.1 853.8 L647.8 854.2 L648.4 854.2 L649 854.3 L649.6 854.2 L650.3 854 L650.9 854.2 L651.5 854.3 L652.2 854.1 L652.8 853.8 L653.4 853.9 L654 854 L654.7 854.2 L655.3 854.1 L655.9 854.1 L656.6 854.2 L657.2 853.7 L657.8 854.1 L658.4 853.9 L659.1 854.1 L659.7 854.3 L660.3 853.8 L660.9 854.3 L661.6 853.7 L662.2 854.1 L662.8 854.1 L663.5 853.9 L664.1 854.2 L664.7 854.1 L665.3 854.2 L666 854.4 L666.6 853.9 L667.2 854.2 L667.9 854.5 L668.5 854.1 L669.1 854.7 L669.7 854.2 L670.4 854.6 L671 854.4 L671.6 855.3 L672.3 855.8 L672.9 854.8 L673.5 854.7 L674.1 854.6 L674.8 854.9 L675.4 854.9 L676 855.1 L676.6 855.2 L677.3 855.1 L677.9 855.7 L678.5 855.2 L679.2 855.9 L679.8 856 L680.4 855.9 L681 856.3 L681.7 857.2 L682.3 857.8 L682.9 856.9 L683.6 856.2 L684.2 855.5 L684.8 854.8 L685.4 855.2 L686.1 854.7 L686.7 854.7 L687.3 854.6 L688 854.9 L688.6 854.5 L689.2 854.5 L689.8 854.3 L690.5 854.2 L691.1 854 L691.7 854 L692.3 854 L693 854.3 L693.6 854 L694.2 853.7 L694.9 853.9 L695.5 853.6 L696.1 853.9 L696.7 853.7 L697.4 854 L698 853.5 L698.6 853.9 L699.3 853.4 L699.9 853.9 L700.5 853.6 L701.1 853.1 L701.8 853.6 L702.4 853.2 L703 853.2 L703.7 853 L704.3 853.4 L704.9 852.9 L705.5 853.3 L706.2 853 L706.8 853.1 L707.4 852.8 L708 852.6 L708.7 853.1 L709.3 852.8 L709.9 852.4 L710.6 852.9 L711.2 852.8 L711.8 852.3 L712.4 852.1 L713.1 852.4 L713.7 852.1 L714.3 852.4 L715 852.2 L715.6 852.3 L716.2 852.1 L716.8 852.4 L717.5 852.5 L718.1 852.5 L718.7 852.6 L719.4 852.5 L720 852.4 L720.6 852.5 L721.2 853.1 L721.9 852.8 L722.5 853.3 L723.1 854.5 L723.7 856 L724.4 857.2 L725 858.7 L725.6 859.7 L726.3 860.4 L726.9 858.9 L727.5 857.2 L728.1 855.7 L728.8 853.8 L729.4 853.9 L730 853.6 L730.7 853.2 L731.3 852.2 L731.9 852 L732.5 852 L733.2 851.6 L733.8 850.8 L734.4 850.9 L735.1 851 L735.7 850.9 L736.3 850.6 L736.9 850.3 L737.6 850.3 L738.2 849.9 L738.8 850 L739.4 849.9 L740.1 850.1 L740.7 849.8 L741.3 849.6 L742 849.3 L742.6 849.3 L743.2 849.4 L743.8 849.1 L744.5 848.9 L745.1 849.3 L745.7 849.1 L746.4 849.4 L747 849.1 L747.6 849.1 L748.2 848.9 L748.9 849 L749.5 849.2 L750.1 849.3 L750.8 849 L751.4 848.8 L752 848.5 L752.6 849.1 L753.3 848.7 L753.9 848.7 L754.5 848.4 L755.1 848.4 L755.8 848.6 L756.4 849 L757 848.8 L757.7 848.8 L758.3 848.8 L758.9 848.5 L759.5 848.4 L760.2 848.7 L760.8 848.3 L761.4 848.6 L762.1 848.6 L762.7 848.6 L763.3 848.3 L763.9 848.2 L764.6 848.5 L765.2 848.3 L765.8 848.6 L766.5 848.4 L767.1 848.6 L767.7 848.6 L768.3 848.5 L769 848.5 L769.6 848.2 L770.2 848.3 L770.8 848.7 L771.5 848.2 L772.1 848.2 L772.7 848.4 L773.4 848.4 L774 848.5 L774.6 848.2 L775.2 848.6 L775.9 848 L776.5 848.5 L777.1 848.3 L777.8 848.6 L778.4 848 L779 848.4 L779.6 848.5 L780.3 848.3 L780.9 847.9 L781.5 848.5 L782.2 848.5 L782.8 847.9 L783.4 848.4 L784 847.9 L784.7 847.9 L785.3 848.4 L785.9 848.4 L786.5 848.5 L787.2 848.3 L787.8 848.2 L788.4 848 L789.1 848.3 L789.7 848.5 L790.3 848.3 L790.9 848.5 L791.6 848 L792.2 848.4 L792.8 848.4 L793.5 847.9 L794.1 848.4 L794.7 848 L795.3 848 L796 847.9 L796.6 848.3 L797.2 847.9 L797.9 848.5 L798.5 847.9 L799.1 848.4 L799.7 848.4 L800.4 848.3 L801 848.3 L801.6 848.6 L802.2 848.5 L802.9 848.2 L803.5 848.8 L804.1 848.5 L804.8 848.8 L805.4 848.8 L806 849.1 L806.6 848.8 L807.3 849.2 L807.9 848.8 L808.5 849 L809.2 849.4 L809.8 849.7 L810.4 850.3 L811 850.2 L811.7 851 L812.3 852.2 L812.9 855.9 L813.6 860.1 L814.2 863.1 L814.8 859.8 L815.4 856 L816.1 853 L816.7 852.9 L817.3 853 L817.9 852.7 L818.6 852.6 L819.2 852.6 L819.8 852.7 L820.5 852.5 L821.1 852.4 L821.7 851.9 L822.3 852.2 L823 852.3 L823.6 852.2 L824.2 852.4 L824.9 852.4 L825.5 851.8 L826.1 852.1 L826.7 852 L827.4 851.9 L828 852.2 L828.6 853.2 L829.3 853.8 L829.9 854 L830.5 854.9 L831.1 855.7 L831.8 856.8 L832.4 857.3 L833 857.9 L833.6 859.5 L834.3 860.6 L834.9 861.2 L835.5 862 L836.2 862.7 L836.8 863 L837.4 863.3 L838 863 L838.7 863.5 L839.3 863.6 L839.9 863.8 L840.6 863.7 L841.2 863.6 L841.8 864.3 L842.4 864 L843.1 864.4 L843.7 864.4 L844.3 864.8 L845 865.3 L845.6 865.9 L846.2 866.9 L846.8 867.6 L847.5 868.6 L848.1 869.1 L848.7 870 L849.3 870.6 L850 872 L850.6 872.8 L851.2 874.4 L851.9 875.6 L852.5 876.1 L853.1 877.7 L853.7 878.5 L854.4 879.3 L855 879.7 L855.6 880.9 L856.3 881.8 L856.9 881.2 L857.5 880.7 L858.1 879.9 L858.8 879 L859.4 878.4 L860 877.2 L860.7 876.7 L861.3 876.2 L861.9 875.6 L862.5 875.2 L863.2 874.3 L863.8 873.7 L864.4 873 L865 872.5 L865.7 871.5 L866.3 871 L866.9 870.3 L867.6 869.4 L868.2 868.7 L868.8 867.9 L869.4 867.1 L870.1 866.8 L870.7 866.2 L871.3 865.5 L872 865.3 L872.6 864.6 L873.2 864.5 L873.8 863.8 L874.5 863.2 L875.1 862.8 L875.7 861.8 L876.4 861.1 L877 861.2 L877.6 860.6 L878.2 860.9 L878.9 860.2 L879.5 860.2 L880.1 859.5 L880.7 859.1 L881.4 859.2 L882 859 L882.6 858.4 L883.3 858.6 L883.9 858.4 L884.5 857.9 L885.1 857.8 L885.8 857.5 L886.4 856.7 L887 856.8 L887.7 856.6 L888.3 856.4 L888.9 856 L889.5 855.9 L890.2 855.8 L890.8 855.8 L891.4 855.1 L892.1 855.1 L892.7 854.9 L893.3 855 L893.9 854.4 L894.6 854.2 L895.2 854 L895.8 853.8 L896.4 853.9 L897.1 854 L897.7 853.5 L898.3 853.4 L899 854.8 L899.6 855.5 L900.2 856.7 L900.8 857.6 L901.5 857.5 L902.1 857.8 L902.7 857.8 L903.4 858.1 L904 858.1 L904.6 858.3 L905.2 858.3 L905.9 858 L906.5 858.3 L907.1 858.6 L907.8 858.7 L908.4 858.7 L909 858.9 L909.6 858.7 L910.3 858.3 L910.9 858.1 L911.5 857.5 L912.1 857.5 L912.8 857.5 L913.4 857.4 L914 857.1 L914.7 856.6 L915.3 856.2 L915.9 856.5 L916.5 856.1 L917.2 855.5 L917.8 855.2 L918.4 855.6 L919.1 855.1 L919.7 854.6 L920.3 856.7 L920.9 858.3 L921.6 861 L922.2 866 L922.8 870.6 L923.5 868.1 L924.1 863.3 L924.7 859.7 L925.3 858.5 L926 857.7 L926.6 856.2 L927.2 855.2 L927.8 854.3 L928.5 853 L929.1 852.2 L929.7 852.1 L930.4 851.6 L931 850.8 L931.6 850.8 L932.2 850 L932.9 849.6" fill="none" stroke="#45C070" stroke-width="2.2" stroke-linejoin="round"/><path d="M586.8 885.6 L587.5 885.7 L588.1 885.2 L588.7 885.8 L589.4 885.2 L590 885.5 L590.6 885.1 L591.2 885.5 L591.9 885.1 L592.5 885.4 L593.1 885.4 L593.8 885.4 L594.4 885.2 L595 885.4 L595.6 885.5 L596.3 884.9 L596.9 885.1 L597.5 885.4 L598.1 885.2 L598.8 885 L599.4 884.9 L600 885.4 L600.7 884.9 L601.3 885.4 L601.9 885.6 L602.5 885.2 L603.2 885.3 L603.8 885.4 L604.4 885.6 L605.1 885.6 L605.7 886 L606.3 886.1 L606.9 885.8 L607.6 886.2 L608.2 885.7 L608.8 885.8 L609.5 886.3 L610.1 886.5 L610.7 886.5 L611.3 886.7 L612 886.7 L612.6 886.5 L613.2 886.9 L613.8 887.2 L614.5 886.8 L615.1 887.2 L615.7 887.1 L616.4 887.2 L617 887.6 L617.6 887.9 L618.2 888.2 L618.9 887.8 L619.5 888.2 L620.1 888.7 L620.8 888.7 L621.4 888.6 L622 888.6 L622.6 889 L623.3 888.9 L623.9 889.3 L624.5 889.4 L625.2 889.3 L625.8 889.7 L626.4 889.5 L627 889.6 L627.7 889.9 L628.3 889.6 L628.9 889.6 L629.5 889.9 L630.2 889.9 L630.8 890.3 L631.4 889.9 L632.1 890.1 L632.7 889.9 L633.3 890.3 L633.9 890.3 L634.6 890.4 L635.2 890.7 L635.8 890.3 L636.5 891 L637.1 890.9 L637.7 891 L638.3 890.8 L639 890.9 L639.6 890.8 L640.2 890.8 L640.9 890.7 L641.5 890.8 L642.1 890.8 L642.7 890.8 L643.4 891.3 L644 891.2 L644.6 891.1 L645.2 890.7 L645.9 890.9 L646.5 891.1 L647.1 891.2 L647.8 891.1 L648.4 891.3 L649 891.5 L649.6 891 L650.3 891.1 L650.9 891.4 L651.5 891.1 L652.2 891.4 L652.8 891.1 L653.4 890.9 L654 891.2 L654.7 890.9 L655.3 891.4 L655.9 891.4 L656.6 891.2 L657.2 891.5 L657.8 891 L658.4 891.2 L659.1 891 L659.7 890.9 L660.3 891.4 L660.9 890.9 L661.6 891.5 L662.2 891.2 L662.8 891.4 L663.5 891 L664.1 891.6 L664.7 891.5 L665.3 891.1 L666 891.2 L666.6 891.2 L667.2 891.5 L667.9 891.2 L668.5 891.8 L669.1 891.6 L669.7 891.8 L670.4 891.5 L671 891.9 L671.6 892.5 L672.3 893.1 L672.9 892.2 L673.5 892 L674.1 892.1 L674.8 892.2 L675.4 891.9 L676 892 L676.6 892 L677.3 892.2 L677.9 892.9 L678.5 892.5 L679.2 893 L679.8 892.7 L680.4 893.1 L681 893.1 L681.7 894.1 L682.3 895 L682.9 894.2 L683.6 893.7 L684.2 892.5 L684.8 892 L685.4 891.8 L686.1 891.8 L686.7 892.3 L687.3 891.9 L688 891.8 L688.6 891.6 L689.2 891.8 L689.8 891.7 L690.5 891.3 L691.1 891.1 L691.7 891.2 L692.3 891.5 L693 891.4 L693.6 891 L694.2 891 L694.9 891 L695.5 891.2 L696.1 891.2 L696.7 890.8 L697.4 890.8 L698 890.7 L698.6 891.1 L699.3 890.8 L699.9 891 L700.5 890.5 L701.1 890.7 L701.8 890.6 L702.4 890.8 L703 890.4 L703.7 890.2 L704.3 890.6 L704.9 890.7 L705.5 890.3 L706.2 890.1 L706.8 889.9 L707.4 890.1 L708 890.4 L708.7 889.9 L709.3 889.9 L709.9 889.9 L710.6 889.6 L711.2 889.5 L711.8 889.7 L712.4 890 L713.1 889.8 L713.7 889.4 L714.3 889.7 L715 889.6 L715.6 889.4 L716.2 889.2 L716.8 889.2 L717.5 889.7 L718.1 889.7 L718.7 889.5 L719.4 889.5 L720 889.6 L720.6 890.2 L721.2 890.3 L721.9 890.2 L722.5 890.6 L723.1 891.9 L723.7 892.8 L724.4 894.3 L725 895.5 L725.6 897.1 L726.3 897.3 L726.9 896.1 L727.5 893.9 L728.1 892.6 L728.8 891.4 L729.4 890.5 L730 890.4 L730.7 889.7 L731.3 889.7 L731.9 889.3 L732.5 889.3 L733.2 888.6 L733.8 888.6 L734.4 888.4 L735.1 888.3 L735.7 887.9 L736.3 887.6 L736.9 887.8 L737.6 887.3 L738.2 887.6 L738.8 887.2 L739.4 887.3 L740.1 887.3 L740.7 887.3 L741.3 886.7 L742 886.6 L742.6 886.6 L743.2 886.9 L743.8 886.3 L744.5 886.4 L745.1 886.3 L745.7 886.1 L746.4 886.4 L747 886.2 L747.6 886.3 L748.2 886.4 L748.9 886.4 L749.5 886.1 L750.1 886.3 L750.8 886.2 L751.4 886.3 L752 885.8 L752.6 886 L753.3 886.2 L753.9 886.1 L754.5 886 L755.1 886 L755.8 886.1 L756.4 886.1 L757 886.2 L757.7 886.1 L758.3 886.2 L758.9 886 L759.5 885.7 L760.2 885.8 L760.8 886.1 L761.4 886.1 L762.1 885.9 L762.7 885.6 L763.3 885.6 L763.9 885.9 L764.6 885.8 L765.2 885.6 L765.8 886.1 L766.5 885.6 L767.1 886.1 L767.7 885.8 L768.3 886.1 L769 885.9 L769.6 885.5 L770.2 885.5 L770.8 886 L771.5 885.6 L772.1 885.7 L772.7 885.8 L773.4 885.7 L774 885.8 L774.6 885.6 L775.2 885.5 L775.9 885.8 L776.5 885.3 L777.1 885.7 L777.8 885.8 L778.4 885.3 L779 885.2 L779.6 885.8 L780.3 885.3 L780.9 885.5 L781.5 885.4 L782.2 885.2 L782.8 885.3 L783.4 885.2 L784 885.7 L784.7 885.7 L785.3 885.7 L785.9 885.3 L786.5 885.4 L787.2 885.2 L787.8 885.7 L788.4 885.8 L789.1 885.8 L789.7 885.7 L790.3 885.6 L790.9 885.5 L791.6 885.2 L792.2 885.2 L792.8 885.6 L793.5 885.8 L794.1 885.8 L794.7 885.4 L795.3 885.5 L796 885.8 L796.6 885.3 L797.2 885.7 L797.9 885.6 L798.5 885.5 L799.1 885.4 L799.7 885.3 L800.4 885.3 L801 885.4 L801.6 886 L802.2 885.9 L802.9 885.4 L803.5 886 L804.1 885.7 L804.8 886 L805.4 886.4 L806 886.4 L806.6 886.5 L807.3 886.6 L807.9 886.4 L808.5 886.1 L809.2 886.4 L809.8 887 L810.4 887.4 L811 888 L811.7 887.8 L812.3 889.4 L812.9 893.3 L813.6 897.5 L814.2 899.7 L814.8 896.4 L815.4 893 L816.1 890.4 L816.7 890.2 L817.3 890.1 L817.9 890.1 L818.6 889.7 L819.2 889.6 L819.8 889.9 L820.5 889.6 L821.1 889.4 L821.7 889.6 L822.3 889.6 L823 889.5 L823.6 889.6 L824.2 889.2 L824.9 889.6 L825.5 889.4 L826.1 889.2 L826.7 889.2 L827.4 889 L828 889.7 L828.6 890.4 L829.3 890.7 L829.9 891.8 L830.5 892 L831.1 892.9 L831.8 894 L832.4 894.5 L833 895 L833.6 896.6 L834.3 897.5 L834.9 898.7 L835.5 899 L836.2 899.5 L836.8 899.9 L837.4 899.9 L838 900.5 L838.7 900.6 L839.3 900.8 L839.9 900.4 L840.6 900.6 L841.2 901 L841.8 901.3 L842.4 901.2 L843.1 901.1 L843.7 901.3 L844.3 901.4 L845 902.3 L845.6 903.4 L846.2 903.9 L846.8 904.3 L847.5 905.6 L848.1 906.3 L848.7 906.7 L849.3 907.2 L850 908.8 L850.6 909.7 L851.2 910.6 L851.9 912.3 L852.5 913 L853.1 913.9 L853.7 914.8 L854.4 916.1 L855 916.5 L855.6 917.4 L856.3 918 L856.9 917.5 L857.5 916.8 L858.1 916 L858.8 915.5 L859.4 914.8 L860 914.3 L860.7 913.8 L861.3 913.2 L861.9 912 L862.5 911.7 L863.2 910.8 L863.8 910.2 L864.4 909.6 L865 908.9 L865.7 908.6 L866.3 907.6 L866.9 906.8 L867.6 906.4 L868.2 905.5 L868.8 905.3 L869.4 904.1 L870.1 903.6 L870.7 903 L871.3 902.6 L872 902.4 L872.6 901.4 L873.2 901.2 L873.8 900.9 L874.5 899.9 L875.1 899.7 L875.7 899.1 L876.4 898.8 L877 898.4 L877.6 897.9 L878.2 897.5 L878.9 897.2 L879.5 896.8 L880.1 896.4 L880.7 896.6 L881.4 896.1 L882 895.7 L882.6 895.7 L883.3 895.2 L883.9 895.2 L884.5 895.2 L885.1 894.5 L885.8 894 L886.4 893.8 L887 893.6 L887.7 893.8 L888.3 893.7 L888.9 893.3 L889.5 893 L890.2 892.6 L890.8 892.9 L891.4 892.2 L892.1 892.2 L892.7 892.3 L893.3 892.1 L893.9 891.6 L894.6 892 L895.2 891.6 L895.8 891.4 L896.4 890.9 L897.1 891.2 L897.7 890.4 L898.3 890.9 L899 891.5 L899.6 893 L900.2 893.8 L900.8 894.6 L901.5 894.5 L902.1 894.9 L902.7 894.5 L903.4 894.7 L904 894.7 L904.6 895.2 L905.2 894.9 L905.9 894.9 L906.5 895.6 L907.1 895.3 L907.8 895.5 L908.4 895.9 L909 895.7 L909.6 895.8 L910.3 895.7 L910.9 894.8 L911.5 894.7 L912.1 894.3 L912.8 894.3 L913.4 894.3 L914 894.3 L914.7 894 L915.3 893.7 L915.9 893.1 L916.5 893.4 L917.2 892.8 L917.8 892.9 L918.4 892.2 L919.1 892.6 L919.7 891.9 L920.3 893.3 L920.9 895.6 L921.6 898 L922.2 902.7 L922.8 907.6 L923.5 905.2 L924.1 900.4 L924.7 896.7 L925.3 895.7 L926 894.6 L926.6 893.5 L927.2 892.4 L927.8 891.8 L928.5 890.6 L929.1 889.3 L929.7 888.8 L930.4 888.5 L931 888.3 L931.6 887.8 L932.2 887.6 L932.9 887.2" fill="none" stroke="#3D6BCB" stroke-width="2.2" stroke-linejoin="round"/><path d="M586.8 922.7 L587.5 923.1 L588.1 923 L588.7 922.5 L589.4 923 L590 922.8 L590.6 922.3 L591.2 923 L591.9 922.4 L592.5 922.5 L593.1 922.5 L593.8 922.6 L594.4 922.3 L595 922.6 L595.6 922.7 L596.3 922.5 L596.9 922.6 L597.5 922.5 L598.1 922.6 L598.8 922.1 L599.4 922.3 L600 922.4 L600.7 922.2 L601.3 922.9 L601.9 922.7 L602.5 922.4 L603.2 922.8 L603.8 922.8 L604.4 922.7 L605.1 922.7 L605.7 923 L606.3 922.8 L606.9 923.2 L607.6 923.3 L608.2 923.1 L608.8 923.7 L609.5 923.1 L610.1 923.3 L610.7 923.8 L611.3 923.5 L612 923.7 L612.6 923.9 L613.2 924 L613.8 924.2 L614.5 924.3 L615.1 924.4 L615.7 924.3 L616.4 924.9 L617 924.7 L617.6 924.7 L618.2 925.1 L618.9 925.5 L619.5 925.5 L620.1 925.5 L620.8 925.7 L621.4 925.6 L622 926 L622.6 926 L623.3 925.9 L623.9 926.1 L624.5 926.2 L625.2 926.7 L625.8 926.9 L626.4 926.9 L627 926.6 L627.7 926.6 L628.3 927.2 L628.9 926.9 L629.5 926.8 L630.2 927.2 L630.8 927.3 L631.4 927.3 L632.1 927.3 L632.7 927.3 L633.3 927.5 L633.9 927.5 L634.6 927.7 L635.2 927.6 L635.8 927.6 L636.5 928.1 L637.1 927.6 L637.7 928.1 L638.3 927.9 L639 928.1 L639.6 928.1 L640.2 928 L640.9 928.1 L641.5 927.8 L642.1 927.7 L642.7 928.2 L643.4 927.9 L644 927.8 L644.6 928.4 L645.2 928.2 L645.9 927.9 L646.5 928.2 L647.1 928 L647.8 928.5 L648.4 928.1 L649 928.6 L649.6 928.4 L650.3 928 L650.9 928.3 L651.5 928.6 L652.2 928.5 L652.8 928.1 L653.4 928.2 L654 928.2 L654.7 928 L655.3 928.4 L655.9 928.5 L656.6 928.1 L657.2 928.4 L657.8 928.6 L658.4 928.6 L659.1 928.1 L659.7 928 L660.3 928.6 L660.9 928.2 L661.6 928.1 L662.2 928.5 L662.8 928.2 L663.5 928.5 L664.1 928.6 L664.7 928.3 L665.3 928.5 L666 928.4 L666.6 928.8 L667.2 928.4 L667.9 928.5 L668.5 928.9 L669.1 928.5 L669.7 928.7 L670.4 928.8 L671 928.6 L671.6 929.5 L672.3 930.2 L672.9 929.7 L673.5 928.7 L674.1 928.9 L674.8 928.7 L675.4 929.1 L676 929.2 L676.6 929.4 L677.3 929.4 L677.9 929.5 L678.5 930 L679.2 930 L679.8 929.9 L680.4 929.8 L681 930 L681.7 931 L682.3 931.6 L682.9 931.2 L683.6 930.5 L684.2 929.5 L684.8 929.5 L685.4 929.3 L686.1 929.2 L686.7 929.3 L687.3 928.8 L688 929.2 L688.6 929.2 L689.2 929.1 L689.8 928.4 L690.5 928.9 L691.1 928.9 L691.7 928.2 L692.3 928.7 L693 928.6 L693.6 928 L694.2 928.4 L694.9 928.4 L695.5 928.3 L696.1 927.8 L696.7 928.4 L697.4 927.7 L698 927.7 L698.6 928.3 L699.3 927.9 L699.9 927.6 L700.5 927.7 L701.1 927.8 L701.8 927.6 L702.4 928 L703 927.7 L703.7 927.5 L704.3 927.4 L704.9 927.2 L705.5 927.8 L706.2 927.3 L706.8 927.6 L707.4 927.3 L708 927.2 L708.7 926.9 L709.3 927.1 L709.9 926.8 L710.6 926.9 L711.2 927 L711.8 927.2 L712.4 926.6 L713.1 926.5 L713.7 926.9 L714.3 926.4 L715 926.4 L715.6 926.5 L716.2 926.4 L716.8 926.9 L717.5 926.4 L718.1 927 L718.7 926.8 L719.4 926.7 L720 926.9 L720.6 927.4 L721.2 927 L721.9 927.3 L722.5 927.3 L723.1 928.9 L723.7 930.2 L724.4 931.5 L725 932.4 L725.6 933.7 L726.3 934.7 L726.9 933.1 L727.5 931.2 L728.1 929.3 L728.8 928.6 L729.4 927.8 L730 927.5 L730.7 926.9 L731.3 926.5 L731.9 926.3 L732.5 926.2 L733.2 925.7 L733.8 925.7 L734.4 925.2 L735.1 925.4 L735.7 924.9 L736.3 925 L736.9 925.3 L737.6 924.7 L738.2 924.6 L738.8 924.3 L739.4 924.8 L740.1 924.4 L740.7 924.1 L741.3 924.2 L742 923.9 L742.6 924.2 L743.2 923.8 L743.8 923.4 L744.5 923.5 L745.1 923.4 L745.7 923.8 L746.4 923.3 L747 923.6 L747.6 923.6 L748.2 923.3 L748.9 923.6 L749.5 923.6 L750.1 923.8 L750.8 923.8 L751.4 923.8 L752 923.4 L752.6 923.4 L753.3 923.3 L753.9 923.1 L754.5 923.4 L755.1 923.7 L755.8 923.3 L756.4 923.5 L757 923.1 L757.7 923.1 L758.3 923.2 L758.9 923.5 L759.5 923.1 L760.2 923.4 L760.8 922.9 L761.4 923.3 L762.1 923.1 L762.7 923.5 L763.3 922.8 L763.9 923 L764.6 923.4 L765.2 923.1 L765.8 922.9 L766.5 923.3 L767.1 923 L767.7 923.3 L768.3 923.1 L769 922.7 L769.6 922.7 L770.2 923.3 L770.8 923.3 L771.5 922.7 L772.1 923.3 L772.7 923.2 L773.4 923 L774 923.1 L774.6 922.9 L775.2 922.6 L775.9 922.8 L776.5 922.8 L777.1 923.2 L777.8 922.7 L778.4 923 L779 922.9 L779.6 922.6 L780.3 922.8 L780.9 922.8 L781.5 923 L782.2 922.7 L782.8 923.1 L783.4 923 L784 922.5 L784.7 923.1 L785.3 922.9 L785.9 923.1 L786.5 922.6 L787.2 923 L787.8 923 L788.4 922.7 L789.1 922.7 L789.7 922.9 L790.3 923.1 L790.9 922.9 L791.6 922.9 L792.2 922.9 L792.8 923 L793.5 922.9 L794.1 922.9 L794.7 922.5 L795.3 923.1 L796 923.1 L796.6 922.9 L797.2 922.9 L797.9 923.1 L798.5 922.8 L799.1 923.1 L799.7 922.8 L800.4 922.9 L801 923.2 L801.6 923.2 L802.2 923.1 L802.9 923.1 L803.5 923.2 L804.1 923.2 L804.8 923.2 L805.4 923.1 L806 923.3 L806.6 923.3 L807.3 923.8 L807.9 923.5 L808.5 923.9 L809.2 923.8 L809.8 924.5 L810.4 924.6 L811 924.8 L811.7 925.2 L812.3 926.2 L812.9 930.2 L813.6 934.2 L814.2 936.7 L814.8 933.4 L815.4 929.8 L816.1 927.7 L816.7 927.5 L817.3 927.1 L817.9 927.3 L818.6 926.7 L819.2 927 L819.8 926.8 L820.5 926.9 L821.1 926.9 L821.7 926.6 L822.3 926.7 L823 926.6 L823.6 926.2 L824.2 926.2 L824.9 926.2 L825.5 926.7 L826.1 926.5 L826.7 926.4 L827.4 926.5 L828 926.9 L828.6 927.2 L829.3 928.1 L829.9 928.5 L830.5 929.4 L831.1 930.2 L831.8 930.5 L832.4 931.7 L833 932 L833.6 933.2 L834.3 935.1 L834.9 935.3 L835.5 935.8 L836.2 936.6 L836.8 936.4 L837.4 937.1 L838 937.3 L838.7 936.9 L839.3 937.1 L839.9 937.8 L840.6 937.8 L841.2 937.8 L841.8 937.9 L842.4 937.9 L843.1 938.3 L843.7 937.8 L844.3 938.2 L845 939 L845.6 939.9 L846.2 940.8 L846.8 941.1 L847.5 941.7 L848.1 942.5 L848.7 943.6 L849.3 944.3 L850 945 L850.6 946.5 L851.2 947.3 L851.9 948.2 L852.5 949.4 L853.1 950.8 L853.7 951.7 L854.4 952 L855 953.1 L855.6 954 L856.3 954.2 L856.9 953.8 L857.5 953.2 L858.1 952.5 L858.8 952 L859.4 951.5 L860 950.4 L860.7 949.8 L861.3 949.4 L861.9 948.9 L862.5 947.9 L863.2 947.6 L863.8 947 L864.4 946.4 L865 945.5 L865.7 944.8 L866.3 944.3 L866.9 943.6 L867.6 943 L868.2 942.6 L868.8 942 L869.4 941.4 L870.1 940.3 L870.7 940.1 L871.3 939.6 L872 939 L872.6 938.3 L873.2 937.8 L873.8 937.3 L874.5 936.7 L875.1 936.4 L875.7 936.1 L876.4 935.4 L877 934.8 L877.6 934.6 L878.2 934.4 L878.9 934.5 L879.5 933.6 L880.1 933.4 L880.7 933.7 L881.4 933.1 L882 932.7 L882.6 932.7 L883.3 932.1 L883.9 932.3 L884.5 932.1 L885.1 931.3 L885.8 931.4 L886.4 931.4 L887 930.7 L887.7 930.5 L888.3 930.7 L888.9 929.9 L889.5 929.8 L890.2 930 L890.8 930 L891.4 929.6 L892.1 929.6 L892.7 929.2 L893.3 929.4 L893.9 928.8 L894.6 928.8 L895.2 928.4 L895.8 928.3 L896.4 928.3 L897.1 927.8 L897.7 928.1 L898.3 927.8 L899 929.1 L899.6 929.6 L900.2 930.9 L900.8 931.6 L901.5 931.5 L902.1 931.9 L902.7 932 L903.4 931.9 L904 932 L904.6 932 L905.2 932.4 L905.9 932 L906.5 932.1 L907.1 932.5 L907.8 932.2 L908.4 932.9 L909 933 L909.6 932.3 L910.3 932.1 L910.9 932.4 L911.5 931.6 L912.1 931.7 L912.8 931.2 L913.4 931.6 L914 931 L914.7 930.9 L915.3 930.4 L915.9 930.6 L916.5 930.3 L917.2 929.6 L917.8 929.4 L918.4 929.4 L919.1 929.2 L919.7 928.8 L920.3 930.6 L920.9 932 L921.6 934.8 L922.2 939.7 L922.8 944.1 L923.5 941.5 L924.1 937.6 L924.7 933.8 L925.3 932.8 L926 931.4 L926.6 930.5 L927.2 929.6 L927.8 928.7 L928.5 927.9 L929.1 927 L929.7 926.2 L930.4 925.5 L931 925.1 L931.6 925 L932.2 925 L932.9 924" fill="none" stroke="#E84646" stroke-width="2.2" stroke-linejoin="round"/><path d="M586.8 964.5 L588 965.4 L589.2 966.4 L590.4 967.5 L591.6 967.7 L592.8 968.5 L594 969.4 L595.2 970.8 L596.4 970.9 L597.6 972.3 L598.8 973 L600 973.2 L601.2 974.3 L602.4 975 L603.6 975.6 L604.8 976.8 L606 976.5 L607.2 976.9 L608.4 978.3 L609.6 978.3 L610.8 978.6 L612 979.2 L613.2 979.7 L614.4 980.7 L615.6 980.4 L616.8 980.8 L618 981.6 L619.2 982 L620.4 982.7 L621.6 983 L622.8 982.8 L624 983 L625.2 983.9 L626.4 984.3 L627.6 983.6 L628.8 984.6 L630 984.9 L631.2 984.9 L632.4 984.6 L633.6 985.3 L634.8 985.3 L636 984.8 L637.2 985.3 L638.4 984.8 L639.6 984.6 L640.8 984.8 L642 984.7 L643.2 984.7 L644.4 984.8 L645.6 984.8 L646.8 984.7 L648 984.5 L649.2 984.4 L650.4 983.9 L651.6 983.2 L652.8 982.8 L654 983 L655.2 982.7 L656.4 982.6 L657.6 981.8 L658.8 981.6 L660 982.1 L661.2 981.6 L662.4 981.4 L663.6 980.6 L664.8 980.6 L666 980.9 L667.2 980.4 L668.4 980.4 L669.6 979.4 L670.8 979.4 L672 979.4 L673.2 978.8 L674.4 978.8 L675.6 978.3 L676.8 977.5 L678 977.2 L679.2 977.7 L680.4 976.5 L681.6 976.3 L682.8 976.1 L684 976.1 L685.2 975.9 L686.4 975.2 L687.6 974.8 L688.8 974.7 L690 973.8 L691.2 973.5 L692.4 973.2 L693.6 972.7 L694.8 971.6 L696 971.2 L697.2 970.7 L698.4 970.7 L699.6 970.2 L700.8 969.9 L702 969.2 L703.2 968.3 L704.4 968.3 L705.6 968.1 L706.8 967.1 L708 966.5 L709.2 966.6 L710.4 966.3 L711.6 966.2 L712.8 966.3 L714 966.7 L715.2 967.8 L716.4 967.4 L717.6 968.4 L718.8 968.3 L720 968.5 L721.2 969.1 L722.4 968.6 L723.6 968.5 L724.8 968.8 L726 969 L727.2 968.8 L728.4 969 L729.6 968.5 L730.8 968.5 L732 968.6 L733.2 968.3 L734.4 968.5 L735.6 968.1 L736.8 967.7 L738 967.7 L739.2 968.3 L740.4 968.2 L741.6 968.4 L742.8 968.2 L744 968.4 L745.2 968.3 L746.4 969.3 L747.6 968.9 L748.8 969.4 L750 969.1 L751.2 969.1 L752.4 968.6 L753.6 968.3 L754.8 968.1 L756 967.4 L757.2 966.5 L758.4 966.4 L759.6 965.7 L760.8 965.2 L762 963.7 L763.2 963.7 L764.4 963.3 L765.6 962.1 L766.8 961.5 L768 961.6 L769.2 960.7 L770.4 960.4 L771.6 960.5 L772.8 959.8 L774 959.4 L775.2 959.3 L776.4 959.3 L777.6 959.5 L778.8 959.1 L780 959.4 L781.2 958.6 L782.4 958.8 L783.6 959.1 L784.8 959 L786 959 L787.2 959.5 L788.4 958.9 L789.6 958.8 L790.8 958.7 L792 959.3 L793.2 959.2 L794.4 959.5 L795.6 959.1 L796.8 959.2 L798 959.8 L799.2 960.3 L800.4 960 L801.6 960.8 L802.8 960.7 L804 960.9 L805.2 962 L806.4 962.2 L807.6 963.5 L808.8 964.6 L810 965.1 L811.2 965.8 L812.4 966.7 L813.6 968.2 L814.8 968.7 L816 969.2 L817.2 969.4 L818.4 969.8 L819.6 969.4 L820.8 969 L822 969.1 L823.2 968.3 L824.4 968.1 L825.6 968.2 L826.8 968 L828 967.6 L829.2 967.9 L830.4 968.5 L831.6 968.2 L832.8 968.9 L834 968.6 L835.2 969.9 L836.4 970 L837.6 970.2 L838.8 971.4 L840 971.9 L841.2 971.9 L842.4 972.9 L843.6 974.3 L844.8 976.4 L846 977.4 L847.2 979.4 L848.4 981.5 L849.6 982.8 L850.8 984.1 L852 984.1 L853.2 982.8 L854.4 981 L855.6 979.8 L856.8 980.6 L858 981.3 L859.2 982.8 L860.4 984 L861.6 984.4 L862.8 983.8 L864 982.4 L865.2 980.7 L866.4 978.5 L867.6 976.6 L868.8 975.1 L870 974.8 L871.2 973.2 L872.4 972.9 L873.6 972.4 L874.8 971 L876 970.3 L877.2 969.6 L878.4 969.4 L879.6 968.4 L880.8 967.9 L882 966.4 L883.2 966.4 L884.4 965.5 L885.6 964.8 L886.8 964.6 L888 964 L889.2 963.6 L890.4 962.9 L891.6 962.6 L892.8 961.6 L894 961.3 L895.2 961.2 L896.4 961 L897.6 961 L898.8 961.9 L900 962.6 L901.2 962.9 L902.4 962.2 L903.6 962.4 L904.8 962.1 L906 962 L907.2 962.4 L908.4 961.6 L909.6 961.3 L910.8 961 L912 961 L913.2 961.2 L914.4 960.9 L915.6 960.9 L916.8 961.4 L918 962.4 L919.2 964.8 L920.4 966.9 L921.6 973.3 L922.8 976.8 L924 975.4 L925.2 969.3 L926.4 965.7 L927.6 964.5 L928.8 964.1 L930 964.6 L931.2 966 L932.4 966.4 L933.2 966.6" fill="none" stroke="#545454" stroke-width="2.2" stroke-linejoin="round"/><rect x="621.5" y="752" width="23.4" height="271" fill="#F2A8CF" opacity="0.42"/><rect x="711.9" y="752" width="22.7" height="271" fill="#F2A8CF" opacity="0.42"/><rect x="800.8" y="752" width="23" height="271" fill="#F2A8CF" opacity="0.42"/><rect x="845.4" y="752" width="23" height="271" fill="#F2A8CF" opacity="0.42"/><rect x="892.7" y="752" width="12.7" height="271" fill="#F2A8CF" opacity="0.42"/><rect x="918.4" y="752" width="8.1" height="271" fill="#F2A8CF" opacity="0.42"/><line x1="633.5" y1="759" x2="633.5" y2="1016" stroke="#222" stroke-width="1.3" stroke-dasharray="5 3.5"/><polygon points="630.9,762 633.5,753 636.1,762" fill="#222"/><line x1="726.3" y1="759" x2="726.3" y2="1016" stroke="#222" stroke-width="1.3" stroke-dasharray="5 3.5"/><polygon points="723.7,1013 726.3,1022 728.9,1013" fill="#222"/><line x1="814.3" y1="759" x2="814.3" y2="1016" stroke="#222" stroke-width="1.3" stroke-dasharray="5 3.5"/><polygon points="811.7,1013 814.3,1022 816.9,1013" fill="#222"/><line x1="857" y1="759" x2="857" y2="1016" stroke="#222" stroke-width="1.3" stroke-dasharray="5 3.5"/><polygon points="854.4,1013 857,1022 859.6,1013" fill="#222"/><line x1="900.8" y1="759" x2="900.8" y2="1016" stroke="#222" stroke-width="1.3" stroke-dasharray="5 3.5"/><polygon points="898.2,762 900.8,753 903.4,762" fill="#222"/><line x1="923" y1="759" x2="923" y2="1016" stroke="#222" stroke-width="1.3" stroke-dasharray="5 3.5"/><polygon points="920.4,1013 923,1022 925.6,1013" fill="#222"/><rect x="586.8" y="751" width="346.4" height="273" fill="none" stroke="#000" stroke-width="2.6"/><line x1="593" y1="1024" x2="593" y2="1028.5" stroke="#000" stroke-width="2"/><line x1="655.8" y1="1024" x2="655.8" y2="1028.5" stroke="#000" stroke-width="2"/><line x1="718.6" y1="1024" x2="718.6" y2="1028.5" stroke="#000" stroke-width="2"/><line x1="781.4" y1="1024" x2="781.4" y2="1028.5" stroke="#000" stroke-width="2"/><line x1="844.2" y1="1024" x2="844.2" y2="1028.5" stroke="#000" stroke-width="2"/><line x1="907" y1="1024" x2="907" y2="1028.5" stroke="#000" stroke-width="2"/><line x1="624.4" y1="1024" x2="624.4" y2="1027" stroke="#000" stroke-width="1.6"/><line x1="687.2" y1="1024" x2="687.2" y2="1027" stroke="#000" stroke-width="1.6"/><line x1="750" y1="1024" x2="750" y2="1027" stroke="#000" stroke-width="1.6"/><line x1="812.8" y1="1024" x2="812.8" y2="1027" stroke="#000" stroke-width="1.6"/><line x1="875.6" y1="1024" x2="875.6" y2="1027" stroke="#000" stroke-width="1.6"/><line x1="922.7" y1="1024" x2="922.7" y2="1027" stroke="#000" stroke-width="1.6"/><text x="593" y="1044.2" font-size="13" text-anchor="middle" font-weight="bold" fill="#1a1a1a" >3500</text><text x="655.8" y="1044.2" font-size="13" text-anchor="middle" font-weight="bold" fill="#1a1a1a" >3000</text><text x="718.6" y="1044.2" font-size="13" text-anchor="middle" font-weight="bold" fill="#1a1a1a" >2500</text><text x="781.4" y="1044.2" font-size="13" text-anchor="middle" font-weight="bold" fill="#1a1a1a" >2000</text><text x="844.2" y="1044.2" font-size="13" text-anchor="middle" font-weight="bold" fill="#1a1a1a" >1500</text><text x="907" y="1044.2" font-size="13" text-anchor="middle" font-weight="bold" fill="#1a1a1a" >1000</text><text x="760" y="1078.7" font-size="17.5" font-weight="bold" text-anchor="middle" fill="#1a1a1a" textLength="143" lengthAdjust="spacing">Wavenumber (cm<tspan font-size="10" dy="-6">-1</tspan><tspan dy="6">)</tspan></text><text transform="translate(571,887.7) rotate(-90)" font-size="18" font-weight="bold" text-anchor="middle" fill="#1a1a1a" textLength="148" lengthAdjust="spacing">Transmittance (%)</text><text x="771" y="768" font-size="15.5" text-anchor="middle" font-weight="bold" fill="#1a1a1a" >400°C</text><text x="771" y="801.8" font-size="15.5" text-anchor="middle" font-weight="bold" fill="#1a1a1a" >300°C</text><text x="771" y="836.9" font-size="15.5" text-anchor="middle" font-weight="bold" fill="#1a1a1a" >200°C</text><text x="771" y="874" font-size="15.5" text-anchor="middle" font-weight="bold" fill="#1a1a1a" >100°C</text><text x="771" y="911.2" font-size="15.5" text-anchor="middle" font-weight="bold" fill="#1a1a1a" >50°C</text><text x="771" y="953.1" font-size="15.5" text-anchor="middle" font-weight="bold" fill="#1a1a1a" >25°C</text><text x="646" y="1009" font-size="15" text-anchor="start" font-weight="bold" fill="#1a1a1a" >-OH</text><text x="743.5" y="1007" font-size="15" font-weight="bold" fill="#1a1a1a">CO<tspan font-size="10" dy="4">2</tspan></text><text x="781.9" y="1000.4" font-size="15" text-anchor="start" font-weight="bold" fill="#1a1a1a" >C=O</text><text x="840" y="1002.3" font-size="15" text-anchor="start" font-weight="bold" fill="#1a1a1a" >C=C</text><text x="899.5" y="991.5" font-size="15" text-anchor="start" font-weight="bold" fill="#1a1a1a" >=C-H</text><text x="875" y="1017.4" font-size="15" text-anchor="start" font-weight="bold" fill="#1a1a1a" >Ar-O-C</text>
<text x="957" y="775.5" font-size="35" text-anchor="start" font-weight="bold" fill="#1a1a1a" >(g)</text><line x1="1012.5" y1="786" x2="1190" y2="756.5" stroke="#dedede" stroke-width="0.9"/><line x1="1014" y1="823.4" x2="1190" y2="794.6" stroke="#dedede" stroke-width="0.9"/><line x1="1017" y1="858.4" x2="1190" y2="829.6" stroke="#dedede" stroke-width="0.9"/><line x1="1018.7" y1="892.7" x2="1190" y2="865.5" stroke="#dedede" stroke-width="0.9"/><line x1="1073.2" y1="755.7" x2="1077" y2="950" stroke="#dedede" stroke-width="0.9"/><line x1="1132.3" y1="746.3" x2="1135" y2="940" stroke="#dedede" stroke-width="0.9"/><line x1="1204" y1="756" x2="1334" y2="821" stroke="#dedede" stroke-width="0.9"/><line x1="1204" y1="780" x2="1333" y2="853" stroke="#dedede" stroke-width="0.9"/><line x1="1204" y1="806" x2="1332" y2="889" stroke="#dedede" stroke-width="0.9"/><line x1="1204" y1="835" x2="1331" y2="921" stroke="#dedede" stroke-width="0.9"/><line x1="1227" y1="749" x2="1227" y2="925" stroke="#dedede" stroke-width="0.9"/><line x1="1251.6" y1="760" x2="1250" y2="935" stroke="#dedede" stroke-width="0.9"/><line x1="1277.4" y1="771" x2="1275" y2="945" stroke="#dedede" stroke-width="0.9"/><line x1="1305.6" y1="784" x2="1303" y2="960" stroke="#dedede" stroke-width="0.9"/><line x1="1040" y1="977" x2="1205" y2="925" stroke="#e6e6e6" stroke-width="0.8"/><line x1="1060" y1="998" x2="1250" y2="940" stroke="#e6e6e6" stroke-width="0.8"/><line x1="1080" y1="1020" x2="1285" y2="955" stroke="#e6e6e6" stroke-width="0.8"/><line x1="1186" y1="1041" x2="1130" y2="985" stroke="#e6e6e6" stroke-width="0.8"/><line x1="1246" y1="1022" x2="1180" y2="960" stroke="#e6e6e6" stroke-width="0.8"/><line x1="1304" y1="1004" x2="1250" y2="945" stroke="#e6e6e6" stroke-width="0.8"/><polyline points="1022,957 1010,768 1191,739 1191,912" fill="none" stroke="#a8a8a8" stroke-width="1"/><polyline points="1204,912 1204,739 1335,797 1319,997" fill="none" stroke="#a8a8a8" stroke-width="1"/><line x1="1022" y1="957" x2="1199" y2="912" stroke="#d0d0d0" stroke-width="0.9"/><line x1="1199" y1="912" x2="1319" y2="997" stroke="#d0d0d0" stroke-width="0.9"/><polygon points="1290,842 1292.6,842.6 1319.6,860 1317,905 1315,950 1319.6,964.5 1300.5,948 1294,946 1283,932 1282,890" fill="url(#gRP)"/><g clip-path="url(#cpPL)"><rect x="1100" y="760" width="250" height="240" fill="#8010c0"/><polygon points="1117.5,871.9 1157.5,900 1165.5,905.6 1173.5,911.2 1181.5,916.8 1189.5,922.7 1197.5,928.9 1205.5,935.4 1213.5,942.1 1221.5,948.8 1229.5,955.5 1237.5,962.1 1245.5,968.4 1253.5,974.3 1261.5,979.3 1267.4,983 1307.4,1008.1 1307.4,600 1117.5,600" fill="#7e11bf"/><polygon points="1117.5,871.1 1157.5,898.2 1165.5,903.6 1173.5,909 1181.5,914.4 1189.5,920.1 1197.5,926.3 1205.5,932.7 1213.5,939.3 1221.5,945.9 1229.5,952.6 1237.5,959.1 1245.5,965.5 1253.5,971.3 1261.5,976.3 1267.4,980 1307.4,1005.2 1307.4,600 1117.5,600" fill="#7b12be"/><polygon points="1117.5,870.2 1157.5,896.4 1165.5,901.6 1173.5,906.8 1181.5,912 1189.5,917.6 1197.5,923.6 1205.5,929.9 1213.5,936.5 1221.5,943.1 1229.5,949.7 1237.5,956.2 1245.5,962.5 1253.5,968.2 1261.5,973.3 1267.4,977 1307.4,1002.2 1307.4,600 1117.5,600" fill="#7713bc"/><polygon points="1117.5,869.4 1157.5,894.6 1165.5,899.6 1173.5,904.6 1181.5,909.6 1189.5,915 1197.5,921 1205.5,927.2 1213.5,933.6 1221.5,940.2 1229.5,946.7 1237.5,953.2 1245.5,959.5 1253.5,965.2 1261.5,970.3 1267.4,974 1307.4,999.3 1307.4,600 1117.5,600" fill="#7314ba"/><polygon points="1117.5,868.6 1157.5,892.8 1165.5,897.6 1173.5,902.4 1181.5,907.2 1189.5,912.5 1197.5,918.3 1205.5,924.5 1213.5,930.8 1221.5,937.3 1229.5,943.8 1237.5,950.3 1245.5,956.5 1253.5,962.2 1261.5,967.3 1267.4,971 1307.4,996.3 1307.4,600 1117.5,600" fill="#7015b9"/><polygon points="1117.5,867.8 1157.5,891 1165.5,895.6 1173.5,900.2 1181.5,904.8 1189.5,909.9 1197.5,915.6 1205.5,921.7 1213.5,928 1221.5,934.5 1229.5,940.9 1237.5,947.3 1245.5,953.5 1253.5,959.2 1261.5,964.3 1267.4,968 1307.4,993.3 1307.4,600 1117.5,600" fill="#6a16b6"/><polygon points="1117.5,867.5 1157.5,890.2 1165.5,894.7 1173.5,899.2 1181.5,903.7 1189.5,908.7 1197.5,914.4 1205.5,920.4 1213.5,926.6 1221.5,933 1229.5,939.4 1237.5,945.7 1245.5,951.9 1253.5,957.6 1261.5,962.8 1267.4,966.6 1307.4,992.5 1307.4,600 1117.5,600" fill="#6319b3"/><polygon points="1117.5,867.1 1157.5,889.4 1165.5,893.9 1173.5,898.2 1181.5,902.7 1189.5,907.6 1197.5,913.1 1205.5,919.1 1213.5,925.2 1221.5,931.6 1229.5,937.9 1237.5,944.2 1245.5,950.3 1253.5,956 1261.5,961.3 1267.4,965.2 1307.4,991.6 1307.4,600 1117.5,600" fill="#5c1bb0"/><polygon points="1117.5,866.8 1157.5,888.6 1165.5,893 1173.5,897.2 1181.5,901.6 1189.5,906.4 1197.5,911.9 1205.5,917.8 1213.5,923.9 1221.5,930.1 1229.5,936.4 1237.5,942.6 1245.5,948.7 1253.5,954.5 1261.5,959.8 1267.4,963.8 1307.4,990.7 1307.4,600 1117.5,600" fill="#551dad"/><polygon points="1117.5,866.5 1157.5,887.8 1165.5,892.1 1173.5,896.2 1181.5,900.5 1189.5,905.2 1197.5,910.7 1205.5,916.4 1213.5,922.5 1221.5,928.6 1229.5,934.9 1237.5,941.1 1245.5,947.1 1253.5,952.9 1261.5,958.4 1267.4,962.4 1307.4,989.8 1307.4,600 1117.5,600" fill="#4e1faa"/><polygon points="1117.5,866.2 1157.5,887 1165.5,891.2 1173.5,895.2 1181.5,899.4 1189.5,904.1 1197.5,909.4 1205.5,915.1 1213.5,921.1 1221.5,927.2 1229.5,933.4 1237.5,939.5 1245.5,945.5 1253.5,951.3 1261.5,956.9 1267.4,961 1307.4,988.9 1307.4,600 1117.5,600" fill="#4822a7"/><polygon points="1117.5,865.7 1157.5,886 1165.5,890.1 1173.5,894 1181.5,898.1 1189.5,902.7 1197.5,908 1205.5,913.7 1213.5,919.6 1221.5,925.8 1229.5,931.9 1237.5,938.1 1245.5,944.1 1253.5,949.9 1261.5,955.5 1267.4,959.6 1307.4,987.5 1307.4,600 1117.5,600" fill="#4525a5"/><polygon points="1117.5,865.2 1157.5,885 1165.5,889 1173.5,892.8 1181.5,896.8 1189.5,901.3 1197.5,906.6 1205.5,912.3 1213.5,918.2 1221.5,924.3 1229.5,930.5 1237.5,936.7 1245.5,942.7 1253.5,948.5 1261.5,954.1 1267.4,958.2 1307.4,986.1 1307.4,600 1117.5,600" fill="#4129a3"/><polygon points="1117.5,864.7 1157.5,884 1165.5,887.9 1173.5,891.6 1181.5,895.5 1189.5,899.9 1197.5,905.2 1205.5,910.8 1213.5,916.8 1221.5,922.9 1229.5,929.1 1237.5,935.3 1245.5,941.3 1253.5,947.1 1261.5,952.7 1267.4,956.8 1307.4,984.7 1307.4,600 1117.5,600" fill="#3d2da2"/><polygon points="1117.5,864.2 1157.5,883 1165.5,886.8 1173.5,890.4 1181.5,894.1 1189.5,898.5 1197.5,903.7 1205.5,909.4 1213.5,915.3 1221.5,921.5 1229.5,927.7 1237.5,933.9 1245.5,939.9 1253.5,945.7 1261.5,951.3 1267.4,955.4 1307.4,983.3 1307.4,600 1117.5,600" fill="#3c36a4"/><polygon points="1117.5,863.7 1157.5,882 1165.5,885.7 1173.5,889.1 1181.5,892.8 1189.5,897.1 1197.5,902.3 1205.5,908 1213.5,913.9 1221.5,920 1229.5,926.3 1237.5,932.5 1245.5,938.5 1253.5,944.3 1261.5,949.9 1267.4,954 1307.4,981.9 1307.4,600 1117.5,600" fill="#4761bd"/><polygon points="1117.5,862.3 1157.5,880.6 1165.5,884.3 1173.5,887.7 1181.5,891.4 1189.5,895.7 1197.5,900.9 1205.5,906.6 1213.5,912.5 1221.5,918.6 1229.5,924.9 1237.5,931.1 1245.5,937.1 1253.5,942.9 1261.5,948.5 1267.4,952.6 1307.4,980.5 1307.4,600 1117.5,600" fill="#5284d1"/><polygon points="1117.5,860.9 1157.5,879.2 1165.5,882.9 1173.5,886.3 1181.5,890 1189.5,894.3 1197.5,899.5 1205.5,905.2 1213.5,911.1 1221.5,917.2 1229.5,923.5 1237.5,929.7 1245.5,935.7 1253.5,941.5 1261.5,947.1 1267.4,951.2 1307.4,979.1 1307.4,600 1117.5,600" fill="#5a97d8"/><polygon points="1117.5,859.5 1157.5,877.8 1165.5,881.5 1173.5,884.9 1181.5,888.6 1189.5,892.9 1197.5,898.1 1205.5,903.8 1213.5,909.7 1221.5,915.8 1229.5,922.1 1237.5,928.3 1245.5,934.3 1253.5,940.1 1261.5,945.7 1267.4,949.8 1307.4,977.7 1307.4,600 1117.5,600" fill="#63abde"/><polygon points="1117.5,858.1 1157.5,876.4 1165.5,880.1 1173.5,883.5 1181.5,887.2 1189.5,891.5 1197.5,896.7 1205.5,902.4 1213.5,908.3 1221.5,914.4 1229.5,920.7 1237.5,926.9 1245.5,932.9 1253.5,938.7 1261.5,944.3 1267.4,948.4 1307.4,976.3 1307.4,600 1117.5,600" fill="#6cbee5"/><polygon points="1117.5,856.7 1157.5,875 1165.5,878.7 1173.5,882.1 1181.5,885.8 1189.5,890.1 1197.5,895.3 1205.5,901 1213.5,906.9 1221.5,913 1229.5,919.3 1237.5,925.5 1245.5,931.5 1253.5,937.3 1261.5,942.9 1267.4,947 1307.4,974.9 1307.4,600 1117.5,600" fill="#74cae4"/><polygon points="1117.5,856.2 1157.5,874 1165.5,877.6 1173.5,880.9 1181.5,884.5 1189.5,888.8 1197.5,893.9 1205.5,899.6 1213.5,905.6 1221.5,911.8 1229.5,918.1 1237.5,924.4 1245.5,930.5 1253.5,936.4 1261.5,942.2 1267.4,946.4 1307.4,975.2 1307.4,600 1117.5,600" fill="#7dcedd"/><polygon points="1117.5,855.8 1157.5,873 1165.5,876.4 1173.5,879.7 1181.5,883.2 1189.5,887.4 1197.5,892.5 1205.5,898.2 1213.5,904.3 1221.5,910.5 1229.5,916.9 1237.5,923.3 1245.5,929.5 1253.5,935.5 1261.5,941.4 1267.4,945.8 1307.4,975.4 1307.4,600 1117.5,600" fill="#86d3d6"/><polygon points="1117.5,855.3 1157.5,872 1165.5,875.3 1173.5,878.5 1181.5,881.8 1189.5,886 1197.5,891.1 1205.5,896.8 1213.5,902.9 1221.5,909.3 1229.5,915.7 1237.5,922.2 1245.5,928.5 1253.5,934.6 1261.5,940.7 1267.4,945.2 1307.4,975.7 1307.4,600 1117.5,600" fill="#8ed7cf"/><polygon points="1117.5,854.8 1157.5,871 1165.5,874.2 1173.5,877.2 1181.5,880.5 1189.5,884.6 1197.5,889.7 1205.5,895.5 1213.5,901.6 1221.5,908 1229.5,914.5 1237.5,921 1245.5,927.4 1253.5,933.7 1261.5,940 1267.4,944.6 1307.4,976 1307.4,600 1117.5,600" fill="#97dbc8"/><polygon points="1117.5,854.4 1157.5,870 1165.5,873.1 1173.5,876 1181.5,879.2 1189.5,883.2 1197.5,888.3 1205.5,894.1 1213.5,900.3 1221.5,906.7 1229.5,913.3 1237.5,919.9 1245.5,926.4 1253.5,932.8 1261.5,939.2 1267.4,944 1307.4,976.3 1307.4,600 1117.5,600" fill="#91d89d"/><polygon points="1117.5,853.5 1157.5,868.4 1165.5,871.4 1173.5,874.1 1181.5,877.1 1189.5,881 1197.5,886.1 1205.5,891.9 1213.5,898 1221.5,904.5 1229.5,911.1 1237.5,917.7 1245.5,924.2 1253.5,930.5 1261.5,936.9 1267.4,941.6 1307.4,973.4 1307.4,600 1117.5,600" fill="#59b818"/><polygon points="1117.5,852.7 1157.5,866.8 1165.5,869.6 1173.5,872.2 1181.5,875 1189.5,878.8 1197.5,883.9 1205.5,889.6 1213.5,895.8 1221.5,902.3 1229.5,908.9 1237.5,915.6 1245.5,922 1253.5,928.3 1261.5,934.6 1267.4,939.2 1307.4,970.6 1307.4,600 1117.5,600" fill="#64ba1a"/><polygon points="1117.5,851.9 1157.5,865.2 1165.5,867.9 1173.5,870.3 1181.5,873 1189.5,876.6 1197.5,881.7 1205.5,887.4 1213.5,893.6 1221.5,900.1 1229.5,906.7 1237.5,913.4 1245.5,919.8 1253.5,926.1 1261.5,932.2 1267.4,936.8 1307.4,967.7 1307.4,600 1117.5,600" fill="#6fbd1d"/><polygon points="1117.5,851 1157.5,863.6 1165.5,866.1 1173.5,868.3 1181.5,870.9 1189.5,874.5 1197.5,879.4 1205.5,885.1 1213.5,891.3 1221.5,897.8 1229.5,904.5 1237.5,911.2 1245.5,917.6 1253.5,923.8 1261.5,929.9 1267.4,934.4 1307.4,964.8 1307.4,600 1117.5,600" fill="#7abf1f"/><polygon points="1117.5,850.2 1157.5,862 1165.5,864.4 1173.5,866.4 1181.5,868.8 1189.5,872.3 1197.5,877.2 1205.5,882.9 1213.5,889.1 1221.5,895.6 1229.5,902.3 1237.5,909 1245.5,915.4 1253.5,921.6 1261.5,927.6 1267.4,932 1307.4,962 1307.4,600 1117.5,600" fill="#87c220"/><polygon points="1117.5,846.4 1157.5,858.8 1165.5,861.3 1173.5,863.4 1181.5,866 1189.5,869.5 1197.5,874.4 1205.5,880.1 1213.5,886.2 1221.5,892.7 1229.5,899.3 1237.5,905.9 1245.5,912.3 1253.5,918.3 1261.5,924 1267.4,928.2 1307.4,956.8 1307.4,600 1117.5,600" fill="#96c720"/><polygon points="1117.5,842.7 1157.5,855.6 1165.5,858.2 1173.5,860.5 1181.5,863.1 1189.5,866.7 1197.5,871.6 1205.5,877.2 1213.5,883.4 1221.5,889.8 1229.5,896.3 1237.5,902.8 1245.5,909.1 1253.5,914.9 1261.5,920.4 1267.4,924.4 1307.4,951.7 1307.4,600 1117.5,600" fill="#a4cc20"/><polygon points="1117.5,839 1157.5,852.4 1165.5,855.1 1173.5,857.5 1181.5,860.2 1189.5,863.9 1197.5,868.8 1205.5,874.4 1213.5,880.5 1221.5,886.9 1229.5,893.3 1237.5,899.8 1245.5,905.9 1253.5,911.6 1261.5,916.8 1267.4,920.6 1307.4,946.5 1307.4,600 1117.5,600" fill="#b2d120"/><polygon points="1117.5,835.2 1157.5,849.2 1165.5,852 1173.5,854.5 1181.5,857.4 1189.5,861.1 1197.5,866 1205.5,871.6 1213.5,877.6 1221.5,883.9 1229.5,890.3 1237.5,896.7 1245.5,902.7 1253.5,908.3 1261.5,913.2 1267.4,916.8 1307.4,941.4 1307.4,600 1117.5,600" fill="#c1d620"/><polygon points="1117.5,831.5 1157.5,846 1165.5,848.9 1173.5,851.6 1181.5,854.5 1189.5,858.3 1197.5,863.2 1205.5,868.8 1213.5,874.8 1221.5,881 1229.5,887.4 1237.5,893.6 1245.5,899.6 1253.5,904.9 1261.5,909.6 1267.4,913 1307.4,936.2 1307.4,600 1117.5,600" fill="#ccd922"/><polygon points="1117.5,830.2 1157.5,844 1165.5,846.8 1173.5,849.3 1181.5,852.1 1189.5,855.7 1197.5,860.5 1205.5,866 1213.5,871.9 1221.5,878.1 1229.5,884.4 1237.5,890.6 1245.5,896.6 1253.5,902 1261.5,906.8 1267.4,910.4 1307.4,934.6 1307.4,600 1117.5,600" fill="#d4da25"/><polygon points="1117.5,828.9 1157.5,842 1165.5,844.6 1173.5,847 1181.5,849.6 1189.5,853.1 1197.5,857.9 1205.5,863.3 1213.5,869.1 1221.5,875.2 1229.5,881.5 1237.5,887.6 1245.5,893.6 1253.5,899 1261.5,904.1 1267.4,907.8 1307.4,933 1307.4,600 1117.5,600" fill="#dcdc28"/><polygon points="1117.5,827.7 1157.5,840 1165.5,842.5 1173.5,844.7 1181.5,847.2 1189.5,850.6 1197.5,855.2 1205.5,860.5 1213.5,866.3 1221.5,872.4 1229.5,878.5 1237.5,884.7 1245.5,890.6 1253.5,896.1 1261.5,901.3 1267.4,905.2 1307.4,931.4 1307.4,600 1117.5,600" fill="#e4de2b"/><polygon points="1117.5,826.4 1157.5,838 1165.5,840.3 1173.5,842.4 1181.5,844.7 1189.5,848 1197.5,852.6 1205.5,857.8 1213.5,863.5 1221.5,869.5 1229.5,875.6 1237.5,881.7 1245.5,887.6 1253.5,893.2 1261.5,898.6 1267.4,902.6 1307.4,929.7 1307.4,600 1117.5,600" fill="#ecdf2e"/><polygon points="1117.5,825.1 1157.5,836 1165.5,838.2 1173.5,840.1 1181.5,842.3 1189.5,845.5 1197.5,849.9 1205.5,855.1 1213.5,860.7 1221.5,866.6 1229.5,872.6 1237.5,878.7 1245.5,884.6 1253.5,890.2 1261.5,895.9 1267.4,900 1307.4,928.1 1307.4,600 1117.5,600" fill="#f2d92e"/><polygon points="1117.5,824.2 1157.5,834 1165.5,836 1173.5,837.6 1181.5,839.7 1189.5,842.7 1197.5,847.1 1205.5,852.3 1213.5,857.9 1221.5,863.9 1229.5,870 1237.5,876.2 1245.5,882.2 1253.5,887.9 1261.5,893.7 1267.4,898 1307.4,927 1307.4,600 1117.5,600" fill="#f5ca2b"/><polygon points="1117.5,823.2 1157.5,832 1165.5,833.8 1173.5,835.2 1181.5,837 1189.5,839.9 1197.5,844.3 1205.5,849.5 1213.5,855.1 1221.5,861.2 1229.5,867.4 1237.5,873.7 1245.5,879.7 1253.5,885.6 1261.5,891.6 1267.4,896 1307.4,925.9 1307.4,600 1117.5,600" fill="#f7b826"/><polygon points="1117.5,822.3 1157.5,830 1165.5,831.5 1173.5,832.8 1181.5,834.4 1189.5,837.1 1197.5,841.5 1205.5,846.7 1213.5,852.4 1221.5,858.5 1229.5,864.8 1237.5,871.2 1245.5,877.3 1253.5,883.3 1261.5,889.5 1267.4,894 1307.4,924.8 1307.4,600 1117.5,600" fill="#f3a01e"/><polygon points="1117.5,821.3 1157.5,828 1165.5,829.3 1173.5,830.3 1181.5,831.7 1189.5,834.3 1197.5,838.7 1205.5,843.8 1213.5,849.6 1221.5,855.8 1229.5,862.2 1237.5,868.6 1245.5,874.9 1253.5,881 1261.5,887.3 1267.4,892 1307.4,923.6 1307.4,600 1117.5,600" fill="#f08818"/><polygon points="1117.5,820.4 1157.5,826 1165.5,827.1 1173.5,827.9 1181.5,829.1 1189.5,831.6 1197.5,835.8 1205.5,841 1213.5,846.9 1221.5,853.1 1229.5,859.6 1237.5,866.1 1245.5,872.5 1253.5,878.7 1261.5,885.2 1267.4,890 1307.4,922.5 1307.4,600 1117.5,600" fill="#ec7018"/><polygon points="1117.5,819.3 1157.5,825 1165.5,826.1 1173.5,826.9 1181.5,828.1 1189.5,830.6 1197.5,834.8 1205.5,840 1213.5,845.7 1221.5,851.9 1229.5,858.4 1237.5,864.8 1245.5,871.1 1253.5,877.2 1261.5,883.7 1267.4,888.4 1307.4,920.5 1307.4,600 1117.5,600" fill="#e75519"/><polygon points="1117.5,818.3 1157.5,824 1165.5,825.1 1173.5,825.9 1181.5,827.1 1189.5,829.6 1197.5,833.8 1205.5,838.9 1213.5,844.6 1221.5,850.8 1229.5,857.1 1237.5,863.5 1245.5,869.7 1253.5,875.8 1261.5,882.1 1267.4,886.8 1307.4,918.5 1307.4,600 1117.5,600" fill="#e2421c"/><polygon points="1117.5,817.3 1157.5,823 1165.5,824.1 1173.5,824.9 1181.5,826.1 1189.5,828.6 1197.5,832.8 1205.5,837.8 1213.5,843.5 1221.5,849.6 1229.5,855.9 1237.5,862.2 1245.5,868.3 1253.5,874.3 1261.5,880.6 1267.4,885.2 1307.4,916.5 1307.4,600 1117.5,600" fill="#e03a1e"/><polygon points="1117.5,816.2 1157.5,822 1165.5,823.2 1173.5,823.9 1181.5,825.2 1189.5,827.6 1197.5,831.7 1205.5,836.8 1213.5,842.4 1221.5,848.4 1229.5,854.6 1237.5,860.9 1245.5,866.9 1253.5,872.9 1261.5,879.1 1267.4,883.6 1307.4,914.4 1307.4,600 1117.5,600" fill="#e03a1e"/><polygon points="1117.5,815.2 1157.5,821 1165.5,822.2 1173.5,823 1181.5,824.2 1189.5,826.6 1197.5,830.7 1205.5,835.7 1213.5,841.2 1221.5,847.2 1229.5,853.4 1237.5,859.5 1245.5,865.5 1253.5,871.4 1261.5,877.5 1267.4,882 1307.4,912.4 1307.4,600 1117.5,600" fill="#e03a1e"/><polygon points="1117.5,812.5 1157.5,817.8 1165.5,818.9 1173.5,819.6 1181.5,820.7 1189.5,823.1 1197.5,827.1 1205.5,831.9 1213.5,837.4 1221.5,843.3 1229.5,849.3 1237.5,855.4 1245.5,861.4 1253.5,867.2 1261.5,873.2 1267.4,877.6 1307.4,907.6 1307.4,600 1117.5,600" fill="#e03a1e"/><polygon points="1117.5,809.7 1157.5,814.6 1165.5,815.6 1173.5,816.2 1181.5,817.2 1189.5,819.5 1197.5,823.4 1205.5,828.2 1213.5,833.6 1221.5,839.4 1229.5,845.3 1237.5,851.3 1245.5,857.2 1253.5,862.9 1261.5,868.8 1267.4,873.2 1307.4,902.8 1307.4,600 1117.5,600" fill="#e03a1e"/><polygon points="1117.5,807 1157.5,811.4 1165.5,812.3 1173.5,812.8 1181.5,813.8 1189.5,815.9 1197.5,819.8 1205.5,824.5 1213.5,829.7 1221.5,835.4 1229.5,841.3 1237.5,847.3 1245.5,853 1253.5,858.6 1261.5,864.5 1267.4,868.8 1307.4,898 1307.4,600 1117.5,600" fill="#e03a1e"/><polygon points="1117.5,804.2 1157.5,808.2 1165.5,809 1173.5,809.4 1181.5,810.3 1189.5,812.4 1197.5,816.1 1205.5,820.7 1213.5,825.9 1221.5,831.5 1229.5,837.3 1237.5,843.2 1245.5,848.8 1253.5,854.4 1261.5,860.1 1267.4,864.4 1307.4,893.2 1307.4,600 1117.5,600" fill="#e03a1e"/><polygon points="1117.5,801.5 1157.5,805 1165.5,805.7 1173.5,806 1181.5,806.8 1189.5,808.8 1197.5,812.4 1205.5,817 1213.5,822.1 1221.5,827.6 1229.5,833.3 1237.5,839.1 1245.5,844.7 1253.5,850.1 1261.5,855.8 1267.4,860 1307.4,888.4 1307.4,600 1117.5,600" fill="#dc381e"/><polygon points="1117.5,797.4 1157.5,801 1165.5,801.7 1173.5,802.1 1181.5,802.9 1189.5,804.8 1197.5,808.4 1205.5,812.8 1213.5,817.8 1221.5,823.2 1229.5,828.8 1237.5,834.4 1245.5,839.9 1253.5,845.2 1261.5,850.9 1267.4,855 1307.4,883.1 1307.4,600 1117.5,600" fill="#d5331f"/><polygon points="1117.5,793.4 1157.5,797 1165.5,797.7 1173.5,798.1 1181.5,798.9 1189.5,800.8 1197.5,804.3 1205.5,808.7 1213.5,813.6 1221.5,818.8 1229.5,824.3 1237.5,829.8 1245.5,835.1 1253.5,840.4 1261.5,845.9 1267.4,850 1307.4,877.7 1307.4,600 1117.5,600" fill="#ca2e1f"/><polygon points="1117.5,789.3 1157.5,793 1165.5,793.7 1173.5,794.1 1181.5,794.9 1189.5,796.9 1197.5,800.3 1205.5,804.5 1213.5,809.3 1221.5,814.4 1229.5,819.7 1237.5,825.1 1245.5,830.3 1253.5,835.5 1261.5,841 1267.4,845 1307.4,872.3 1307.4,600 1117.5,600" fill="#b8281d"/><polygon points="1117.5,785.2 1157.5,789 1165.5,789.8 1173.5,790.2 1181.5,791 1189.5,792.9 1197.5,796.2 1205.5,800.4 1213.5,805 1221.5,810 1229.5,815.2 1237.5,820.5 1245.5,825.6 1253.5,830.6 1261.5,836 1267.4,840 1307.4,866.9 1307.4,600 1117.5,600" fill="#a6231b"/><polygon points="1117.5,781.2 1157.5,785 1165.5,785.8 1173.5,786.2 1181.5,787 1189.5,788.9 1197.5,792.2 1205.5,796.2 1213.5,800.8 1221.5,805.6 1229.5,810.7 1237.5,815.8 1245.5,820.8 1253.5,825.8 1261.5,831.1 1267.4,835 1307.4,861.6 1307.4,600 1117.5,600" fill="#931d19"/><polygon points="1117.5,776.8 1157.5,782 1165.5,783 1173.5,783.8 1181.5,784.9 1189.5,786.9 1197.5,790.2 1205.5,794.1 1213.5,798.5 1221.5,803.1 1229.5,808 1237.5,812.9 1245.5,817.6 1253.5,822.4 1261.5,827.5 1267.4,831.2 1307.4,856.5 1307.4,600 1117.5,600" fill="#841818"/><polygon points="1117.5,772.5 1157.5,779 1165.5,780.3 1173.5,781.4 1181.5,782.7 1189.5,784.9 1197.5,788.1 1205.5,792 1213.5,796.2 1221.5,800.6 1229.5,805.3 1237.5,809.9 1245.5,814.5 1253.5,819 1261.5,823.9 1267.4,827.4 1307.4,851.5 1307.4,600 1117.5,600" fill="#781418"/><polygon points="1117.5,768.1 1157.5,776 1165.5,777.6 1173.5,779 1181.5,780.6 1189.5,782.9 1197.5,786.1 1205.5,789.8 1213.5,793.9 1221.5,798.2 1229.5,802.6 1237.5,807 1245.5,811.3 1253.5,815.7 1261.5,820.2 1267.4,823.6 1307.4,846.4 1307.4,600 1117.5,600" fill="#6c1018"/><polygon points="1117.5,763.7 1157.5,773 1165.5,774.9 1173.5,776.5 1181.5,778.4 1189.5,780.9 1197.5,784.1 1205.5,787.7 1213.5,791.6 1221.5,795.7 1229.5,799.8 1237.5,804 1245.5,808.2 1253.5,812.3 1261.5,816.6 1267.4,819.8 1307.4,841.3 1307.4,600 1117.5,600" fill="#600c18"/><polygon points="1117.5,759.4 1157.5,770 1165.5,772.1 1173.5,774.1 1181.5,776.3 1189.5,778.9 1197.5,782.1 1205.5,785.6 1213.5,789.3 1221.5,793.2 1229.5,797.1 1237.5,801.1 1245.5,805 1253.5,809 1261.5,813 1267.4,816 1307.4,836.3 1307.4,600 1117.5,600" fill="#5a0a18"/></g><g clip-path="url(#cpFG)"><rect x="1000" y="850" width="240" height="200" fill="#8010c0"/><polygon points="1005,926.4 1035,935 1043,937.3 1051,939.4 1059,942.7 1067,948.6 1075,956.1 1083,964.6 1091,973.3 1099,981.6 1107,989.2 1115,996.5 1123,1003.6 1131,1010.4 1139,1017.1 1147,1023.6 1155,1029.7 1163,1035.7 1171,1041.5 1179,1047.4 1187,1053.4 1195,1059.5 1203,1065.5 1211,1071.6 1219,1077.7 1222,1080 1252,1102.8 1252,820 1005,820" fill="#7e11bf"/><polygon points="1005,921.9 1035,930.8 1043,933.1 1051,935.2 1059,938.6 1067,944.2 1075,951.2 1083,959.1 1091,967.2 1099,975 1107,982.2 1115,989.2 1123,996 1131,1002.7 1139,1009.2 1147,1015.5 1155,1021.6 1163,1027.6 1171,1033.5 1179,1039.4 1187,1045.4 1195,1051.5 1203,1057.5 1211,1063.6 1219,1069.7 1222,1072 1252,1094.8 1252,820 1005,820" fill="#7912bd"/><polygon points="1005,917.5 1035,926.5 1043,928.9 1051,931.1 1059,934.4 1067,939.7 1075,946.3 1083,953.6 1091,961.1 1099,968.5 1107,975.3 1115,981.9 1123,988.5 1131,994.9 1139,1001.3 1147,1007.5 1155,1013.5 1163,1019.5 1171,1025.4 1179,1031.4 1187,1037.4 1195,1043.5 1203,1049.5 1211,1055.6 1219,1061.7 1222,1064 1252,1086.8 1252,820 1005,820" fill="#7513bb"/><polygon points="1005,913 1035,922.2 1043,924.7 1051,927 1059,930.3 1067,935.3 1075,941.4 1083,948.1 1091,955.1 1099,961.9 1107,968.3 1115,974.6 1123,980.9 1131,987.1 1139,993.3 1147,999.4 1155,1005.5 1163,1011.4 1171,1017.4 1179,1023.4 1187,1029.4 1195,1035.5 1203,1041.5 1211,1047.6 1219,1053.7 1222,1056 1252,1078.8 1252,820 1005,820" fill="#7015b9"/><polygon points="1005,908.5 1035,918 1043,920.5 1051,922.9 1059,926.1 1067,930.8 1075,936.4 1083,942.6 1091,949 1099,955.3 1107,961.4 1115,967.4 1123,973.4 1131,979.4 1139,985.4 1147,991.4 1155,997.4 1163,1003.4 1171,1009.3 1179,1015.4 1187,1021.4 1195,1027.5 1203,1033.5 1211,1039.6 1219,1045.7 1222,1048 1252,1070.8 1252,820 1005,820" fill="#6a17b6"/><polygon points="1005,905.9 1035,915.5 1043,918.1 1051,920.5 1059,923.7 1067,928.2 1075,933.6 1083,939.5 1091,945.6 1099,951.7 1107,957.5 1115,963.2 1123,968.9 1131,974.6 1139,980.4 1147,986.3 1155,992.3 1163,998.3 1171,1004.3 1179,1010.4 1187,1016.4 1195,1022.5 1203,1028.5 1211,1034.6 1219,1040.7 1222,1043 1252,1065.8 1252,820 1005,820" fill="#6019b2"/><polygon points="1005,903.3 1035,913 1043,915.6 1051,918.1 1059,921.2 1067,925.6 1075,930.8 1083,936.5 1091,942.3 1099,948.1 1107,953.6 1115,959 1123,964.4 1131,969.9 1139,975.5 1147,981.3 1155,987.2 1163,993.2 1171,999.3 1179,1005.4 1187,1011.4 1195,1017.5 1203,1023.5 1211,1029.6 1219,1035.7 1222,1038 1252,1060.8 1252,820 1005,820" fill="#581cae"/><polygon points="1005,900.7 1035,910.5 1043,913.1 1051,915.6 1059,918.8 1067,923 1075,928 1083,933.4 1091,938.9 1099,944.4 1107,949.7 1115,954.8 1123,960 1131,965.2 1139,970.6 1147,976.2 1155,982.1 1163,988.1 1171,994.2 1179,1000.3 1187,1006.4 1195,1012.5 1203,1018.5 1211,1024.6 1219,1030.7 1222,1033 1252,1055.8 1252,820 1005,820" fill="#4e1faa"/><polygon points="1005,898 1035,908 1043,910.7 1051,913.2 1059,916.3 1067,920.4 1075,925.2 1083,930.3 1091,935.6 1099,940.8 1107,945.8 1115,950.6 1123,955.5 1131,960.4 1139,965.6 1147,971.2 1155,977 1163,983 1171,989.2 1179,995.3 1187,1001.4 1195,1007.5 1203,1013.5 1211,1019.6 1219,1025.7 1222,1028 1252,1050.8 1252,820 1005,820" fill="#4921a7"/><polygon points="1005,896.7 1035,906.8 1043,909.4 1051,912 1059,915.1 1067,919.1 1075,923.7 1083,928.7 1091,933.8 1099,938.9 1107,943.7 1115,948.4 1123,953.1 1131,957.9 1139,962.9 1147,968.3 1155,974.1 1163,980 1171,986.1 1179,992.1 1187,998.1 1195,1004.1 1203,1010.2 1211,1016.2 1219,1022.2 1222,1024.5 1252,1047.1 1252,820 1005,820" fill="#4624a6"/><polygon points="1005,895.4 1035,905.5 1043,908.2 1051,910.8 1059,913.9 1067,917.8 1075,922.3 1083,927.1 1091,932 1099,936.9 1107,941.6 1115,946.2 1123,950.7 1131,955.3 1139,960.2 1147,965.5 1155,971.1 1163,977 1171,982.9 1179,988.9 1187,994.8 1195,1000.8 1203,1006.8 1211,1012.8 1219,1018.8 1222,1021 1252,1043.4 1252,820 1005,820" fill="#4327a4"/><polygon points="1005,894.1 1035,904.2 1043,907 1051,909.6 1059,912.7 1067,916.5 1075,920.9 1083,925.5 1091,930.3 1099,935 1107,939.5 1115,943.9 1123,948.3 1131,952.8 1139,957.5 1147,962.7 1155,968.2 1163,973.9 1171,979.8 1179,985.7 1187,991.5 1195,997.4 1203,1003.4 1211,1009.3 1219,1015.3 1222,1017.5 1252,1039.7 1252,820 1005,820" fill="#402aa3"/><polygon points="1005,892.8 1035,903 1043,905.7 1051,908.4 1059,911.4 1067,915.2 1075,919.4 1083,923.9 1091,928.5 1099,933.1 1107,937.4 1115,941.7 1123,945.9 1131,950.2 1139,954.9 1147,959.9 1155,965.3 1163,970.9 1171,976.7 1179,982.5 1187,988.2 1195,994.1 1203,1000 1211,1005.9 1219,1011.8 1222,1014 1252,1036.1 1252,820 1005,820" fill="#3d2da2"/><polygon points="1005,892 1035,902 1043,904.7 1051,907.3 1059,910.2 1067,913.9 1075,918 1083,922.3 1091,926.7 1099,931.1 1107,935.4 1115,939.4 1123,943.5 1131,947.6 1139,952.1 1147,957.1 1155,962.5 1163,968.1 1171,973.9 1179,979.7 1187,985.5 1195,991.3 1203,997.1 1211,1003 1219,1008.8 1222,1011 1252,1032.9 1252,820 1005,820" fill="#3b2fa0"/><polygon points="1005,891.2 1035,901 1043,903.6 1051,906.1 1059,909 1067,912.6 1075,916.5 1083,920.7 1091,924.9 1099,929.2 1107,933.3 1115,937.2 1123,941 1131,945.1 1139,949.4 1147,954.3 1155,959.7 1163,965.3 1171,971.2 1179,977 1187,982.7 1195,988.5 1203,994.2 1211,1000 1219,1005.8 1222,1008 1252,1029.7 1252,820 1005,820" fill="#424cb1"/><polygon points="1005,890.5 1035,900 1043,902.5 1051,905 1059,907.8 1067,911.2 1075,915 1083,919.1 1091,923.2 1099,927.3 1107,931.2 1115,934.9 1123,938.6 1131,942.5 1139,946.7 1147,951.5 1155,956.9 1163,962.6 1171,968.4 1179,974.2 1187,979.9 1195,985.6 1203,991.4 1211,997.1 1219,1002.9 1222,1005 1252,1026.5 1252,820 1005,820" fill="#4b6fc6"/><polygon points="1005,889.7 1035,899 1043,901.5 1051,903.9 1059,906.6 1067,909.9 1075,913.6 1083,917.4 1091,921.4 1099,925.3 1107,929.1 1115,932.6 1123,936.2 1131,939.9 1139,944 1147,948.7 1155,954.1 1163,959.8 1171,965.7 1179,971.5 1187,977.2 1195,982.8 1203,988.5 1211,994.2 1219,999.9 1222,1002 1252,1023.3 1252,820 1005,820" fill="#5489d3"/><polygon points="1005,889.6 1035,898 1043,900.2 1051,902.4 1059,905 1067,908.1 1075,911.6 1083,915.3 1091,919.1 1099,922.9 1107,926.5 1115,930 1123,933.4 1131,937 1139,941.1 1147,945.7 1155,950.9 1163,956.5 1171,962.3 1179,968 1187,973.7 1195,979.3 1203,985 1211,990.7 1219,996.4 1222,998.5 1252,1019.8 1252,820 1005,820" fill="#5c9bd9"/><polygon points="1005,889.4 1035,897 1043,899 1051,901 1059,903.3 1067,906.2 1075,909.6 1083,913.1 1091,916.8 1099,920.4 1107,924 1115,927.3 1123,930.6 1131,934.2 1139,938.1 1147,942.6 1155,947.7 1163,953.2 1171,958.9 1179,964.6 1187,970.1 1195,975.8 1203,981.5 1211,987.2 1219,992.9 1222,995 1252,1016.3 1252,820 1005,820" fill="#64addf"/><polygon points="1005,889.3 1035,896 1043,897.8 1051,899.5 1059,901.6 1067,904.4 1075,907.5 1083,910.9 1091,914.5 1099,918 1107,921.4 1115,924.6 1123,927.8 1131,931.3 1139,935.1 1147,939.6 1155,944.6 1163,949.9 1171,955.5 1179,961.1 1187,966.6 1195,972.2 1203,977.9 1211,983.7 1219,989.4 1222,991.5 1252,1012.8 1252,820 1005,820" fill="#6cbfe5"/><polygon points="1005,889.1 1035,895 1043,896.6 1051,898.1 1059,899.9 1067,902.5 1075,905.5 1083,908.8 1091,912.2 1099,915.5 1107,918.8 1115,921.9 1123,925.1 1131,928.4 1139,932.2 1147,936.5 1155,941.4 1163,946.6 1171,952.1 1179,957.6 1187,963.1 1195,968.7 1203,974.4 1211,980.1 1219,985.9 1222,988 1252,1009.3 1252,820 1005,820" fill="#75cbe4"/><polygon points="1005,888.3 1035,894 1043,895.5 1051,897 1059,898.8 1067,901.2 1075,904 1083,907 1091,910.2 1099,913.4 1107,916.4 1115,919.3 1123,922.2 1131,925.4 1139,929 1147,933.2 1155,938.1 1163,943.3 1171,948.8 1179,954.4 1187,959.8 1195,965.4 1203,971.1 1211,976.9 1219,982.6 1222,984.8 1252,1006.1 1252,820 1005,820" fill="#80d0db"/><polygon points="1005,887.6 1035,893 1043,894.5 1051,895.9 1059,897.6 1067,899.9 1075,902.5 1083,905.3 1091,908.3 1099,911.2 1107,914.1 1115,916.7 1123,919.4 1131,922.4 1139,925.8 1147,929.9 1155,934.7 1163,940 1171,945.5 1179,951.1 1187,956.6 1195,962.2 1203,967.9 1211,973.6 1219,979.4 1222,981.5 1252,1002.8 1252,820 1005,820" fill="#8bd5d2"/><polygon points="1005,886.8 1035,892 1043,893.4 1051,894.7 1059,896.4 1067,898.5 1075,901 1083,903.6 1091,906.3 1099,909.1 1107,911.7 1115,914.1 1123,916.6 1131,919.3 1139,922.6 1147,926.6 1155,931.4 1163,936.7 1171,942.3 1179,947.8 1187,953.3 1195,958.9 1203,964.6 1211,970.4 1219,976.1 1222,978.2 1252,999.6 1252,820 1005,820" fill="#96dbc9"/><polygon points="1005,886 1035,891 1043,892.3 1051,893.6 1059,895.2 1067,897.2 1075,899.4 1083,901.9 1091,904.4 1099,906.9 1107,909.3 1115,911.6 1123,913.8 1131,916.3 1139,919.4 1147,923.3 1155,928.1 1163,933.4 1171,939 1179,944.6 1187,950.1 1195,955.7 1203,961.4 1211,967.1 1219,972.9 1222,975 1252,996.3 1252,820 1005,820" fill="#96dbc9"/><polygon points="1005,885.4 1035,890.5 1043,891.9 1051,893.2 1059,894.7 1067,896.6 1075,898.8 1083,901 1091,903.4 1099,905.7 1107,908 1115,910 1123,912 1131,914.3 1139,917.2 1147,921 1155,925.6 1163,930.8 1171,936.4 1179,941.9 1187,947.3 1195,952.8 1203,958.4 1211,964 1219,969.7 1222,971.8 1252,992.7 1252,820 1005,820" fill="#8bd5d2"/><polygon points="1005,884.8 1035,890 1043,891.4 1051,892.7 1059,894.2 1067,896.1 1075,898.1 1083,900.2 1091,902.4 1099,904.6 1107,906.6 1115,908.4 1123,910.2 1131,912.3 1139,915 1147,918.7 1155,923.2 1163,928.3 1171,933.7 1179,939.2 1187,944.5 1195,949.9 1203,955.4 1211,960.9 1219,966.4 1222,968.5 1252,989.1 1252,820 1005,820" fill="#80d0db"/><polygon points="1005,884.3 1035,889.5 1043,890.9 1051,892.3 1059,893.8 1067,895.5 1075,897.4 1083,899.4 1091,901.4 1099,903.4 1107,905.3 1115,906.9 1123,908.4 1131,910.3 1139,912.8 1147,916.4 1155,920.8 1163,925.8 1171,931.1 1179,936.5 1187,941.7 1195,947 1203,952.4 1211,957.8 1219,963.2 1222,965.2 1252,985.4 1252,820 1005,820" fill="#75cbe4"/><polygon points="1005,883.7 1035,889 1043,890.4 1051,891.8 1059,893.3 1067,895 1075,896.7 1083,898.5 1091,900.4 1099,902.2 1107,903.9 1115,905.3 1123,906.7 1131,908.3 1139,910.7 1147,914 1155,918.3 1163,923.2 1171,928.5 1179,933.8 1187,938.9 1195,944.1 1203,949.4 1211,954.7 1219,960 1222,962 1252,981.8 1252,820 1005,820" fill="#6cc0e5"/><polygon points="1005,883.2 1035,888.5 1043,889.9 1051,891.3 1059,892.8 1067,894.4 1075,896.1 1083,897.8 1091,899.5 1099,901.3 1107,902.9 1115,904.1 1123,905.4 1131,906.9 1139,909.2 1147,912.5 1155,916.8 1163,921.7 1171,927 1179,932.3 1187,937.4 1195,942.6 1203,947.9 1211,953.2 1219,958.5 1222,960.5 1252,980.3 1252,820 1005,820" fill="#65afe0"/><polygon points="1005,882.6 1035,888 1043,889.4 1051,890.9 1059,892.3 1067,893.9 1075,895.5 1083,897.1 1091,898.7 1099,900.3 1107,901.8 1115,903 1123,904.1 1131,905.5 1139,907.7 1147,911 1155,915.2 1163,920.2 1171,925.5 1179,930.8 1187,935.9 1195,941.1 1203,946.4 1211,951.7 1219,957 1222,959 1252,978.8 1252,820 1005,820" fill="#5d9eda"/><polygon points="1005,882.1 1035,887.5 1043,888.9 1051,890.4 1059,891.9 1067,893.3 1075,894.8 1083,896.3 1091,897.8 1099,899.3 1107,900.8 1115,901.8 1123,902.8 1131,904.1 1139,906.2 1147,909.5 1155,913.7 1163,918.6 1171,923.9 1179,929.3 1187,934.4 1195,939.6 1203,944.9 1211,950.2 1219,955.5 1222,957.5 1252,977.3 1252,820 1005,820" fill="#568dd4"/><polygon points="1005,881.5 1035,887 1043,888.5 1051,889.9 1059,891.4 1067,892.8 1075,894.2 1083,895.6 1091,897 1099,898.4 1107,899.7 1115,900.6 1123,901.5 1131,902.7 1139,904.8 1147,907.9 1155,912.2 1163,917.1 1171,922.4 1179,927.8 1187,932.9 1195,938.1 1203,943.4 1211,948.7 1219,954 1222,956 1252,975.8 1252,820 1005,820" fill="#5994d6"/><polygon points="1005,880.4 1035,886.2 1043,887.8 1051,889.4 1059,890.9 1067,892.2 1075,893.5 1083,894.7 1091,895.8 1099,897 1107,898.1 1115,898.7 1123,899.3 1131,900.4 1139,902.3 1147,905.5 1155,909.9 1163,915.2 1171,920.8 1179,926.4 1187,931.7 1195,937 1203,942.3 1211,947.7 1219,953 1222,955 1252,975 1252,820 1005,820" fill="#66b2e0"/><polygon points="1005,879.2 1035,885.5 1043,887.2 1051,888.9 1059,890.4 1067,891.7 1075,892.7 1083,893.7 1091,894.6 1099,895.6 1107,896.4 1115,896.8 1123,897.2 1131,898 1139,899.8 1147,903 1155,907.7 1163,913.3 1171,919.2 1179,925.1 1187,930.5 1195,935.9 1203,941.2 1211,946.6 1219,952 1222,954 1252,974.1 1252,820 1005,820" fill="#76cbe3"/><polygon points="1005,878.1 1035,884.8 1043,886.5 1051,888.3 1059,889.9 1067,891.1 1075,892 1083,892.8 1091,893.5 1099,894.2 1107,894.8 1115,895 1123,895 1131,895.6 1139,897.3 1147,900.6 1155,905.4 1163,911.3 1171,917.6 1179,923.8 1187,929.3 1195,934.8 1203,940.2 1211,945.6 1219,951 1222,953 1252,973.3 1252,820 1005,820" fill="#8fd7ce"/><polygon points="1005,876.9 1035,884 1043,885.9 1051,887.8 1059,889.5 1067,890.5 1075,891.3 1083,891.8 1091,892.3 1099,892.8 1107,893.2 1115,893.1 1123,892.9 1131,893.2 1139,894.8 1147,898.1 1155,903.2 1163,909.4 1171,916 1179,922.4 1187,928.1 1195,933.7 1203,939.1 1211,944.5 1219,950 1222,952 1252,972.5 1252,820 1005,820" fill="#93d9a1"/><polygon points="1005,875.9 1035,883 1043,884.9 1051,886.9 1059,888.5 1067,889.5 1075,890.2 1083,890.6 1091,890.9 1099,891.3 1107,891.6 1115,891.4 1123,891.1 1131,891.3 1139,892.8 1147,896.1 1155,901.2 1163,907.4 1171,914.1 1179,920.6 1187,926.5 1195,932.1 1203,937.7 1211,943.3 1219,948.9 1222,951 1252,972 1252,820 1005,820" fill="#5ab91c"/><polygon points="1005,874.8 1035,882 1043,883.9 1051,885.9 1059,887.5 1067,888.5 1075,889 1083,889.4 1091,889.6 1099,889.8 1107,890.1 1115,889.7 1123,889.3 1131,889.4 1139,890.8 1147,894.1 1155,899.2 1163,905.5 1171,912.3 1179,918.8 1187,924.8 1195,930.6 1203,936.3 1211,942.1 1219,947.8 1222,950 1252,971.6 1252,820 1005,820" fill="#62ba1a"/><polygon points="1005,873.8 1035,881 1043,882.9 1051,884.9 1059,886.5 1067,887.4 1075,887.9 1083,888.1 1091,888.2 1099,888.4 1107,888.5 1115,888 1123,887.5 1131,887.5 1139,888.8 1147,892.1 1155,897.2 1163,903.5 1171,910.4 1179,917.1 1187,923.1 1195,929 1203,934.9 1211,940.9 1219,946.8 1222,949 1252,971.2 1252,820 1005,820" fill="#6dbc1c"/><polygon points="1005,872.7 1035,880 1043,881.9 1051,883.9 1059,885.5 1067,886.4 1075,886.8 1083,886.9 1091,886.9 1099,886.9 1107,886.9 1115,886.3 1123,885.7 1131,885.6 1139,886.9 1147,890.1 1155,895.2 1163,901.6 1171,908.5 1179,915.3 1187,921.4 1195,927.5 1203,933.5 1211,939.6 1219,945.7 1222,948 1252,970.8 1252,820 1005,820" fill="#75be1e"/><polygon points="1005,871.7 1035,878.8 1043,880.6 1051,882.6 1059,884.1 1067,884.8 1075,885.1 1083,885 1091,884.9 1099,884.8 1107,884.6 1115,883.8 1123,882.9 1131,882.7 1139,883.9 1147,887.1 1155,892.4 1163,899 1171,906.2 1179,913.2 1187,919.5 1195,925.6 1203,931.7 1211,937.8 1219,944 1222,946.2 1252,969.2 1252,820 1005,820" fill="#7cbf1f"/><polygon points="1005,870.7 1035,877.5 1043,879.3 1051,881.2 1059,882.6 1067,883.3 1075,883.4 1083,883.2 1091,882.8 1099,882.6 1107,882.3 1115,881.3 1123,880.2 1131,879.8 1139,880.9 1147,884.2 1155,889.6 1163,896.5 1171,903.9 1179,911.1 1187,917.5 1195,923.7 1203,929.9 1211,936 1219,942.2 1222,944.5 1252,967.6 1252,820 1005,820" fill="#86c220"/><polygon points="1005,869.7 1035,876.2 1043,878 1051,879.8 1059,881.2 1067,881.7 1075,881.6 1083,881.3 1091,880.8 1099,880.4 1107,879.9 1115,878.7 1123,877.4 1131,876.9 1139,877.9 1147,881.2 1155,886.8 1163,893.9 1171,901.6 1179,909.1 1187,915.6 1195,921.9 1203,928.1 1211,934.2 1219,940.4 1222,942.8 1252,966.1 1252,820 1005,820" fill="#92c620"/><polygon points="1005,868.7 1035,875 1043,876.7 1051,878.4 1059,879.7 1067,880.1 1075,879.9 1083,879.4 1091,878.8 1099,878.2 1107,877.6 1115,876.2 1123,874.7 1131,873.9 1139,874.9 1147,878.2 1155,884.1 1163,891.4 1171,899.4 1179,907 1187,913.6 1195,920 1203,926.2 1211,932.4 1219,938.7 1222,941 1252,964.5 1252,820 1005,820" fill="#98c820"/></g><path d="M1046 899 C1047 890 1048.5 880 1049.5 876 C1051 862 1052.5 852 1053.3 850 C1054.5 838 1056 832 1056.7 829.8 C1059 822 1062 816 1064.8 814.3 C1067 815 1069 817.5 1070 818.6 C1072.5 821 1074 821.5 1075 822.4 C1077 824 1078 826 1078.6 827.4 C1081 832 1083 837 1085.2 841.7 C1088 848 1091 854 1093.6 859.5 C1097 866 1101 872 1105.5 877.4 L1108 890 C1095 894 1070 898 1046 899 Z" fill="url(#gOH)"/><polygon points="1049,897 1104,888 1116,899 1108,910 1080,914 1055,910" fill="url(#gOHb)" filter="url(#blur3)"/><text x="1046.7" y="807" font-size="14.5" text-anchor="start" font-weight="bold" fill="#1a1a1a" >-OH</text><text x="1130.8" y="785.3" font-size="15" text-anchor="start" font-weight="bold" fill="#1a1a1a" >C=C</text><text x="1052" y="892.7" font-size="15" text-anchor="start" font-weight="bold" fill="#1a1a1a" >Lose</text><line x1="1075.7" y1="866.6" x2="1148" y2="943" stroke="#111" stroke-width="3.4" stroke-dasharray="14.5 15.5"/><polygon points="1141,944 1154,950 1150,936 1148,943" fill="#111"/><line x1="1184" y1="789.4" x2="1275" y2="829.5" stroke="#5a9ad8" stroke-width="3.5" stroke-dasharray="12 12"/><polygon points="1268,822 1283,833 1266,836 1271,830" fill="#5a9ad8"/><polyline points="1021.6,958 1118,1061.5 1319.2,998" fill="none" stroke="#000" stroke-width="3" stroke-linejoin="miter"/><line x1="1017" y1="959" x2="1027" y2="956.5" stroke="#000" stroke-width="2.4"/><line x1="1039.8" y1="977.3" x2="1034.8" y2="976.3" stroke="#000" stroke-width="2.2"/><line x1="1058" y1="996.1" x2="1053" y2="995.1" stroke="#000" stroke-width="2.2"/><line x1="1076.8" y1="1017.6" x2="1071.8" y2="1016.6" stroke="#000" stroke-width="2.2"/><line x1="1097.6" y1="1039.7" x2="1092.6" y2="1038.7" stroke="#000" stroke-width="2.2"/><line x1="1186" y1="1040.7" x2="1186.5" y2="1044.7" stroke="#000" stroke-width="2.2"/><line x1="1246.3" y1="1021.9" x2="1246.8" y2="1025.9" stroke="#000" stroke-width="2.2"/><line x1="1303.8" y1="1003.9" x2="1304.3" y2="1007.9" stroke="#000" stroke-width="2.2"/><line x1="1154.3" y1="1051.3" x2="1154.8" y2="1053.8" stroke="#000" stroke-width="2.2"/><line x1="1216.9" y1="1031.4" x2="1217.4" y2="1033.9" stroke="#000" stroke-width="2.2"/><line x1="1275.8" y1="1012.3" x2="1276.3" y2="1014.8" stroke="#000" stroke-width="2.2"/><text transform="translate(1022.5,981) rotate(-18) skewX(20)" font-size="13" font-weight="bold" text-anchor="middle" fill="#1a1a1a" dy="4.5">100</text><text transform="translate(1040,1002.3) rotate(-18) skewX(20)" font-size="13" font-weight="bold" text-anchor="middle" fill="#1a1a1a" dy="4.5">200</text><text transform="translate(1057,1022) rotate(-18) skewX(20)" font-size="13" font-weight="bold" text-anchor="middle" fill="#1a1a1a" dy="4.5">300</text><text transform="translate(1076.5,1042) rotate(-18) skewX(20)" font-size="13" font-weight="bold" text-anchor="middle" fill="#1a1a1a" dy="4.5">400</text><text transform="translate(1198,1053.5) rotate(40) skewX(-15)" font-size="13" font-weight="bold" text-anchor="middle" fill="#1a1a1a" dy="4.5">3000</text><text transform="translate(1259,1033.6) rotate(40) skewX(-15)" font-size="13" font-weight="bold" text-anchor="middle" fill="#1a1a1a" dy="4.5">2000</text><text transform="translate(1317,1014.5) rotate(40) skewX(-15)" font-size="13" font-weight="bold" text-anchor="middle" fill="#1a1a1a" dy="4.5">1000</text><text transform="translate(1023,1031) rotate(47.5) skewX(15)" font-size="14.5" font-weight="bold" text-anchor="middle" fill="#1a1a1a" dy="5">Temperature (°C)</text><text transform="translate(1258,1060.5) rotate(-17.4) skewX(35)" font-size="15.5" font-weight="bold" text-anchor="middle" fill="#1a1a1a" dy="5">Wavenumber (cm<tspan font-size="10" dy="-6">-1</tspan><tspan dy="6">)</tspan></text><rect x="1366.9" y="747.3" width="19.8" height="199.4" fill="url(#gCB)"/><text transform="translate(1360.5,845) rotate(-90)" font-size="16.5" font-weight="bold" text-anchor="middle" fill="#1a1a1a">Transmittance</text>
</svg></body></html>
